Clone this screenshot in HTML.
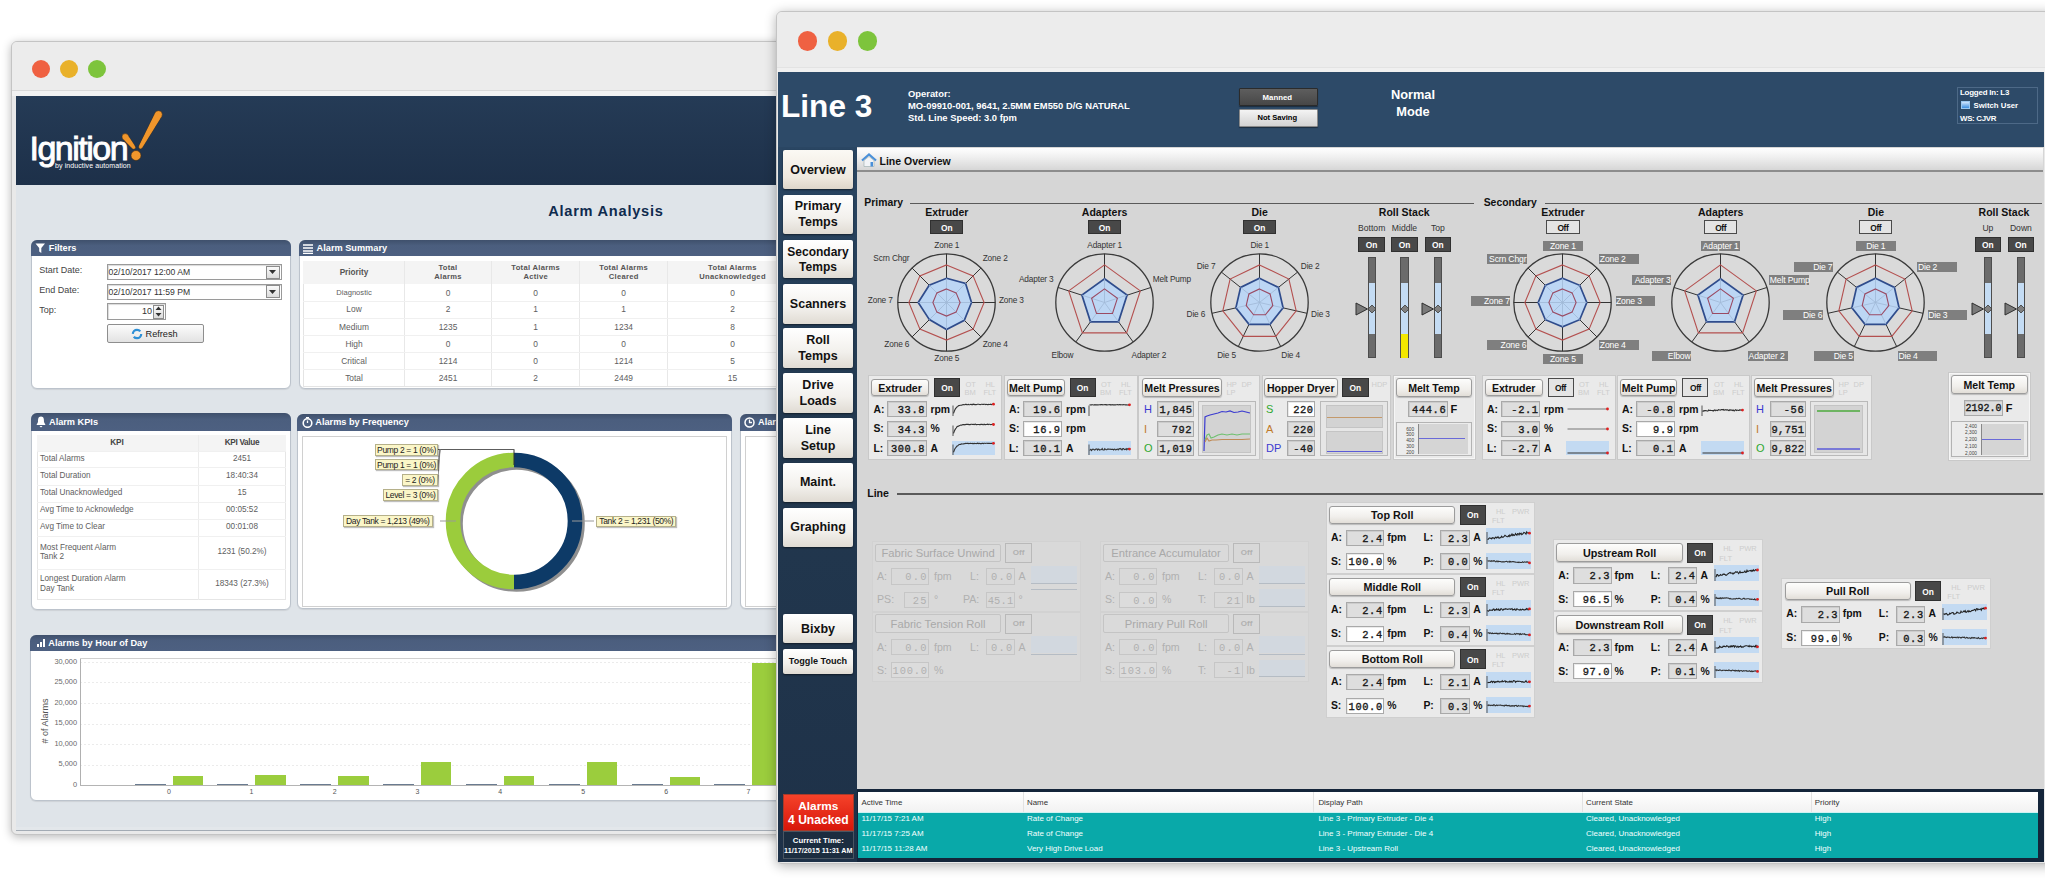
<!DOCTYPE html><html><head><meta charset="utf-8"><style>
html,body{margin:0;padding:0;}
body{width:2045px;height:878px;position:relative;overflow:hidden;background:#fff;font-family:"Liberation Sans",sans-serif;}
div{box-sizing:border-box;}
.mono{font-family:"Liberation Mono",monospace;}
.btn{background:linear-gradient(#fdfdfb,#ece8e2);border:1px solid #a9a9a9;border-radius:3px;box-shadow:0 1px 1px rgba(0,0,0,.25);}
.on{background:#474747;border:1px solid #2e2e2e;color:#fff;font-weight:bold;text-align:center;}
</style></head><body>

<div style="position:absolute;left:11px;top:41px;width:800px;height:794px;background:#e9e9e9;border:1px solid #c4c4c4;border-radius:6px;box-shadow:0 2px 10px rgba(0,0,0,.28);"></div>
<div style="position:absolute;left:12px;top:42px;width:790px;height:48px;background:#ececec;border-radius:5px 5px 0 0;"></div>
<div style="position:absolute;left:12px;top:89.5px;width:790px;height:1px;background:#d9d9d9;"></div>
<div style="position:absolute;left:12px;top:90.5px;width:790px;height:5.5px;background:#f2f2f2;"></div>
<div style="position:absolute;left:32.0px;top:60.0px;width:18.4px;height:18.4px;background:#ef6142;border-radius:50%;"></div>
<div style="position:absolute;left:59.8px;top:60.0px;width:18.4px;height:18.4px;background:#e9b12a;border-radius:50%;"></div>
<div style="position:absolute;left:87.6px;top:60.0px;width:18.4px;height:18.4px;background:#7dc43c;border-radius:50%;"></div>
<div style="position:absolute;left:15.7px;top:96px;width:770px;height:89px;background:linear-gradient(#253b56,#1d3049);"></div>
<div style="position:absolute;left:29.5px;top:127.5px;font-size:34px;color:#fff;letter-spacing:-1.5px;line-height:40px;font-weight:normal;-webkit-text-stroke:0.9px #fff;">Ignition</div>
<div style="position:absolute;left:55px;top:160.8px;font-size:7px;color:#fff;line-height:10px;letter-spacing:0.1px;">by inductive automation</div>
<svg style="position:absolute;left:110px;top:105px" width="60" height="60"><g fill="#f0962c" stroke="#3a2a1a" stroke-width="0.5"><path d="M12.71 33.80 L22.40 43.63 L25.20 41.37 L17.69 29.80Z"/><circle cx="15.2" cy="31.8" r="3.2"/><circle cx="23.8" cy="42.5" r="1.8"/><path d="M12.96 33.60 L22.54 43.51 L25.06 41.49 L17.44 30.00Z" stroke="none"/></g><g fill="#f0962c" stroke="#3a2a1a" stroke-width="0.5"><path d="M45.18 7.66 L28.84 41.08 L32.16 42.92 L51.82 11.34Z"/><circle cx="48.5" cy="9.5" r="3.8"/><circle cx="30.5" cy="42" r="1.9"/><path d="M45.51 7.84 L29.00 41.17 L32.00 42.83 L51.49 11.16Z" stroke="none"/></g><circle cx="26" cy="50.5" r="5" fill="#f0962c" stroke="#3a2a1a" stroke-width="0.6"/></svg>
<div style="position:absolute;left:15.7px;top:185px;width:770px;height:642px;background:#dfe4e9;"></div>
<div style="position:absolute;left:15.7px;top:827px;width:770px;height:3px;background:#e3e7eb;"></div>
<div style="position:absolute;left:15.7px;top:830px;width:770px;height:1.3px;background:#a3abb4;"></div>
<div style="position:absolute;left:548.2px;top:203.0px;width:400px;height:17.52px;line-height:17.52px;font-size:14.6px;color:#0f2b4e;font-weight:bold;text-align:left;white-space:nowrap;letter-spacing:0.75px;">Alarm Analysis</div>
<div style="position:absolute;left:30.8px;top:240px;width:260.4px;height:149px;background:#fff;border:1px solid #bcc3cc;border-radius:6px;box-shadow:0 1px 1px rgba(0,0,0,.08);"></div>
<div style="position:absolute;left:30.8px;top:240px;width:260.4px;height:16.4px;background:linear-gradient(#3f506c,#4b5e7e 35%,#4d6081);border-radius:6px 6px 0 0;"></div>
<svg style="position:absolute;left:35px;top:243px" width="11" height="11"><path d="M0.5 0.5 H10 L6.3 5 V10 L4.2 8.5 V5 Z" fill="#fff"/></svg>
<div style="position:absolute;left:48.8px;top:243.2px;width:400px;height:11.04px;line-height:11.04px;font-size:9.2px;color:#fff;font-weight:bold;text-align:left;white-space:nowrap;">Filters</div>
<div style="position:absolute;left:39.3px;top:265.3px;width:400px;height:10.799999999999999px;line-height:10.799999999999999px;font-size:9px;color:#444;font-weight:normal;text-align:left;white-space:nowrap;">Start Date:</div>
<div style="position:absolute;left:39.3px;top:285.3px;width:400px;height:10.799999999999999px;line-height:10.799999999999999px;font-size:9px;color:#444;font-weight:normal;text-align:left;white-space:nowrap;">End Date:</div>
<div style="position:absolute;left:39.3px;top:305.3px;width:400px;height:10.799999999999999px;line-height:10.799999999999999px;font-size:9px;color:#444;font-weight:normal;text-align:left;white-space:nowrap;">Top:</div>
<div style="position:absolute;left:106.5px;top:264px;width:175px;height:16.3px;background:#fff;border:1px solid #9a9a9a;box-shadow:inset 1px 1px 1px rgba(0,0,0,.15);"></div>
<div style="position:absolute;left:108.5px;top:267.3px;width:400px;height:10.319999999999999px;line-height:10.319999999999999px;font-size:8.6px;color:#333;font-weight:normal;text-align:left;white-space:nowrap;">02/10/2017 12:00 AM</div>
<div style="position:absolute;left:266px;top:265.5px;width:14px;height:13.3px;background:linear-gradient(#fafafa,#dcdcdc);border:1px solid #8c8c8c;"></div>
<svg style="position:absolute;left:269px;top:270px" width="8" height="5"><path d="M0 0 H7 L3.5 4 Z" fill="#333"/></svg>
<div style="position:absolute;left:106.5px;top:283.5px;width:175px;height:16.3px;background:#fff;border:1px solid #9a9a9a;box-shadow:inset 1px 1px 1px rgba(0,0,0,.15);"></div>
<div style="position:absolute;left:108.5px;top:286.8px;width:400px;height:10.319999999999999px;line-height:10.319999999999999px;font-size:8.6px;color:#333;font-weight:normal;text-align:left;white-space:nowrap;">02/10/2017 11:59 PM</div>
<div style="position:absolute;left:266px;top:285.0px;width:14px;height:13.3px;background:linear-gradient(#fafafa,#dcdcdc);border:1px solid #8c8c8c;"></div>
<svg style="position:absolute;left:269px;top:289.5px" width="8" height="5"><path d="M0 0 H7 L3.5 4 Z" fill="#333"/></svg>
<div style="position:absolute;left:106.5px;top:303.3px;width:59px;height:16.3px;background:#fff;border:1px solid #9a9a9a;box-shadow:inset 1px 1px 1px rgba(0,0,0,.15);"></div>
<div style="position:absolute;left:112.0px;top:306.2px;width:40px;height:10.799999999999999px;line-height:10.799999999999999px;font-size:9px;color:#333;font-weight:normal;text-align:right;white-space:nowrap;">10</div>
<div style="position:absolute;left:153px;top:304.5px;width:11px;height:14px;background:linear-gradient(#fafafa,#dcdcdc);border:1px solid #8c8c8c;"></div>
<svg style="position:absolute;left:155px;top:306px" width="8" height="11"><path d="M0.5 4 L3.5 0.5 L6.5 4 Z M0.5 7 L3.5 10.5 L6.5 7 Z" fill="#333"/></svg>
<div style="position:absolute;left:106.5px;top:324px;width:97px;height:19px;background:linear-gradient(#fcfcfc,#e2e2e2);border:1px solid #8e8e8e;border-radius:2px;"></div>
<svg style="position:absolute;left:131px;top:327.5px" width="12" height="12"><circle cx="6" cy="6" r="4.2" fill="none" stroke="#2d8fd6" stroke-width="2.2" stroke-dasharray="10 3"/></svg>
<div style="position:absolute;left:145.5px;top:328.5px;width:400px;height:11.04px;line-height:11.04px;font-size:9.2px;color:#222;font-weight:normal;text-align:left;white-space:nowrap;">Refresh</div>
<div style="position:absolute;left:298.6px;top:240.3px;width:520px;height:149px;background:#fff;border:1px solid #bcc3cc;border-radius:6px;box-shadow:0 1px 1px rgba(0,0,0,.08);"></div>
<div style="position:absolute;left:298.6px;top:240.3px;width:520px;height:16.1px;background:linear-gradient(#3f506c,#4b5e7e 35%,#4d6081);border-radius:6px 6px 0 0;"></div>
<svg style="position:absolute;left:303px;top:243.5px" width="10" height="10"><path d="M0 1h10M0 4h10M0 7h10M0 9.5h10" stroke="#fff" stroke-width="1.5"/></svg>
<div style="position:absolute;left:316.6px;top:243.3px;width:400px;height:11.04px;line-height:11.04px;font-size:9.2px;color:#fff;font-weight:bold;text-align:left;white-space:nowrap;">Alarm Summary</div>
<div style="position:absolute;left:303.4px;top:261.3px;width:486.6px;height:125.5px;background:#fff;border:1px solid #e4e4e4;"></div>
<div style="position:absolute;left:303.4px;top:261.3px;width:486.6px;height:23px;background:#f4f4f4;"></div>
<div style="position:absolute;left:403.7px;top:261.3px;width:1px;height:125.2px;background:#e8e8e8;"></div>
<div style="position:absolute;left:490.5px;top:261.3px;width:1px;height:125.2px;background:#e8e8e8;"></div>
<div style="position:absolute;left:578.5px;top:261.3px;width:1px;height:125.2px;background:#e8e8e8;"></div>
<div style="position:absolute;left:666.5px;top:261.3px;width:1px;height:125.2px;background:#e8e8e8;"></div>
<div style="position:absolute;left:303.4px;top:300.9px;width:486.6px;height:1px;background:#f0f0f0;"></div>
<div style="position:absolute;left:303.4px;top:318px;width:486.6px;height:1px;background:#f0f0f0;"></div>
<div style="position:absolute;left:303.4px;top:335px;width:486.6px;height:1px;background:#f0f0f0;"></div>
<div style="position:absolute;left:303.4px;top:352px;width:486.6px;height:1px;background:#f0f0f0;"></div>
<div style="position:absolute;left:303.4px;top:369.4px;width:486.6px;height:1px;background:#f0f0f0;"></div>
<div style="position:absolute;left:304.0px;top:267.6px;width:100px;height:9.839999999999998px;line-height:9.839999999999998px;font-size:8.2px;color:#555;font-weight:bold;text-align:center;white-space:nowrap;">Priority</div>
<div style="position:absolute;left:398.0px;top:262.9px;width:100px;height:9.12px;line-height:9.12px;font-size:7.6px;color:#555;font-weight:bold;text-align:center;white-space:nowrap;letter-spacing:0.3px;">Total</div>
<div style="position:absolute;left:398.0px;top:272.2px;width:100px;height:9.12px;line-height:9.12px;font-size:7.6px;color:#555;font-weight:bold;text-align:center;white-space:nowrap;letter-spacing:0.3px;">Alarms</div>
<div style="position:absolute;left:485.7px;top:262.9px;width:100px;height:9.12px;line-height:9.12px;font-size:7.6px;color:#555;font-weight:bold;text-align:center;white-space:nowrap;letter-spacing:0.3px;">Total Alarms</div>
<div style="position:absolute;left:485.7px;top:272.2px;width:100px;height:9.12px;line-height:9.12px;font-size:7.6px;color:#555;font-weight:bold;text-align:center;white-space:nowrap;letter-spacing:0.3px;">Active</div>
<div style="position:absolute;left:573.7px;top:262.9px;width:100px;height:9.12px;line-height:9.12px;font-size:7.6px;color:#555;font-weight:bold;text-align:center;white-space:nowrap;letter-spacing:0.3px;">Total Alarms</div>
<div style="position:absolute;left:573.7px;top:272.2px;width:100px;height:9.12px;line-height:9.12px;font-size:7.6px;color:#555;font-weight:bold;text-align:center;white-space:nowrap;letter-spacing:0.3px;">Cleared</div>
<div style="position:absolute;left:682.5px;top:262.9px;width:100px;height:9.12px;line-height:9.12px;font-size:7.6px;color:#555;font-weight:bold;text-align:center;white-space:nowrap;letter-spacing:0.3px;">Total Alarms</div>
<div style="position:absolute;left:682.5px;top:272.2px;width:100px;height:9.12px;line-height:9.12px;font-size:7.6px;color:#555;font-weight:bold;text-align:center;white-space:nowrap;letter-spacing:0.3px;">Unacknowledged</div>
<div style="position:absolute;left:304.0px;top:288.0px;width:100px;height:9.12px;line-height:9.12px;font-size:7.6px;color:#5e5e5e;font-weight:normal;text-align:center;white-space:nowrap;">Diagnostic</div>
<div style="position:absolute;left:398.0px;top:287.6px;width:100px;height:10.08px;line-height:10.08px;font-size:8.4px;color:#5e5e5e;font-weight:normal;text-align:center;white-space:nowrap;">0</div>
<div style="position:absolute;left:485.7px;top:287.6px;width:100px;height:10.08px;line-height:10.08px;font-size:8.4px;color:#5e5e5e;font-weight:normal;text-align:center;white-space:nowrap;">0</div>
<div style="position:absolute;left:573.7px;top:287.6px;width:100px;height:10.08px;line-height:10.08px;font-size:8.4px;color:#5e5e5e;font-weight:normal;text-align:center;white-space:nowrap;">0</div>
<div style="position:absolute;left:682.5px;top:287.6px;width:100px;height:10.08px;line-height:10.08px;font-size:8.4px;color:#5e5e5e;font-weight:normal;text-align:center;white-space:nowrap;">0</div>
<div style="position:absolute;left:304.0px;top:304.4px;width:100px;height:10.08px;line-height:10.08px;font-size:8.4px;color:#5e5e5e;font-weight:normal;text-align:center;white-space:nowrap;">Low</div>
<div style="position:absolute;left:398.0px;top:304.4px;width:100px;height:10.08px;line-height:10.08px;font-size:8.4px;color:#5e5e5e;font-weight:normal;text-align:center;white-space:nowrap;">2</div>
<div style="position:absolute;left:485.7px;top:304.4px;width:100px;height:10.08px;line-height:10.08px;font-size:8.4px;color:#5e5e5e;font-weight:normal;text-align:center;white-space:nowrap;">1</div>
<div style="position:absolute;left:573.7px;top:304.4px;width:100px;height:10.08px;line-height:10.08px;font-size:8.4px;color:#5e5e5e;font-weight:normal;text-align:center;white-space:nowrap;">1</div>
<div style="position:absolute;left:682.5px;top:304.4px;width:100px;height:10.08px;line-height:10.08px;font-size:8.4px;color:#5e5e5e;font-weight:normal;text-align:center;white-space:nowrap;">2</div>
<div style="position:absolute;left:304.0px;top:321.5px;width:100px;height:10.08px;line-height:10.08px;font-size:8.4px;color:#5e5e5e;font-weight:normal;text-align:center;white-space:nowrap;">Medium</div>
<div style="position:absolute;left:398.0px;top:321.5px;width:100px;height:10.08px;line-height:10.08px;font-size:8.4px;color:#5e5e5e;font-weight:normal;text-align:center;white-space:nowrap;">1235</div>
<div style="position:absolute;left:485.7px;top:321.5px;width:100px;height:10.08px;line-height:10.08px;font-size:8.4px;color:#5e5e5e;font-weight:normal;text-align:center;white-space:nowrap;">1</div>
<div style="position:absolute;left:573.7px;top:321.5px;width:100px;height:10.08px;line-height:10.08px;font-size:8.4px;color:#5e5e5e;font-weight:normal;text-align:center;white-space:nowrap;">1234</div>
<div style="position:absolute;left:682.5px;top:321.5px;width:100px;height:10.08px;line-height:10.08px;font-size:8.4px;color:#5e5e5e;font-weight:normal;text-align:center;white-space:nowrap;">8</div>
<div style="position:absolute;left:304.0px;top:338.5px;width:100px;height:10.08px;line-height:10.08px;font-size:8.4px;color:#5e5e5e;font-weight:normal;text-align:center;white-space:nowrap;">High</div>
<div style="position:absolute;left:398.0px;top:338.5px;width:100px;height:10.08px;line-height:10.08px;font-size:8.4px;color:#5e5e5e;font-weight:normal;text-align:center;white-space:nowrap;">0</div>
<div style="position:absolute;left:485.7px;top:338.5px;width:100px;height:10.08px;line-height:10.08px;font-size:8.4px;color:#5e5e5e;font-weight:normal;text-align:center;white-space:nowrap;">0</div>
<div style="position:absolute;left:573.7px;top:338.5px;width:100px;height:10.08px;line-height:10.08px;font-size:8.4px;color:#5e5e5e;font-weight:normal;text-align:center;white-space:nowrap;">0</div>
<div style="position:absolute;left:682.5px;top:338.5px;width:100px;height:10.08px;line-height:10.08px;font-size:8.4px;color:#5e5e5e;font-weight:normal;text-align:center;white-space:nowrap;">0</div>
<div style="position:absolute;left:304.0px;top:355.7px;width:100px;height:10.08px;line-height:10.08px;font-size:8.4px;color:#5e5e5e;font-weight:normal;text-align:center;white-space:nowrap;">Critical</div>
<div style="position:absolute;left:398.0px;top:355.7px;width:100px;height:10.08px;line-height:10.08px;font-size:8.4px;color:#5e5e5e;font-weight:normal;text-align:center;white-space:nowrap;">1214</div>
<div style="position:absolute;left:485.7px;top:355.7px;width:100px;height:10.08px;line-height:10.08px;font-size:8.4px;color:#5e5e5e;font-weight:normal;text-align:center;white-space:nowrap;">0</div>
<div style="position:absolute;left:573.7px;top:355.7px;width:100px;height:10.08px;line-height:10.08px;font-size:8.4px;color:#5e5e5e;font-weight:normal;text-align:center;white-space:nowrap;">1214</div>
<div style="position:absolute;left:682.5px;top:355.7px;width:100px;height:10.08px;line-height:10.08px;font-size:8.4px;color:#5e5e5e;font-weight:normal;text-align:center;white-space:nowrap;">5</div>
<div style="position:absolute;left:304.0px;top:372.9px;width:100px;height:10.08px;line-height:10.08px;font-size:8.4px;color:#5e5e5e;font-weight:normal;text-align:center;white-space:nowrap;">Total</div>
<div style="position:absolute;left:398.0px;top:372.9px;width:100px;height:10.08px;line-height:10.08px;font-size:8.4px;color:#5e5e5e;font-weight:normal;text-align:center;white-space:nowrap;">2451</div>
<div style="position:absolute;left:485.7px;top:372.9px;width:100px;height:10.08px;line-height:10.08px;font-size:8.4px;color:#5e5e5e;font-weight:normal;text-align:center;white-space:nowrap;">2</div>
<div style="position:absolute;left:573.7px;top:372.9px;width:100px;height:10.08px;line-height:10.08px;font-size:8.4px;color:#5e5e5e;font-weight:normal;text-align:center;white-space:nowrap;">2449</div>
<div style="position:absolute;left:682.5px;top:372.9px;width:100px;height:10.08px;line-height:10.08px;font-size:8.4px;color:#5e5e5e;font-weight:normal;text-align:center;white-space:nowrap;">15</div>
<div style="position:absolute;left:31px;top:413.4px;width:260px;height:196.6px;background:#fff;border:1px solid #bcc3cc;border-radius:6px;box-shadow:0 1px 1px rgba(0,0,0,.08);"></div>
<div style="position:absolute;left:31px;top:413.4px;width:260px;height:17.4px;background:linear-gradient(#3f506c,#4b5e7e 35%,#4d6081);border-radius:6px 6px 0 0;"></div>
<svg style="position:absolute;left:36px;top:416px" width="10" height="12"><path d="M5 0.5 C2 0.5 2 3.5 2 6 L0.5 9 H9.5 L8 6 C8 3.5 8 0.5 5 0.5Z M3.5 10 H6.5 L5 11.5Z" fill="#fff"/></svg>
<div style="position:absolute;left:49.0px;top:417.1px;width:400px;height:11.04px;line-height:11.04px;font-size:9.2px;color:#fff;font-weight:bold;text-align:left;white-space:nowrap;">Alarm KPIs</div>
<div style="position:absolute;left:37.4px;top:435px;width:248.6px;height:165px;background:#fff;border:1px solid #e6e6e6;"></div>
<div style="position:absolute;left:37.4px;top:435px;width:248.6px;height:15.5px;background:#f4f4f4;"></div>
<div style="position:absolute;left:197.7px;top:435px;width:1px;height:165px;background:#ececec;"></div>
<div style="position:absolute;left:37.4px;top:450.5px;width:248.6px;height:1px;background:#f0f0f0;"></div>
<div style="position:absolute;left:37.4px;top:467.2px;width:248.6px;height:1px;background:#f0f0f0;"></div>
<div style="position:absolute;left:37.4px;top:484.7px;width:248.6px;height:1px;background:#f0f0f0;"></div>
<div style="position:absolute;left:37.4px;top:501.9px;width:248.6px;height:1px;background:#f0f0f0;"></div>
<div style="position:absolute;left:37.4px;top:518.6px;width:248.6px;height:1px;background:#f0f0f0;"></div>
<div style="position:absolute;left:37.4px;top:536px;width:248.6px;height:1px;background:#f0f0f0;"></div>
<div style="position:absolute;left:37.4px;top:568.9px;width:248.6px;height:1px;background:#f0f0f0;"></div>
<div style="position:absolute;left:67.0px;top:437.9px;width:100px;height:9.839999999999998px;line-height:9.839999999999998px;font-size:8.2px;color:#444;font-weight:bold;text-align:center;white-space:nowrap;">KPI</div>
<div style="position:absolute;left:192.0px;top:437.9px;width:100px;height:9.839999999999998px;line-height:9.839999999999998px;font-size:8.2px;color:#444;font-weight:bold;text-align:center;white-space:nowrap;letter-spacing:-0.3px;">KPI Value</div>
<div style="position:absolute;left:40.0px;top:453.9px;width:400px;height:9.839999999999998px;line-height:9.839999999999998px;font-size:8.2px;color:#5e5e5e;font-weight:normal;text-align:left;white-space:nowrap;">Total Alarms</div>
<div style="position:absolute;left:192.0px;top:453.9px;width:100px;height:9.839999999999998px;line-height:9.839999999999998px;font-size:8.2px;color:#5e5e5e;font-weight:normal;text-align:center;white-space:nowrap;">2451</div>
<div style="position:absolute;left:40.0px;top:471.0px;width:400px;height:9.839999999999998px;line-height:9.839999999999998px;font-size:8.2px;color:#5e5e5e;font-weight:normal;text-align:left;white-space:nowrap;">Total Duration</div>
<div style="position:absolute;left:192.0px;top:471.0px;width:100px;height:9.839999999999998px;line-height:9.839999999999998px;font-size:8.2px;color:#5e5e5e;font-weight:normal;text-align:center;white-space:nowrap;">18:40:34</div>
<div style="position:absolute;left:40.0px;top:488.4px;width:400px;height:9.839999999999998px;line-height:9.839999999999998px;font-size:8.2px;color:#5e5e5e;font-weight:normal;text-align:left;white-space:nowrap;">Total Unacknowledged</div>
<div style="position:absolute;left:192.0px;top:488.4px;width:100px;height:9.839999999999998px;line-height:9.839999999999998px;font-size:8.2px;color:#5e5e5e;font-weight:normal;text-align:center;white-space:nowrap;">15</div>
<div style="position:absolute;left:40.0px;top:505.3px;width:400px;height:9.839999999999998px;line-height:9.839999999999998px;font-size:8.2px;color:#5e5e5e;font-weight:normal;text-align:left;white-space:nowrap;">Avg Time to Acknowledge</div>
<div style="position:absolute;left:192.0px;top:505.3px;width:100px;height:9.839999999999998px;line-height:9.839999999999998px;font-size:8.2px;color:#5e5e5e;font-weight:normal;text-align:center;white-space:nowrap;">00:05:52</div>
<div style="position:absolute;left:40.0px;top:522.4px;width:400px;height:9.839999999999998px;line-height:9.839999999999998px;font-size:8.2px;color:#5e5e5e;font-weight:normal;text-align:left;white-space:nowrap;">Avg Time to Clear</div>
<div style="position:absolute;left:192.0px;top:522.4px;width:100px;height:9.839999999999998px;line-height:9.839999999999998px;font-size:8.2px;color:#5e5e5e;font-weight:normal;text-align:center;white-space:nowrap;">00:01:08</div>
<div style="position:absolute;left:40.0px;top:542.6px;width:400px;height:9.839999999999998px;line-height:9.839999999999998px;font-size:8.2px;color:#5e5e5e;font-weight:normal;text-align:left;white-space:nowrap;">Most Frequent Alarm</div>
<div style="position:absolute;left:40.0px;top:551.9px;width:400px;height:9.839999999999998px;line-height:9.839999999999998px;font-size:8.2px;color:#5e5e5e;font-weight:normal;text-align:left;white-space:nowrap;">Tank 2</div>
<div style="position:absolute;left:192.0px;top:547.1px;width:100px;height:9.839999999999998px;line-height:9.839999999999998px;font-size:8.2px;color:#5e5e5e;font-weight:normal;text-align:center;white-space:nowrap;">1231 (50.2%)</div>
<div style="position:absolute;left:40.0px;top:574.1px;width:400px;height:9.839999999999998px;line-height:9.839999999999998px;font-size:8.2px;color:#5e5e5e;font-weight:normal;text-align:left;white-space:nowrap;">Longest Duration Alarm</div>
<div style="position:absolute;left:40.0px;top:583.6px;width:400px;height:9.839999999999998px;line-height:9.839999999999998px;font-size:8.2px;color:#5e5e5e;font-weight:normal;text-align:left;white-space:nowrap;">Day Tank</div>
<div style="position:absolute;left:192.0px;top:579.1px;width:100px;height:9.839999999999998px;line-height:9.839999999999998px;font-size:8.2px;color:#5e5e5e;font-weight:normal;text-align:center;white-space:nowrap;">18343 (27.3%)</div>
<div style="position:absolute;left:297.3px;top:413.6px;width:435.2px;height:195.4px;background:#fff;border:1px solid #bcc3cc;border-radius:6px;box-shadow:0 1px 1px rgba(0,0,0,.08);"></div>
<div style="position:absolute;left:297.3px;top:413.6px;width:435.2px;height:17.1px;background:linear-gradient(#3f506c,#4b5e7e 35%,#4d6081);border-radius:6px 6px 0 0;"></div>
<svg style="position:absolute;left:301.5px;top:416.5px" width="11" height="11"><circle cx="5.5" cy="6" r="4.3" fill="none" stroke="#fff" stroke-width="1.6"/><path d="M4 0.6h3M5.5 6V3.5" stroke="#fff" stroke-width="1.3"/></svg>
<div style="position:absolute;left:315.3px;top:417.1px;width:400px;height:11.04px;line-height:11.04px;font-size:9.2px;color:#fff;font-weight:bold;text-align:left;white-space:nowrap;">Alarms by Frequency</div>
<div style="position:absolute;left:302.2px;top:436.3px;width:424.8px;height:170.4px;background:#fff;border:1px solid #d0d0d0;"></div>
<svg style="position:absolute;left:434.4px;top:441px" width="160" height="160">
<circle cx="82.5" cy="82.5" r="61" fill="none" stroke="#8f8f8f" stroke-width="14.6"/>
<path d="M80 19 A61 61 0 0 1 80 141" fill="none" stroke="#0d3a67" stroke-width="14.6"/>
<path d="M80 141 A61 61 0 0 1 80 19" fill="none" stroke="#9bcc3c" stroke-width="14.6"/>
<line x1="80" y1="9" x2="80" y2="24" stroke="#333" stroke-width="1"/>
<line x1="22" y1="80" x2="6" y2="80" stroke="#999" stroke-width="1"/>
<line x1="138" y1="80" x2="162" y2="80" stroke="#999" stroke-width="1"/>
</svg>
<svg style="position:absolute;left:438px;top:448px" width="80" height="60"><path d="M0 1.5 L2 1.5 L75 1.5 L76.5 1.5" stroke="#333" stroke-width="0.8" fill="none"/><path d="M2 1.5 L0 16 M2 1.5 L-1 31 M2 1.5 L-1 46" stroke="#777" stroke-width="0.8" fill="none"/></svg>
<div style="position:absolute;left:375px;top:443.6px;width:63px;height:12px;background:#fbf6c8;border:1px solid #b5b08a;box-shadow:1px 1px 1px rgba(0,0,0,.25);"></div>
<div style="position:absolute;left:370.0px;top:444.8px;width:73px;height:10.2px;line-height:10.2px;font-size:8.5px;color:#222;font-weight:normal;text-align:center;white-space:nowrap;letter-spacing:-0.35px;">Pump 2 = 1 (0%)</div>
<div style="position:absolute;left:375px;top:458.8px;width:63px;height:11.7px;background:#fbf6c8;border:1px solid #b5b08a;box-shadow:1px 1px 1px rgba(0,0,0,.25);"></div>
<div style="position:absolute;left:370.0px;top:459.9px;width:73px;height:10.2px;line-height:10.2px;font-size:8.5px;color:#222;font-weight:normal;text-align:center;white-space:nowrap;letter-spacing:-0.35px;">Pump 1 = 1 (0%)</div>
<div style="position:absolute;left:402px;top:474px;width:36px;height:11.7px;background:#fbf6c8;border:1px solid #b5b08a;box-shadow:1px 1px 1px rgba(0,0,0,.25);"></div>
<div style="position:absolute;left:397.0px;top:475.1px;width:46px;height:10.2px;line-height:10.2px;font-size:8.5px;color:#222;font-weight:normal;text-align:center;white-space:nowrap;letter-spacing:-0.35px;">= 2 (0%)</div>
<div style="position:absolute;left:383px;top:488.6px;width:55px;height:12.2px;background:#fbf6c8;border:1px solid #b5b08a;box-shadow:1px 1px 1px rgba(0,0,0,.25);"></div>
<div style="position:absolute;left:378.0px;top:489.9px;width:65px;height:10.2px;line-height:10.2px;font-size:8.5px;color:#222;font-weight:normal;text-align:center;white-space:nowrap;letter-spacing:-0.35px;">Level = 3 (0%)</div>
<div style="position:absolute;left:342.6px;top:515px;width:90.4px;height:12.2px;background:#fbf6c8;border:1px solid #b5b08a;box-shadow:1px 1px 1px rgba(0,0,0,.25);"></div>
<div style="position:absolute;left:337.6px;top:516.3px;width:100.4px;height:10.2px;line-height:10.2px;font-size:8.5px;color:#222;font-weight:normal;text-align:center;white-space:nowrap;letter-spacing:-0.35px;">Day Tank = 1,213 (49%)</div>
<div style="position:absolute;left:596.4px;top:515.5px;width:79.9px;height:11.5px;background:#fbf6c8;border:1px solid #b5b08a;box-shadow:1px 1px 1px rgba(0,0,0,.25);"></div>
<div style="position:absolute;left:591.4px;top:516.4px;width:89.9px;height:10.2px;line-height:10.2px;font-size:8.5px;color:#222;font-weight:normal;text-align:center;white-space:nowrap;letter-spacing:-0.35px;">Tank 2 = 1,231 (50%)</div>
<div style="position:absolute;left:740px;top:413.6px;width:60px;height:195.4px;background:#fff;border:1px solid #bcc3cc;border-radius:6px;box-shadow:0 1px 1px rgba(0,0,0,.08);"></div>
<div style="position:absolute;left:740px;top:413.6px;width:60px;height:17.1px;background:linear-gradient(#3f506c,#4b5e7e 35%,#4d6081);border-radius:6px 6px 0 0;"></div>
<svg style="position:absolute;left:744px;top:416.5px" width="11" height="11"><circle cx="5.5" cy="5.5" r="4.5" fill="none" stroke="#fff" stroke-width="1.5"/><path d="M5.5 2.5V5.5H8" stroke="#fff" stroke-width="1.3" fill="none"/></svg>
<div style="position:absolute;left:758.0px;top:417.1px;width:400px;height:11.04px;line-height:11.04px;font-size:9.2px;color:#fff;font-weight:bold;text-align:left;white-space:nowrap;">Alarms</div>
<div style="position:absolute;left:745px;top:436.3px;width:60px;height:170.4px;background:#fff;border:1px solid #d0d0d0;"></div>
<div style="position:absolute;left:30.3px;top:634.5px;width:780px;height:166.5px;background:#fff;border:1px solid #bcc3cc;border-radius:6px;box-shadow:0 1px 1px rgba(0,0,0,.08);"></div>
<div style="position:absolute;left:30.3px;top:634.5px;width:780px;height:16.8px;background:linear-gradient(#3f506c,#4b5e7e 35%,#4d6081);border-radius:6px 6px 0 0;"></div>
<svg style="position:absolute;left:36px;top:637px" width="11" height="11"><path d="M1 7h2v3H1zM4 5h2v5H4zM7 2h2v8H7z" fill="#fff"/></svg>
<div style="position:absolute;left:48.3px;top:637.9px;width:400px;height:11.04px;line-height:11.04px;font-size:9.2px;color:#fff;font-weight:bold;text-align:left;white-space:nowrap;">Alarms by Hour of Day</div>
<div style="position:absolute;left:17.0px;top:657.5px;width:60px;height:8.88px;line-height:8.88px;font-size:7.4px;color:#6a6a6a;font-weight:normal;text-align:right;white-space:nowrap;">30,000</div>
<div style="position:absolute;left:80.2px;top:661.9px;width:700px;height:1px;background:repeating-linear-gradient(90deg,#ebebeb 0 2px,transparent 2px 4px);"></div>
<div style="position:absolute;left:17.0px;top:677.9px;width:60px;height:8.88px;line-height:8.88px;font-size:7.4px;color:#6a6a6a;font-weight:normal;text-align:right;white-space:nowrap;">25,000</div>
<div style="position:absolute;left:80.2px;top:682.3px;width:700px;height:1px;background:repeating-linear-gradient(90deg,#ebebeb 0 2px,transparent 2px 4px);"></div>
<div style="position:absolute;left:17.0px;top:698.6px;width:60px;height:8.88px;line-height:8.88px;font-size:7.4px;color:#6a6a6a;font-weight:normal;text-align:right;white-space:nowrap;">20,000</div>
<div style="position:absolute;left:80.2px;top:703px;width:700px;height:1px;background:repeating-linear-gradient(90deg,#ebebeb 0 2px,transparent 2px 4px);"></div>
<div style="position:absolute;left:17.0px;top:719.1px;width:60px;height:8.88px;line-height:8.88px;font-size:7.4px;color:#6a6a6a;font-weight:normal;text-align:right;white-space:nowrap;">15,000</div>
<div style="position:absolute;left:80.2px;top:723.5px;width:700px;height:1px;background:repeating-linear-gradient(90deg,#ebebeb 0 2px,transparent 2px 4px);"></div>
<div style="position:absolute;left:17.0px;top:739.6px;width:60px;height:8.88px;line-height:8.88px;font-size:7.4px;color:#6a6a6a;font-weight:normal;text-align:right;white-space:nowrap;">10,000</div>
<div style="position:absolute;left:80.2px;top:744px;width:700px;height:1px;background:repeating-linear-gradient(90deg,#ebebeb 0 2px,transparent 2px 4px);"></div>
<div style="position:absolute;left:17.0px;top:760.1px;width:60px;height:8.88px;line-height:8.88px;font-size:7.4px;color:#6a6a6a;font-weight:normal;text-align:right;white-space:nowrap;">5,000</div>
<div style="position:absolute;left:80.2px;top:764.5px;width:700px;height:1px;background:repeating-linear-gradient(90deg,#ebebeb 0 2px,transparent 2px 4px);"></div>
<div style="position:absolute;left:17.0px;top:780.6px;width:60px;height:8.88px;line-height:8.88px;font-size:7.4px;color:#6a6a6a;font-weight:normal;text-align:right;white-space:nowrap;">0</div>
<div style="position:absolute;left:80.2px;top:657.7px;width:1px;height:128px;background:#b0b0b0;"></div>
<div style="position:absolute;left:80.2px;top:657.7px;width:700px;height:1px;background:#d0d0d0;"></div>
<div style="position:absolute;left:80.2px;top:784.8px;width:700px;height:1px;background:#b4b4b4;"></div>
<div style="position:absolute;left:38px;top:714px;width:14px;height:14px;transform:translate(0,0) rotate(-90deg);transform-origin:center;"><div style="position:absolute;left:-30px;top:0;width:74px;text-align:center;font-size:9px;line-height:14px;color:#555;white-space:nowrap;">#&nbsp;of Alarms</div></div>
<div style="position:absolute;left:172.5px;top:776px;width:30.5px;height:9px;background:#9bcd3d;"></div>
<div style="position:absolute;left:134.5px;top:783.5px;width:31px;height:1.6px;background:#6a7b90;"></div>
<div style="position:absolute;left:159.0px;top:788.3px;width:20px;height:8.4px;line-height:8.4px;font-size:7px;color:#555;font-weight:normal;text-align:center;white-space:nowrap;">0</div>
<div style="position:absolute;left:255px;top:775px;width:30.5px;height:10px;background:#9bcd3d;"></div>
<div style="position:absolute;left:217px;top:783.5px;width:31px;height:1.6px;background:#6a7b90;"></div>
<div style="position:absolute;left:241.5px;top:788.3px;width:20px;height:8.4px;line-height:8.4px;font-size:7px;color:#555;font-weight:normal;text-align:center;white-space:nowrap;">1</div>
<div style="position:absolute;left:338.3px;top:775.6px;width:30.5px;height:9.399999999999977px;background:#9bcd3d;"></div>
<div style="position:absolute;left:300.3px;top:783.5px;width:31px;height:1.6px;background:#6a7b90;"></div>
<div style="position:absolute;left:324.8px;top:788.3px;width:20px;height:8.4px;line-height:8.4px;font-size:7px;color:#555;font-weight:normal;text-align:center;white-space:nowrap;">2</div>
<div style="position:absolute;left:420.9px;top:761.5px;width:30.5px;height:23.5px;background:#9bcd3d;"></div>
<div style="position:absolute;left:382.9px;top:783.5px;width:31px;height:1.6px;background:#6a7b90;"></div>
<div style="position:absolute;left:407.4px;top:788.3px;width:20px;height:8.4px;line-height:8.4px;font-size:7px;color:#555;font-weight:normal;text-align:center;white-space:nowrap;">3</div>
<div style="position:absolute;left:503.8px;top:776.3px;width:30.5px;height:8.700000000000045px;background:#9bcd3d;"></div>
<div style="position:absolute;left:465.8px;top:783.5px;width:31px;height:1.6px;background:#6a7b90;"></div>
<div style="position:absolute;left:490.3px;top:788.3px;width:20px;height:8.4px;line-height:8.4px;font-size:7px;color:#555;font-weight:normal;text-align:center;white-space:nowrap;">4</div>
<div style="position:absolute;left:586.8px;top:762px;width:30.5px;height:23px;background:#9bcd3d;"></div>
<div style="position:absolute;left:548.8px;top:783.5px;width:31px;height:1.6px;background:#6a7b90;"></div>
<div style="position:absolute;left:573.3px;top:788.3px;width:20px;height:8.4px;line-height:8.4px;font-size:7px;color:#555;font-weight:normal;text-align:center;white-space:nowrap;">5</div>
<div style="position:absolute;left:669.7px;top:776.8px;width:30.5px;height:8.200000000000045px;background:#9bcd3d;"></div>
<div style="position:absolute;left:631.7px;top:783.5px;width:31px;height:1.6px;background:#6a7b90;"></div>
<div style="position:absolute;left:656.2px;top:788.3px;width:20px;height:8.4px;line-height:8.4px;font-size:7px;color:#555;font-weight:normal;text-align:center;white-space:nowrap;">6</div>
<div style="position:absolute;left:751.9px;top:663px;width:30.5px;height:122px;background:#9bcd3d;"></div>
<div style="position:absolute;left:713.9px;top:783.5px;width:31px;height:1.6px;background:#6a7b90;"></div>
<div style="position:absolute;left:738.4px;top:788.3px;width:20px;height:8.4px;line-height:8.4px;font-size:7px;color:#555;font-weight:normal;text-align:center;white-space:nowrap;">7</div>
<div style="position:absolute;left:776px;top:11px;width:1280px;height:853px;background:#e9e9e9;border:1px solid #c4c4c4;border-radius:6px;box-shadow:0 2px 12px rgba(0,0,0,.30);"></div>
<div style="position:absolute;left:777px;top:12px;width:1270px;height:55px;background:#ececec;border-radius:5px 5px 0 0;"></div>
<div style="position:absolute;left:777px;top:67px;width:1270px;height:1px;background:#e3e3e3;"></div>
<div style="position:absolute;left:777px;top:68px;width:1270px;height:4px;background:#f0f0f0;"></div>
<div style="position:absolute;left:798.0px;top:31.4px;width:19.2px;height:19.2px;background:#ef6142;border-radius:50%;"></div>
<div style="position:absolute;left:827.8px;top:31.4px;width:19.2px;height:19.2px;background:#e9b12a;border-radius:50%;"></div>
<div style="position:absolute;left:858.0px;top:31.4px;width:19.2px;height:19.2px;background:#7dc43c;border-radius:50%;"></div>
<div style="position:absolute;left:778px;top:72px;width:1265.6px;height:75.4px;background:#2d4a68;"></div>
<div style="position:absolute;left:781.0px;top:88.2px;width:400px;height:37.92px;line-height:37.92px;font-size:31.6px;color:#fff;font-weight:bold;text-align:left;white-space:nowrap;">Line 3</div>
<div style="position:absolute;left:908.0px;top:87.9px;width:400px;height:11.28px;line-height:11.28px;font-size:9.4px;color:#fff;font-weight:bold;text-align:left;white-space:nowrap;">Operator:</div>
<div style="position:absolute;left:908.0px;top:100.0px;width:400px;height:11.28px;line-height:11.28px;font-size:9.4px;color:#fff;font-weight:bold;text-align:left;white-space:nowrap;">MO-09910-001, 9641, 2.5MM EM550 D/G NATURAL</div>
<div style="position:absolute;left:908.0px;top:112.1px;width:400px;height:11.28px;line-height:11.28px;font-size:9.4px;color:#fff;font-weight:bold;text-align:left;white-space:nowrap;">Std. Line Speed: 3.0 fpm</div>
<div style="position:absolute;left:1239.1px;top:88.4px;width:78.6px;height:18px;background:linear-gradient(#5e5e5e,#474747);border:1px solid #2b2b2b;border-radius:1px;box-shadow:0 1px 1px rgba(0,0,0,.4);"></div>
<div style="position:absolute;left:1237.3px;top:92.9px;width:80px;height:9.36px;line-height:9.36px;font-size:7.8px;color:#fff;font-weight:bold;text-align:center;white-space:nowrap;">Manned</div>
<div style="position:absolute;left:1239.1px;top:108.8px;width:78.6px;height:18.5px;background:linear-gradient(#f4f4f4,#d2d2d2);border:1px solid #8a8a8a;border-radius:1px;box-shadow:0 1px 1px rgba(0,0,0,.4);"></div>
<div style="position:absolute;left:1237.3px;top:113.4px;width:80px;height:9.12px;line-height:9.12px;font-size:7.6px;color:#000;font-weight:bold;text-align:center;white-space:nowrap;">Not Saving</div>
<div style="position:absolute;left:1373.0px;top:86.6px;width:80px;height:15.36px;line-height:15.36px;font-size:12.8px;color:#fff;font-weight:bold;text-align:center;white-space:nowrap;">Normal</div>
<div style="position:absolute;left:1373.0px;top:104.1px;width:80px;height:15.36px;line-height:15.36px;font-size:12.8px;color:#fff;font-weight:bold;text-align:center;white-space:nowrap;">Mode</div>
<div style="position:absolute;left:1956.8px;top:86.8px;width:81px;height:37px;border:1px solid #4d6987;"></div>
<div style="position:absolute;left:1960.0px;top:87.7px;width:400px;height:9.48px;line-height:9.48px;font-size:7.9px;color:#fff;font-weight:bold;text-align:left;white-space:nowrap;letter-spacing:-0.2px;">Logged In: L3</div>
<div style="position:absolute;left:1960.5px;top:100.5px;width:9px;height:8px;background:linear-gradient(#cfe6ff,#3d8fe0);border:1px solid #9cc8f0;"></div>
<div style="position:absolute;left:1973.5px;top:101.0px;width:400px;height:9.36px;line-height:9.36px;font-size:7.8px;color:#fff;font-weight:bold;text-align:left;white-space:nowrap;">Switch User</div>
<div style="position:absolute;left:1960.0px;top:114.2px;width:400px;height:9.48px;line-height:9.48px;font-size:7.9px;color:#fff;font-weight:bold;text-align:left;white-space:nowrap;letter-spacing:-0.3px;">WS: CJVR</div>
<div style="position:absolute;left:778px;top:147px;width:78.6px;height:714.6px;background:linear-gradient(#2a4663,#22384f 40%,#1e3148);"></div>
<div style="position:absolute;left:783px;top:149.7px;width:70px;height:39.70000000000002px;background:linear-gradient(#fbf9f4,#efe9df 70%,#ded6ca);border-radius:2px;box-shadow:0 1px 2px rgba(0,0,0,.5);"></div>
<div style="position:absolute;left:778.0px;top:162.6px;width:80px;height:15.0px;line-height:15.0px;font-size:12.5px;color:#111;font-weight:bold;text-align:center;white-space:nowrap;">Overview</div>
<div style="position:absolute;left:783px;top:194.5px;width:70px;height:39.0px;background:linear-gradient(#ffffff,#f2f0ec 60%,#e0dbd3);border-radius:2px;box-shadow:0 1px 2px rgba(0,0,0,.5);"></div>
<div style="position:absolute;left:778.0px;top:199.2px;width:80px;height:15.0px;line-height:15.0px;font-size:12.5px;color:#111;font-weight:bold;text-align:center;white-space:nowrap;">Primary</div>
<div style="position:absolute;left:778.0px;top:214.7px;width:80px;height:15.0px;line-height:15.0px;font-size:12.5px;color:#111;font-weight:bold;text-align:center;white-space:nowrap;">Temps</div>
<div style="position:absolute;left:783px;top:239.6px;width:70px;height:38.900000000000006px;background:linear-gradient(#ffffff,#f2f0ec 60%,#e0dbd3);border-radius:2px;box-shadow:0 1px 2px rgba(0,0,0,.5);"></div>
<div style="position:absolute;left:778.0px;top:244.6px;width:80px;height:14.399999999999999px;line-height:14.399999999999999px;font-size:12.0px;color:#111;font-weight:bold;text-align:center;white-space:nowrap;">Secondary</div>
<div style="position:absolute;left:778.0px;top:260.1px;width:80px;height:14.399999999999999px;line-height:14.399999999999999px;font-size:12.0px;color:#111;font-weight:bold;text-align:center;white-space:nowrap;">Temps</div>
<div style="position:absolute;left:783px;top:284px;width:70px;height:39.5px;background:linear-gradient(#ffffff,#f2f0ec 60%,#e0dbd3);border-radius:2px;box-shadow:0 1px 2px rgba(0,0,0,.5);"></div>
<div style="position:absolute;left:778.0px;top:296.8px;width:80px;height:15.0px;line-height:15.0px;font-size:12.5px;color:#111;font-weight:bold;text-align:center;white-space:nowrap;">Scanners</div>
<div style="position:absolute;left:783px;top:328.2px;width:70px;height:39.60000000000002px;background:linear-gradient(#ffffff,#f2f0ec 60%,#e0dbd3);border-radius:2px;box-shadow:0 1px 2px rgba(0,0,0,.5);"></div>
<div style="position:absolute;left:778.0px;top:333.2px;width:80px;height:15.0px;line-height:15.0px;font-size:12.5px;color:#111;font-weight:bold;text-align:center;white-space:nowrap;">Roll</div>
<div style="position:absolute;left:778.0px;top:348.7px;width:80px;height:15.0px;line-height:15.0px;font-size:12.5px;color:#111;font-weight:bold;text-align:center;white-space:nowrap;">Temps</div>
<div style="position:absolute;left:783px;top:373.3px;width:70px;height:39.599999999999966px;background:linear-gradient(#ffffff,#f2f0ec 60%,#e0dbd3);border-radius:2px;box-shadow:0 1px 2px rgba(0,0,0,.5);"></div>
<div style="position:absolute;left:778.0px;top:378.3px;width:80px;height:15.0px;line-height:15.0px;font-size:12.5px;color:#111;font-weight:bold;text-align:center;white-space:nowrap;">Drive</div>
<div style="position:absolute;left:778.0px;top:393.8px;width:80px;height:15.0px;line-height:15.0px;font-size:12.5px;color:#111;font-weight:bold;text-align:center;white-space:nowrap;">Loads</div>
<div style="position:absolute;left:783px;top:418.4px;width:70px;height:39.60000000000002px;background:linear-gradient(#ffffff,#f2f0ec 60%,#e0dbd3);border-radius:2px;box-shadow:0 1px 2px rgba(0,0,0,.5);"></div>
<div style="position:absolute;left:778.0px;top:423.4px;width:80px;height:15.0px;line-height:15.0px;font-size:12.5px;color:#111;font-weight:bold;text-align:center;white-space:nowrap;">Line</div>
<div style="position:absolute;left:778.0px;top:438.9px;width:80px;height:15.0px;line-height:15.0px;font-size:12.5px;color:#111;font-weight:bold;text-align:center;white-space:nowrap;">Setup</div>
<div style="position:absolute;left:783px;top:462.6px;width:70px;height:39.099999999999966px;background:linear-gradient(#ffffff,#f2f0ec 60%,#e0dbd3);border-radius:2px;box-shadow:0 1px 2px rgba(0,0,0,.5);"></div>
<div style="position:absolute;left:778.0px;top:475.1px;width:80px;height:15.0px;line-height:15.0px;font-size:12.5px;color:#111;font-weight:bold;text-align:center;white-space:nowrap;">Maint.</div>
<div style="position:absolute;left:783px;top:508px;width:70px;height:38.799999999999955px;background:linear-gradient(#ffffff,#f2f0ec 60%,#e0dbd3);border-radius:2px;box-shadow:0 1px 2px rgba(0,0,0,.5);"></div>
<div style="position:absolute;left:778.0px;top:520.4px;width:80px;height:15.0px;line-height:15.0px;font-size:12.5px;color:#111;font-weight:bold;text-align:center;white-space:nowrap;">Graphing</div>
<div style="position:absolute;left:783px;top:614.4px;width:70px;height:28.899999999999977px;background:linear-gradient(#ffffff,#f2f0ec 60%,#e0dbd3);border-radius:2px;box-shadow:0 1px 2px rgba(0,0,0,.5);"></div>
<div style="position:absolute;left:778.0px;top:621.8px;width:80px;height:15.0px;line-height:15.0px;font-size:12.5px;color:#111;font-weight:bold;text-align:center;white-space:nowrap;">Bixby</div>
<div style="position:absolute;left:783px;top:648.6px;width:70px;height:25.600000000000023px;background:linear-gradient(#ffffff,#f2f0ec 60%,#e0dbd3);border-radius:2px;box-shadow:0 1px 2px rgba(0,0,0,.5);"></div>
<div style="position:absolute;left:778.0px;top:656.4px;width:80px;height:10.92px;line-height:10.92px;font-size:9.1px;color:#111;font-weight:bold;text-align:center;white-space:nowrap;">Toggle Touch</div>
<div style="position:absolute;left:856.6px;top:147px;width:1187px;height:642px;background:#d6d6d6;"></div>
<div style="position:absolute;left:857.4px;top:148.4px;width:1186px;height:24px;background:linear-gradient(#ffffff,#f0f0f0 40%,#d6d6d6);border-bottom:2px solid #8d8d8d;"></div>
<svg style="position:absolute;left:861px;top:153px" width="16" height="15"><path d="M1 7.5 L8 1.5 L15 7.5" fill="none" stroke="#4a90d9" stroke-width="2.2"/><path d="M3 7.5 V13.5 H13 V7.5 L8 3.5Z" fill="#f2f4f7" stroke="#9aa" stroke-width="0.6"/><rect x="9.5" y="9" width="2.5" height="4.5" fill="#4a90d9"/></svg>
<div style="position:absolute;left:879.5px;top:155.2px;width:400px;height:12.6px;line-height:12.6px;font-size:10.5px;color:#111;font-weight:bold;text-align:left;white-space:nowrap;">Line Overview</div>
<div style="position:absolute;left:864.3px;top:196.6px;width:400px;height:12.48px;line-height:12.48px;font-size:10.4px;color:#111;font-weight:bold;text-align:left;white-space:nowrap;">Primary</div>
<div style="position:absolute;left:910.3px;top:202.6px;width:564px;height:1.6px;background:#5a5a5a;"></div>
<div style="position:absolute;left:1483.7px;top:196.6px;width:400px;height:12.48px;line-height:12.48px;font-size:10.4px;color:#111;font-weight:bold;text-align:left;white-space:nowrap;">Secondary</div>
<div style="position:absolute;left:1545px;top:202.6px;width:497px;height:1.6px;background:#5a5a5a;"></div>
<div style="position:absolute;left:867.2px;top:486.6px;width:400px;height:12.719999999999999px;line-height:12.719999999999999px;font-size:10.6px;color:#111;font-weight:bold;text-align:left;white-space:nowrap;">Line</div>
<div style="position:absolute;left:896.6px;top:493.4px;width:1146px;height:1.6px;background:#5a5a5a;"></div>
<div style="position:absolute;left:906.8px;top:206.2px;width:80px;height:12.6px;line-height:12.6px;font-size:10.5px;color:#111;font-weight:bold;text-align:center;white-space:nowrap;">Extruder</div>
<div style="position:absolute;left:930.0999999999999px;top:220.3px;width:33.40000000000009px;height:13.899999999999977px;background:#484848;border:1px solid #303030;"></div>
<div style="position:absolute;left:926.8px;top:222.5px;width:40px;height:10.08px;line-height:10.08px;font-size:8.4px;color:#fff;font-weight:bold;text-align:center;white-space:nowrap;">On</div>
<div style="position:absolute;left:1064.6px;top:206.2px;width:80px;height:12.6px;line-height:12.6px;font-size:10.5px;color:#111;font-weight:bold;text-align:center;white-space:nowrap;">Adapters</div>
<div style="position:absolute;left:1087.8999999999999px;top:220.3px;width:33.40000000000009px;height:13.899999999999977px;background:#484848;border:1px solid #303030;"></div>
<div style="position:absolute;left:1084.6px;top:222.5px;width:40px;height:10.08px;line-height:10.08px;font-size:8.4px;color:#fff;font-weight:bold;text-align:center;white-space:nowrap;">On</div>
<div style="position:absolute;left:1219.7px;top:206.2px;width:80px;height:12.6px;line-height:12.6px;font-size:10.5px;color:#111;font-weight:bold;text-align:center;white-space:nowrap;">Die</div>
<div style="position:absolute;left:1243.0px;top:220.3px;width:33.40000000000009px;height:13.899999999999977px;background:#484848;border:1px solid #303030;"></div>
<div style="position:absolute;left:1239.7px;top:222.5px;width:40px;height:10.08px;line-height:10.08px;font-size:8.4px;color:#fff;font-weight:bold;text-align:center;white-space:nowrap;">On</div>
<svg style="position:absolute;left:886.0px;top:242.0px" width="121" height="121"><circle cx="60.5" cy="60.5" r="48.7" fill="#dadada" stroke="#3a3a3a" stroke-width="1.3"/><line x1="60.5" y1="60.5" x2="60.5" y2="11.8" stroke="#333" stroke-width="1"/><line x1="60.5" y1="60.5" x2="94.9" y2="26.1" stroke="#333" stroke-width="1"/><line x1="60.5" y1="60.5" x2="109.2" y2="60.5" stroke="#333" stroke-width="1"/><line x1="60.5" y1="60.5" x2="94.9" y2="94.9" stroke="#333" stroke-width="1"/><line x1="60.5" y1="60.5" x2="60.5" y2="109.2" stroke="#333" stroke-width="1"/><line x1="60.5" y1="60.5" x2="26.1" y2="94.9" stroke="#333" stroke-width="1"/><line x1="60.5" y1="60.5" x2="11.8" y2="60.5" stroke="#333" stroke-width="1"/><line x1="60.5" y1="60.5" x2="26.1" y2="26.1" stroke="#333" stroke-width="1"/><polygon points="60.5,22.9 87.1,33.9 98.1,60.5 87.1,87.1 60.5,98.1 33.9,87.1 22.9,60.5 33.9,33.9" fill="none" stroke="#b4504f" stroke-width="1.1"/><polygon points="60.5,36.3 79.6,41.4 85.5,60.5 78.3,78.3 60.5,87.6 43.4,77.6 32.2,60.5 43.2,43.2" fill="#bcd6f4" stroke="#2f4c8c" stroke-width="1.7"/><line x1="60.5" y1="60.5" x2="60.5" y2="36.3" stroke="#9fb7d6" stroke-width="0.8"/><line x1="60.5" y1="60.5" x2="79.6" y2="41.4" stroke="#9fb7d6" stroke-width="0.8"/><line x1="60.5" y1="60.5" x2="85.5" y2="60.5" stroke="#9fb7d6" stroke-width="0.8"/><line x1="60.5" y1="60.5" x2="78.3" y2="78.3" stroke="#9fb7d6" stroke-width="0.8"/><line x1="60.5" y1="60.5" x2="60.5" y2="87.6" stroke="#9fb7d6" stroke-width="0.8"/><line x1="60.5" y1="60.5" x2="43.4" y2="77.6" stroke="#9fb7d6" stroke-width="0.8"/><line x1="60.5" y1="60.5" x2="32.2" y2="60.5" stroke="#9fb7d6" stroke-width="0.8"/><line x1="60.5" y1="60.5" x2="43.2" y2="43.2" stroke="#9fb7d6" stroke-width="0.8"/><polygon points="60.5,46.9 70.1,50.9 74.1,60.5 70.1,70.1 60.5,74.1 50.9,70.1 46.9,60.5 50.9,50.9" fill="none" stroke="#9a4a63" stroke-width="1.1"/></svg>
<svg style="position:absolute;left:1044.0px;top:242.0px" width="121" height="121"><circle cx="60.5" cy="60.5" r="48.7" fill="#dadada" stroke="#3a3a3a" stroke-width="1.3"/><line x1="60.5" y1="60.5" x2="60.5" y2="11.8" stroke="#333" stroke-width="1"/><line x1="60.5" y1="60.5" x2="106.8" y2="45.5" stroke="#333" stroke-width="1"/><line x1="60.5" y1="60.5" x2="89.1" y2="99.9" stroke="#333" stroke-width="1"/><line x1="60.5" y1="60.5" x2="31.9" y2="99.9" stroke="#333" stroke-width="1"/><line x1="60.5" y1="60.5" x2="14.2" y2="45.5" stroke="#333" stroke-width="1"/><polygon points="60.5,22.9 96.3,48.9 82.6,90.9 38.4,90.9 24.7,48.9" fill="none" stroke="#b4504f" stroke-width="1.1"/><polygon points="60.5,36.7 83.1,53.1 74.5,79.8 46.5,79.8 37.9,53.1" fill="#bcd6f4" stroke="#2f4c8c" stroke-width="1.7"/><line x1="60.5" y1="60.5" x2="60.5" y2="36.7" stroke="#9fb7d6" stroke-width="0.8"/><line x1="60.5" y1="60.5" x2="83.1" y2="53.1" stroke="#9fb7d6" stroke-width="0.8"/><line x1="60.5" y1="60.5" x2="74.5" y2="79.8" stroke="#9fb7d6" stroke-width="0.8"/><line x1="60.5" y1="60.5" x2="46.5" y2="79.8" stroke="#9fb7d6" stroke-width="0.8"/><line x1="60.5" y1="60.5" x2="37.9" y2="53.1" stroke="#9fb7d6" stroke-width="0.8"/><polygon points="60.5,46.9 73.4,56.3 68.5,71.5 52.5,71.5 47.6,56.3" fill="none" stroke="#9a4a63" stroke-width="1.1"/></svg>
<svg style="position:absolute;left:1199.0px;top:242.0px" width="121" height="121"><circle cx="60.5" cy="60.5" r="48.7" fill="#dadada" stroke="#3a3a3a" stroke-width="1.3"/><line x1="60.5" y1="60.5" x2="60.5" y2="11.8" stroke="#333" stroke-width="1"/><line x1="60.5" y1="60.5" x2="98.6" y2="30.1" stroke="#333" stroke-width="1"/><line x1="60.5" y1="60.5" x2="108.0" y2="71.3" stroke="#333" stroke-width="1"/><line x1="60.5" y1="60.5" x2="81.6" y2="104.4" stroke="#333" stroke-width="1"/><line x1="60.5" y1="60.5" x2="39.4" y2="104.4" stroke="#333" stroke-width="1"/><line x1="60.5" y1="60.5" x2="13.0" y2="71.3" stroke="#333" stroke-width="1"/><line x1="60.5" y1="60.5" x2="22.4" y2="30.1" stroke="#333" stroke-width="1"/><polygon points="60.5,22.9 89.9,37.1 97.2,68.9 76.8,94.4 44.2,94.4 23.8,68.9 31.1,37.1" fill="none" stroke="#b4504f" stroke-width="1.1"/><polygon points="60.5,36.3 79.4,45.4 84.1,65.9 71.0,82.3 50.0,82.3 36.9,65.9 41.6,45.4" fill="#bcd6f4" stroke="#2f4c8c" stroke-width="1.7"/><line x1="60.5" y1="60.5" x2="60.5" y2="36.3" stroke="#9fb7d6" stroke-width="0.8"/><line x1="60.5" y1="60.5" x2="79.4" y2="45.4" stroke="#9fb7d6" stroke-width="0.8"/><line x1="60.5" y1="60.5" x2="84.1" y2="65.9" stroke="#9fb7d6" stroke-width="0.8"/><line x1="60.5" y1="60.5" x2="71.0" y2="82.3" stroke="#9fb7d6" stroke-width="0.8"/><line x1="60.5" y1="60.5" x2="50.0" y2="82.3" stroke="#9fb7d6" stroke-width="0.8"/><line x1="60.5" y1="60.5" x2="36.9" y2="65.9" stroke="#9fb7d6" stroke-width="0.8"/><line x1="60.5" y1="60.5" x2="41.6" y2="45.4" stroke="#9fb7d6" stroke-width="0.8"/><polygon points="60.5,46.9 71.1,52.0 73.8,63.5 66.4,72.8 54.6,72.8 47.2,63.5 49.9,52.0" fill="none" stroke="#9a4a63" stroke-width="1.1"/></svg>
<div style="position:absolute;left:916.8px;top:240.7px;width:60px;height:9.96px;line-height:9.96px;font-size:8.3px;color:#333;font-weight:normal;text-align:center;white-space:nowrap;letter-spacing:-0.15px;">Zone 1</div>
<div style="position:absolute;left:982.7px;top:254.2px;width:60px;height:9.96px;line-height:9.96px;font-size:8.3px;color:#333;font-weight:normal;text-align:left;white-space:nowrap;letter-spacing:-0.15px;">Zone 2</div>
<div style="position:absolute;left:998.9px;top:296.4px;width:60px;height:9.96px;line-height:9.96px;font-size:8.3px;color:#333;font-weight:normal;text-align:left;white-space:nowrap;letter-spacing:-0.15px;">Zone 3</div>
<div style="position:absolute;left:982.7px;top:340.1px;width:60px;height:9.96px;line-height:9.96px;font-size:8.3px;color:#333;font-weight:normal;text-align:left;white-space:nowrap;letter-spacing:-0.15px;">Zone 4</div>
<div style="position:absolute;left:916.8px;top:354.3px;width:60px;height:9.96px;line-height:9.96px;font-size:8.3px;color:#333;font-weight:normal;text-align:center;white-space:nowrap;letter-spacing:-0.15px;">Zone 5</div>
<div style="position:absolute;left:849.3px;top:340.1px;width:60px;height:9.96px;line-height:9.96px;font-size:8.3px;color:#333;font-weight:normal;text-align:right;white-space:nowrap;letter-spacing:-0.15px;">Zone 6</div>
<div style="position:absolute;left:832.7px;top:296.4px;width:60px;height:9.96px;line-height:9.96px;font-size:8.3px;color:#333;font-weight:normal;text-align:right;white-space:nowrap;letter-spacing:-0.15px;">Zone 7</div>
<div style="position:absolute;left:849.3px;top:254.2px;width:60px;height:9.96px;line-height:9.96px;font-size:8.3px;color:#333;font-weight:normal;text-align:right;white-space:nowrap;letter-spacing:-0.15px;">Scrn Chgr</div>
<div style="position:absolute;left:1074.6px;top:240.7px;width:60px;height:9.96px;line-height:9.96px;font-size:8.3px;color:#333;font-weight:normal;text-align:center;white-space:nowrap;letter-spacing:-0.15px;">Adapter 1</div>
<div style="position:absolute;left:1152.7px;top:275.4px;width:60px;height:9.96px;line-height:9.96px;font-size:8.3px;color:#333;font-weight:normal;text-align:left;white-space:nowrap;letter-spacing:-0.15px;">Melt Pump</div>
<div style="position:absolute;left:1131.5px;top:350.8px;width:60px;height:9.96px;line-height:9.96px;font-size:8.3px;color:#333;font-weight:normal;text-align:left;white-space:nowrap;letter-spacing:-0.15px;">Adapter 2</div>
<div style="position:absolute;left:1013.4px;top:350.8px;width:60px;height:9.96px;line-height:9.96px;font-size:8.3px;color:#333;font-weight:normal;text-align:right;white-space:nowrap;letter-spacing:-0.15px;">Elbow</div>
<div style="position:absolute;left:993.6px;top:275.4px;width:60px;height:9.96px;line-height:9.96px;font-size:8.3px;color:#333;font-weight:normal;text-align:right;white-space:nowrap;letter-spacing:-0.15px;">Adapter 3</div>
<div style="position:absolute;left:1229.7px;top:241.0px;width:60px;height:9.96px;line-height:9.96px;font-size:8.3px;color:#333;font-weight:normal;text-align:center;white-space:nowrap;letter-spacing:-0.15px;">Die 1</div>
<div style="position:absolute;left:1300.8px;top:261.7px;width:60px;height:9.96px;line-height:9.96px;font-size:8.3px;color:#333;font-weight:normal;text-align:left;white-space:nowrap;letter-spacing:-0.15px;">Die 2</div>
<div style="position:absolute;left:1311.1px;top:310.1px;width:60px;height:9.96px;line-height:9.96px;font-size:8.3px;color:#333;font-weight:normal;text-align:left;white-space:nowrap;letter-spacing:-0.15px;">Die 3</div>
<div style="position:absolute;left:1281.3px;top:351.1px;width:60px;height:9.96px;line-height:9.96px;font-size:8.3px;color:#333;font-weight:normal;text-align:left;white-space:nowrap;letter-spacing:-0.15px;">Die 4</div>
<div style="position:absolute;left:1175.9px;top:351.1px;width:60px;height:9.96px;line-height:9.96px;font-size:8.3px;color:#333;font-weight:normal;text-align:right;white-space:nowrap;letter-spacing:-0.15px;">Die 5</div>
<div style="position:absolute;left:1145.2px;top:310.1px;width:60px;height:9.96px;line-height:9.96px;font-size:8.3px;color:#333;font-weight:normal;text-align:right;white-space:nowrap;letter-spacing:-0.15px;">Die 6</div>
<div style="position:absolute;left:1155.4px;top:261.7px;width:60px;height:9.96px;line-height:9.96px;font-size:8.3px;color:#333;font-weight:normal;text-align:right;white-space:nowrap;letter-spacing:-0.15px;">Die 7</div>
<div style="position:absolute;left:1522.9px;top:206.2px;width:80px;height:12.6px;line-height:12.6px;font-size:10.5px;color:#111;font-weight:bold;text-align:center;white-space:nowrap;">Extruder</div>
<div style="position:absolute;left:1546.2px;top:220.3px;width:33.40000000000009px;height:13.899999999999977px;background:#e4e4e4;border:1.5px solid #4a4a4a;"></div>
<div style="position:absolute;left:1542.9px;top:222.5px;width:40px;height:10.08px;line-height:10.08px;font-size:8.4px;color:#111;font-weight:bold;text-align:center;white-space:nowrap;letter-spacing:-0.4px;">Off</div>
<div style="position:absolute;left:1680.7px;top:206.2px;width:80px;height:12.6px;line-height:12.6px;font-size:10.5px;color:#111;font-weight:bold;text-align:center;white-space:nowrap;">Adapters</div>
<div style="position:absolute;left:1703.9999999999998px;top:220.3px;width:33.40000000000009px;height:13.899999999999977px;background:#e4e4e4;border:1.5px solid #4a4a4a;"></div>
<div style="position:absolute;left:1700.7px;top:222.5px;width:40px;height:10.08px;line-height:10.08px;font-size:8.4px;color:#111;font-weight:bold;text-align:center;white-space:nowrap;letter-spacing:-0.4px;">Off</div>
<div style="position:absolute;left:1835.8px;top:206.2px;width:80px;height:12.6px;line-height:12.6px;font-size:10.5px;color:#111;font-weight:bold;text-align:center;white-space:nowrap;">Die</div>
<div style="position:absolute;left:1859.1000000000001px;top:220.3px;width:33.40000000000009px;height:13.899999999999977px;background:#e4e4e4;border:1.5px solid #4a4a4a;"></div>
<div style="position:absolute;left:1855.8px;top:222.5px;width:40px;height:10.08px;line-height:10.08px;font-size:8.4px;color:#111;font-weight:bold;text-align:center;white-space:nowrap;letter-spacing:-0.4px;">Off</div>
<svg style="position:absolute;left:1502.0px;top:242.0px" width="121" height="121"><circle cx="60.5" cy="60.5" r="48.7" fill="#dadada" stroke="#3a3a3a" stroke-width="1.3"/><line x1="60.5" y1="60.5" x2="60.5" y2="11.8" stroke="#333" stroke-width="1"/><line x1="60.5" y1="60.5" x2="94.9" y2="26.1" stroke="#333" stroke-width="1"/><line x1="60.5" y1="60.5" x2="109.2" y2="60.5" stroke="#333" stroke-width="1"/><line x1="60.5" y1="60.5" x2="94.9" y2="94.9" stroke="#333" stroke-width="1"/><line x1="60.5" y1="60.5" x2="60.5" y2="109.2" stroke="#333" stroke-width="1"/><line x1="60.5" y1="60.5" x2="26.1" y2="94.9" stroke="#333" stroke-width="1"/><line x1="60.5" y1="60.5" x2="11.8" y2="60.5" stroke="#333" stroke-width="1"/><line x1="60.5" y1="60.5" x2="26.1" y2="26.1" stroke="#333" stroke-width="1"/><polygon points="60.5,22.9 87.1,33.9 98.1,60.5 87.1,87.1 60.5,98.1 33.9,87.1 22.9,60.5 33.9,33.9" fill="none" stroke="#b4504f" stroke-width="1.1"/><polygon points="60.5,36.2 77.7,43.3 84.8,60.5 77.7,77.7 60.5,84.8 43.3,77.7 36.2,60.5 43.3,43.3" fill="#bcd6f4" stroke="#2f4c8c" stroke-width="1.7"/><line x1="60.5" y1="60.5" x2="60.5" y2="36.2" stroke="#9fb7d6" stroke-width="0.8"/><line x1="60.5" y1="60.5" x2="77.7" y2="43.3" stroke="#9fb7d6" stroke-width="0.8"/><line x1="60.5" y1="60.5" x2="84.8" y2="60.5" stroke="#9fb7d6" stroke-width="0.8"/><line x1="60.5" y1="60.5" x2="77.7" y2="77.7" stroke="#9fb7d6" stroke-width="0.8"/><line x1="60.5" y1="60.5" x2="60.5" y2="84.8" stroke="#9fb7d6" stroke-width="0.8"/><line x1="60.5" y1="60.5" x2="43.3" y2="77.7" stroke="#9fb7d6" stroke-width="0.8"/><line x1="60.5" y1="60.5" x2="36.2" y2="60.5" stroke="#9fb7d6" stroke-width="0.8"/><line x1="60.5" y1="60.5" x2="43.3" y2="43.3" stroke="#9fb7d6" stroke-width="0.8"/><polygon points="60.5,46.9 70.1,50.9 74.1,60.5 70.1,70.1 60.5,74.1 50.9,70.1 46.9,60.5 50.9,50.9" fill="none" stroke="#9a4a63" stroke-width="1.1"/></svg>
<svg style="position:absolute;left:1660.0px;top:242.0px" width="121" height="121"><circle cx="60.5" cy="60.5" r="48.7" fill="#dadada" stroke="#3a3a3a" stroke-width="1.3"/><line x1="60.5" y1="60.5" x2="60.5" y2="11.8" stroke="#333" stroke-width="1"/><line x1="60.5" y1="60.5" x2="106.8" y2="45.5" stroke="#333" stroke-width="1"/><line x1="60.5" y1="60.5" x2="89.1" y2="99.9" stroke="#333" stroke-width="1"/><line x1="60.5" y1="60.5" x2="31.9" y2="99.9" stroke="#333" stroke-width="1"/><line x1="60.5" y1="60.5" x2="14.2" y2="45.5" stroke="#333" stroke-width="1"/><polygon points="60.5,22.9 96.3,48.9 82.6,90.9 38.4,90.9 24.7,48.9" fill="none" stroke="#b4504f" stroke-width="1.1"/><polygon points="60.5,36.7 83.1,53.1 74.5,79.8 46.5,79.8 37.9,53.1" fill="#bcd6f4" stroke="#2f4c8c" stroke-width="1.7"/><line x1="60.5" y1="60.5" x2="60.5" y2="36.7" stroke="#9fb7d6" stroke-width="0.8"/><line x1="60.5" y1="60.5" x2="83.1" y2="53.1" stroke="#9fb7d6" stroke-width="0.8"/><line x1="60.5" y1="60.5" x2="74.5" y2="79.8" stroke="#9fb7d6" stroke-width="0.8"/><line x1="60.5" y1="60.5" x2="46.5" y2="79.8" stroke="#9fb7d6" stroke-width="0.8"/><line x1="60.5" y1="60.5" x2="37.9" y2="53.1" stroke="#9fb7d6" stroke-width="0.8"/><polygon points="60.5,46.9 73.4,56.3 68.5,71.5 52.5,71.5 47.6,56.3" fill="none" stroke="#9a4a63" stroke-width="1.1"/></svg>
<svg style="position:absolute;left:1815.0px;top:242.0px" width="121" height="121"><circle cx="60.5" cy="60.5" r="48.7" fill="#dadada" stroke="#3a3a3a" stroke-width="1.3"/><line x1="60.5" y1="60.5" x2="60.5" y2="11.8" stroke="#333" stroke-width="1"/><line x1="60.5" y1="60.5" x2="98.6" y2="30.1" stroke="#333" stroke-width="1"/><line x1="60.5" y1="60.5" x2="108.0" y2="71.3" stroke="#333" stroke-width="1"/><line x1="60.5" y1="60.5" x2="81.6" y2="104.4" stroke="#333" stroke-width="1"/><line x1="60.5" y1="60.5" x2="39.4" y2="104.4" stroke="#333" stroke-width="1"/><line x1="60.5" y1="60.5" x2="13.0" y2="71.3" stroke="#333" stroke-width="1"/><line x1="60.5" y1="60.5" x2="22.4" y2="30.1" stroke="#333" stroke-width="1"/><polygon points="60.5,22.9 89.9,37.1 97.2,68.9 76.8,94.4 44.2,94.4 23.8,68.9 31.1,37.1" fill="none" stroke="#b4504f" stroke-width="1.1"/><polygon points="60.5,36.3 79.4,45.4 84.1,65.9 71.0,82.3 50.0,82.3 36.9,65.9 41.6,45.4" fill="#bcd6f4" stroke="#2f4c8c" stroke-width="1.7"/><line x1="60.5" y1="60.5" x2="60.5" y2="36.3" stroke="#9fb7d6" stroke-width="0.8"/><line x1="60.5" y1="60.5" x2="79.4" y2="45.4" stroke="#9fb7d6" stroke-width="0.8"/><line x1="60.5" y1="60.5" x2="84.1" y2="65.9" stroke="#9fb7d6" stroke-width="0.8"/><line x1="60.5" y1="60.5" x2="71.0" y2="82.3" stroke="#9fb7d6" stroke-width="0.8"/><line x1="60.5" y1="60.5" x2="50.0" y2="82.3" stroke="#9fb7d6" stroke-width="0.8"/><line x1="60.5" y1="60.5" x2="36.9" y2="65.9" stroke="#9fb7d6" stroke-width="0.8"/><line x1="60.5" y1="60.5" x2="41.6" y2="45.4" stroke="#9fb7d6" stroke-width="0.8"/><polygon points="60.5,46.9 71.1,52.0 73.8,63.5 66.4,72.8 54.6,72.8 47.2,63.5 49.9,52.0" fill="none" stroke="#9a4a63" stroke-width="1.1"/></svg>
<div style="position:absolute;left:1543.15px;top:240.65px;width:39.5px;height:10px;background:#7f7f7f;"></div>
<div style="position:absolute;left:1532.9px;top:240.5px;width:60px;height:10.319999999999999px;line-height:10.319999999999999px;font-size:8.6px;color:#fff;font-weight:normal;text-align:center;white-space:nowrap;letter-spacing:-0.15px;">Zone 1</div>
<div style="position:absolute;left:1599.3000000000002px;top:254.2px;width:39.5px;height:10px;background:#7f7f7f;"></div>
<div style="position:absolute;left:1599.8px;top:254.0px;width:60px;height:10.319999999999999px;line-height:10.319999999999999px;font-size:8.6px;color:#fff;font-weight:normal;text-align:left;white-space:nowrap;letter-spacing:-0.15px;">Zone 2</div>
<div style="position:absolute;left:1615.5px;top:296.35px;width:39.5px;height:10px;background:#7f7f7f;"></div>
<div style="position:absolute;left:1616.0px;top:296.2px;width:60px;height:10.319999999999999px;line-height:10.319999999999999px;font-size:8.6px;color:#fff;font-weight:normal;text-align:left;white-space:nowrap;letter-spacing:-0.15px;">Zone 3</div>
<div style="position:absolute;left:1599.3000000000002px;top:340.1px;width:39.5px;height:10px;background:#7f7f7f;"></div>
<div style="position:absolute;left:1599.8px;top:339.9px;width:60px;height:10.319999999999999px;line-height:10.319999999999999px;font-size:8.6px;color:#fff;font-weight:normal;text-align:left;white-space:nowrap;letter-spacing:-0.15px;">Zone 4</div>
<div style="position:absolute;left:1543.15px;top:354.25px;width:39.5px;height:10px;background:#7f7f7f;"></div>
<div style="position:absolute;left:1532.9px;top:354.1px;width:60px;height:10.319999999999999px;line-height:10.319999999999999px;font-size:8.6px;color:#fff;font-weight:normal;text-align:center;white-space:nowrap;letter-spacing:-0.15px;">Zone 5</div>
<div style="position:absolute;left:1487.4px;top:340.1px;width:39.5px;height:10px;background:#7f7f7f;"></div>
<div style="position:absolute;left:1466.4px;top:339.9px;width:60px;height:10.319999999999999px;line-height:10.319999999999999px;font-size:8.6px;color:#fff;font-weight:normal;text-align:right;white-space:nowrap;letter-spacing:-0.15px;">Zone 6</div>
<div style="position:absolute;left:1470.8000000000002px;top:296.35px;width:39.5px;height:10px;background:#7f7f7f;"></div>
<div style="position:absolute;left:1449.8px;top:296.2px;width:60px;height:10.319999999999999px;line-height:10.319999999999999px;font-size:8.6px;color:#fff;font-weight:normal;text-align:right;white-space:nowrap;letter-spacing:-0.15px;">Zone 7</div>
<div style="position:absolute;left:1487.4px;top:254.2px;width:39.5px;height:10px;background:#7f7f7f;"></div>
<div style="position:absolute;left:1466.4px;top:254.0px;width:60px;height:10.319999999999999px;line-height:10.319999999999999px;font-size:8.6px;color:#fff;font-weight:normal;text-align:right;white-space:nowrap;letter-spacing:-0.15px;">Scrn Chgr</div>
<div style="position:absolute;left:1700.9499999999998px;top:240.65px;width:39.5px;height:10px;background:#7f7f7f;"></div>
<div style="position:absolute;left:1690.7px;top:240.5px;width:60px;height:10.319999999999999px;line-height:10.319999999999999px;font-size:8.6px;color:#fff;font-weight:normal;text-align:center;white-space:nowrap;letter-spacing:-0.15px;">Adapter 1</div>
<div style="position:absolute;left:1769.2999999999997px;top:275.35px;width:39.5px;height:10px;background:#7f7f7f;"></div>
<div style="position:absolute;left:1769.8px;top:275.2px;width:60px;height:10.319999999999999px;line-height:10.319999999999999px;font-size:8.6px;color:#fff;font-weight:normal;text-align:left;white-space:nowrap;letter-spacing:-0.15px;">Melt Pump</div>
<div style="position:absolute;left:1748.1px;top:350.8px;width:39.5px;height:10px;background:#7f7f7f;"></div>
<div style="position:absolute;left:1748.6px;top:350.6px;width:60px;height:10.319999999999999px;line-height:10.319999999999999px;font-size:8.6px;color:#fff;font-weight:normal;text-align:left;white-space:nowrap;letter-spacing:-0.15px;">Adapter 2</div>
<div style="position:absolute;left:1651.4999999999998px;top:350.8px;width:39.5px;height:10px;background:#7f7f7f;"></div>
<div style="position:absolute;left:1630.5px;top:350.6px;width:60px;height:10.319999999999999px;line-height:10.319999999999999px;font-size:8.6px;color:#fff;font-weight:normal;text-align:right;white-space:nowrap;letter-spacing:-0.15px;">Elbow</div>
<div style="position:absolute;left:1631.6999999999998px;top:275.35px;width:39.5px;height:10px;background:#7f7f7f;"></div>
<div style="position:absolute;left:1610.7px;top:275.2px;width:60px;height:10.319999999999999px;line-height:10.319999999999999px;font-size:8.6px;color:#fff;font-weight:normal;text-align:right;white-space:nowrap;letter-spacing:-0.15px;">Adapter 3</div>
<div style="position:absolute;left:1856.0500000000002px;top:240.95px;width:39.5px;height:10px;background:#7f7f7f;"></div>
<div style="position:absolute;left:1845.8px;top:240.8px;width:60px;height:10.319999999999999px;line-height:10.319999999999999px;font-size:8.6px;color:#fff;font-weight:normal;text-align:center;white-space:nowrap;letter-spacing:-0.15px;">Die 1</div>
<div style="position:absolute;left:1917.4px;top:261.65px;width:39.5px;height:10px;background:#7f7f7f;"></div>
<div style="position:absolute;left:1917.9px;top:261.5px;width:60px;height:10.319999999999999px;line-height:10.319999999999999px;font-size:8.6px;color:#fff;font-weight:normal;text-align:left;white-space:nowrap;letter-spacing:-0.15px;">Die 2</div>
<div style="position:absolute;left:1927.7000000000003px;top:310.1px;width:39.5px;height:10px;background:#7f7f7f;"></div>
<div style="position:absolute;left:1928.2px;top:309.9px;width:60px;height:10.319999999999999px;line-height:10.319999999999999px;font-size:8.6px;color:#fff;font-weight:normal;text-align:left;white-space:nowrap;letter-spacing:-0.15px;">Die 3</div>
<div style="position:absolute;left:1897.9px;top:351.1px;width:39.5px;height:10px;background:#7f7f7f;"></div>
<div style="position:absolute;left:1898.4px;top:350.9px;width:60px;height:10.319999999999999px;line-height:10.319999999999999px;font-size:8.6px;color:#fff;font-weight:normal;text-align:left;white-space:nowrap;letter-spacing:-0.15px;">Die 4</div>
<div style="position:absolute;left:1814.0000000000002px;top:351.1px;width:39.5px;height:10px;background:#7f7f7f;"></div>
<div style="position:absolute;left:1793.0px;top:350.9px;width:60px;height:10.319999999999999px;line-height:10.319999999999999px;font-size:8.6px;color:#fff;font-weight:normal;text-align:right;white-space:nowrap;letter-spacing:-0.15px;">Die 5</div>
<div style="position:absolute;left:1783.3000000000002px;top:310.1px;width:39.5px;height:10px;background:#7f7f7f;"></div>
<div style="position:absolute;left:1762.3px;top:309.9px;width:60px;height:10.319999999999999px;line-height:10.319999999999999px;font-size:8.6px;color:#fff;font-weight:normal;text-align:right;white-space:nowrap;letter-spacing:-0.15px;">Die 6</div>
<div style="position:absolute;left:1793.5000000000002px;top:261.65px;width:39.5px;height:10px;background:#7f7f7f;"></div>
<div style="position:absolute;left:1772.5px;top:261.5px;width:60px;height:10.319999999999999px;line-height:10.319999999999999px;font-size:8.6px;color:#fff;font-weight:normal;text-align:right;white-space:nowrap;letter-spacing:-0.15px;">Die 7</div>
<div style="position:absolute;left:1364.2px;top:206.1px;width:80px;height:12.6px;line-height:12.6px;font-size:10.5px;color:#111;font-weight:bold;text-align:center;white-space:nowrap;">Roll Stack</div>
<div style="position:absolute;left:1346.7px;top:222.6px;width:50px;height:10.319999999999999px;line-height:10.319999999999999px;font-size:8.6px;color:#333;font-weight:normal;text-align:center;white-space:nowrap;">Bottom</div>
<div style="position:absolute;left:1358.4px;top:237.4px;width:26.59999999999991px;height:14.299999999999983px;background:#484848;border:1px solid #303030;"></div>
<div style="position:absolute;left:1351.7px;top:239.8px;width:40px;height:10.08px;line-height:10.08px;font-size:8.4px;color:#fff;font-weight:bold;text-align:center;white-space:nowrap;">On</div>
<div style="position:absolute;left:1367.6000000000001px;top:256.8px;width:8.2px;height:101.5px;background:#6b6b6b;border:1px solid #4d4d4d;"></div>
<div style="position:absolute;left:1368.6000000000001px;top:282.5px;width:6.2px;height:51.2px;background:#c4dcf4;"></div>
<svg style="position:absolute;left:1366.7px;top:304px" width="10" height="10"><path d="M5 1 L9 5 L5 9 L1 5Z" fill="#808080" stroke="#3a3a3a" stroke-width="0.8"/></svg>
<svg style="position:absolute;left:1355.2px;top:302px" width="14" height="14"><path d="M1 1 L12.5 7 L1 13Z" fill="#7a7a7a" stroke="#2e2e2e" stroke-width="1"/></svg>
<div style="position:absolute;left:1379.5px;top:222.6px;width:50px;height:10.319999999999999px;line-height:10.319999999999999px;font-size:8.6px;color:#333;font-weight:normal;text-align:center;white-space:nowrap;">Middle</div>
<div style="position:absolute;left:1391.2px;top:237.4px;width:26.59999999999991px;height:14.299999999999983px;background:#484848;border:1px solid #303030;"></div>
<div style="position:absolute;left:1384.5px;top:239.8px;width:40px;height:10.08px;line-height:10.08px;font-size:8.4px;color:#fff;font-weight:bold;text-align:center;white-space:nowrap;">On</div>
<div style="position:absolute;left:1400.4px;top:256.8px;width:8.2px;height:101.5px;background:#6b6b6b;border:1px solid #4d4d4d;"></div>
<div style="position:absolute;left:1401.4px;top:282.5px;width:6.2px;height:51.2px;background:#c4dcf4;"></div>
<div style="position:absolute;left:1401.4px;top:333.7px;width:6.2px;height:24px;background:#f4e800;"></div>
<svg style="position:absolute;left:1399.5px;top:304px" width="10" height="10"><path d="M5 1 L9 5 L5 9 L1 5Z" fill="#808080" stroke="#3a3a3a" stroke-width="0.8"/></svg>
<div style="position:absolute;left:1412.9px;top:222.6px;width:50px;height:10.319999999999999px;line-height:10.319999999999999px;font-size:8.6px;color:#333;font-weight:normal;text-align:center;white-space:nowrap;">Top</div>
<div style="position:absolute;left:1424.6000000000001px;top:237.4px;width:26.59999999999991px;height:14.299999999999983px;background:#484848;border:1px solid #303030;"></div>
<div style="position:absolute;left:1417.9px;top:239.8px;width:40px;height:10.08px;line-height:10.08px;font-size:8.4px;color:#fff;font-weight:bold;text-align:center;white-space:nowrap;">On</div>
<div style="position:absolute;left:1433.8000000000002px;top:256.8px;width:8.2px;height:101.5px;background:#6b6b6b;border:1px solid #4d4d4d;"></div>
<div style="position:absolute;left:1434.8000000000002px;top:282.5px;width:6.2px;height:51.2px;background:#c4dcf4;"></div>
<svg style="position:absolute;left:1432.9px;top:304px" width="10" height="10"><path d="M5 1 L9 5 L5 9 L1 5Z" fill="#808080" stroke="#3a3a3a" stroke-width="0.8"/></svg>
<svg style="position:absolute;left:1421.4px;top:302px" width="14" height="14"><path d="M1 1 L12.5 7 L1 13Z" fill="#7a7a7a" stroke="#2e2e2e" stroke-width="1"/></svg>
<div style="position:absolute;left:1964.0px;top:206.1px;width:80px;height:12.6px;line-height:12.6px;font-size:10.5px;color:#111;font-weight:bold;text-align:center;white-space:nowrap;">Roll Stack</div>
<div style="position:absolute;left:1962.9px;top:222.6px;width:50px;height:10.319999999999999px;line-height:10.319999999999999px;font-size:8.6px;color:#333;font-weight:normal;text-align:center;white-space:nowrap;">Up</div>
<div style="position:absolute;left:1974.6000000000001px;top:237.4px;width:26.59999999999991px;height:14.299999999999983px;background:#484848;border:1px solid #303030;"></div>
<div style="position:absolute;left:1967.9px;top:239.8px;width:40px;height:10.08px;line-height:10.08px;font-size:8.4px;color:#fff;font-weight:bold;text-align:center;white-space:nowrap;">On</div>
<div style="position:absolute;left:1983.8000000000002px;top:256.8px;width:8.2px;height:101.5px;background:#6b6b6b;border:1px solid #4d4d4d;"></div>
<div style="position:absolute;left:1984.8000000000002px;top:282.5px;width:6.2px;height:51.2px;background:#c4dcf4;"></div>
<svg style="position:absolute;left:1982.9px;top:304px" width="10" height="10"><path d="M5 1 L9 5 L5 9 L1 5Z" fill="#808080" stroke="#3a3a3a" stroke-width="0.8"/></svg>
<svg style="position:absolute;left:1971.4px;top:302px" width="14" height="14"><path d="M1 1 L12.5 7 L1 13Z" fill="#7a7a7a" stroke="#2e2e2e" stroke-width="1"/></svg>
<div style="position:absolute;left:1995.9px;top:222.6px;width:50px;height:10.319999999999999px;line-height:10.319999999999999px;font-size:8.6px;color:#333;font-weight:normal;text-align:center;white-space:nowrap;">Down</div>
<div style="position:absolute;left:2007.6000000000001px;top:237.4px;width:26.59999999999991px;height:14.299999999999983px;background:#484848;border:1px solid #303030;"></div>
<div style="position:absolute;left:2000.9px;top:239.8px;width:40px;height:10.08px;line-height:10.08px;font-size:8.4px;color:#fff;font-weight:bold;text-align:center;white-space:nowrap;">On</div>
<div style="position:absolute;left:2016.8000000000002px;top:256.8px;width:8.2px;height:101.5px;background:#6b6b6b;border:1px solid #4d4d4d;"></div>
<div style="position:absolute;left:2017.8000000000002px;top:282.5px;width:6.2px;height:51.2px;background:#c4dcf4;"></div>
<svg style="position:absolute;left:2015.9px;top:304px" width="10" height="10"><path d="M5 1 L9 5 L5 9 L1 5Z" fill="#808080" stroke="#3a3a3a" stroke-width="0.8"/></svg>
<svg style="position:absolute;left:2004.4px;top:302px" width="14" height="14"><path d="M1 1 L12.5 7 L1 13Z" fill="#7a7a7a" stroke="#2e2e2e" stroke-width="1"/></svg>
<div style="position:absolute;left:868.4px;top:374.8px;width:133.6px;height:85px;background:#eaeaea;border:1px solid #c9c9c9;"></div>
<div style="position:absolute;left:871.1999999999999px;top:378.5px;width:57.80000000000007px;height:17.80000000000001px;background:linear-gradient(#fdfdfc,#f1efec 60%,#e2ded8);border:1px solid #9c9c9c;border-radius:3px;box-shadow:0 1px 1px rgba(0,0,0,.2);"></div>
<div style="position:absolute;left:861.2px;top:381.5px;width:77.80000000000007px;height:12.719999999999999px;line-height:12.719999999999999px;font-size:10.6px;color:#111;font-weight:bold;text-align:center;white-space:nowrap;">Extruder</div>
<div style="position:absolute;left:933.9px;top:378px;width:26.100000000000023px;height:19.100000000000023px;background:#484848;border:1px solid #303030;"></div>
<div style="position:absolute;left:927.0px;top:382.8px;width:40px;height:10.08px;line-height:10.08px;font-size:8.4px;color:#fff;font-weight:bold;text-align:center;white-space:nowrap;">On</div>
<div style="position:absolute;left:965.4px;top:379.5px;width:400px;height:9.0px;line-height:9.0px;font-size:7.5px;color:#cdcdcd;font-weight:normal;text-align:left;white-space:nowrap;">OT</div>
<div style="position:absolute;left:964.4px;top:387.5px;width:400px;height:9.0px;line-height:9.0px;font-size:7.5px;color:#cdcdcd;font-weight:normal;text-align:left;white-space:nowrap;">BM</div>
<div style="position:absolute;left:985.4px;top:379.5px;width:400px;height:9.0px;line-height:9.0px;font-size:7.5px;color:#cdcdcd;font-weight:normal;text-align:left;white-space:nowrap;">HL</div>
<div style="position:absolute;left:983.4px;top:387.5px;width:400px;height:9.0px;line-height:9.0px;font-size:7.5px;color:#cdcdcd;font-weight:normal;text-align:left;white-space:nowrap;">FLT</div>
<div style="position:absolute;left:873.4px;top:403.6px;width:400px;height:12.48px;line-height:12.48px;font-size:10.4px;color:#111;font-weight:bold;text-align:left;white-space:nowrap;">A:</div>
<div style="position:absolute;left:887.4px;top:401.2px;width:39.200000000000045px;height:16.100000000000023px;background:#dedede;border:1px solid #a9a9a9;box-shadow:inset 1px 1px 0 rgba(0,0,0,.08);"></div>
<div style="position:absolute;left:845.1px;top:404.0px;width:80px;height:12.48px;line-height:12.48px;font-size:10.4px;color:#1a1a1a;font-weight:normal;text-align:right;white-space:nowrap;font-family:'Liberation Mono',monospace;letter-spacing:0.60px;-webkit-text-stroke:0.35px #1a1a1a;">33.8</div>
<div style="position:absolute;left:930.4px;top:403.6px;width:400px;height:12.48px;line-height:12.48px;font-size:10.4px;color:#111;font-weight:bold;text-align:left;white-space:nowrap;">rpm</div>
<svg style="position:absolute;left:952.4px;top:401.8px" width="43" height="14"><line x1="1" y1="3.5" x2="1" y2="14" stroke="#555" stroke-width="1"/><polyline points="1.5,11.4 2.2,9.5 2.8,8.1 3.5,6.7 4.2,6.0 4.8,5.0 5.5,4.8 6.2,4.0 6.8,3.6 7.5,3.5 8.2,3.3 8.8,3.3 9.5,3.2 10.2,2.9 10.8,2.8 11.5,2.5 12.2,2.7 12.8,2.6 13.5,2.4 14.2,2.4 14.8,2.6 15.5,2.7 16.2,2.3 16.8,2.6 17.5,2.7 18.2,2.5 18.8,2.3 19.5,2.6 20.2,2.4 20.8,2.6 21.5,2.2 22.2,2.4 22.8,2.6 23.5,2.5 24.2,2.6 24.8,2.5 25.5,2.2 26.2,2.3 26.8,2.3 27.5,2.5 28.2,2.6 28.8,2.5 29.5,2.3 30.2,2.2 30.8,2.5 31.5,2.4 32.2,2.3 32.8,2.3 33.5,2.6 34.2,2.3 34.8,2.5 35.5,2.6 36.2,2.6 36.8,2.3 37.5,2.5 38.2,2.5 38.8,2.2 39.5,2.7 40.2,2.3 40.8,2.2 41.5,2.2" fill="none" stroke="#333" stroke-width="1.1"/><circle cx="41.5" cy="2.2" r="1.4" fill="#e02020"/></svg>
<div style="position:absolute;left:873.4px;top:423.4px;width:400px;height:12.48px;line-height:12.48px;font-size:10.4px;color:#111;font-weight:bold;text-align:left;white-space:nowrap;">S:</div>
<div style="position:absolute;left:887.4px;top:421.0px;width:39.200000000000045px;height:16.100000000000023px;background:#dedede;border:1px solid #a9a9a9;box-shadow:inset 1px 1px 0 rgba(0,0,0,.08);"></div>
<div style="position:absolute;left:845.1px;top:423.8px;width:80px;height:12.48px;line-height:12.48px;font-size:10.4px;color:#1a1a1a;font-weight:normal;text-align:right;white-space:nowrap;font-family:'Liberation Mono',monospace;letter-spacing:0.60px;-webkit-text-stroke:0.35px #1a1a1a;">34.3</div>
<div style="position:absolute;left:930.4px;top:423.4px;width:400px;height:12.48px;line-height:12.48px;font-size:10.4px;color:#111;font-weight:bold;text-align:left;white-space:nowrap;">%</div>
<svg style="position:absolute;left:952.4px;top:421.6px" width="43" height="14"><line x1="1" y1="3.5" x2="1" y2="14" stroke="#555" stroke-width="1"/><polyline points="1.5,11.4 2.2,9.5 2.8,8.1 3.5,6.9 4.2,6.0 4.8,5.0 5.5,4.5 6.2,4.0 6.8,4.1 7.5,3.4 8.2,3.3 8.8,3.1 9.5,3.1 10.2,3.0 10.8,2.6 11.5,2.6 12.2,2.8 12.8,2.5 13.5,2.6 14.2,2.3 14.8,2.4 15.5,2.4 16.2,2.3 16.8,2.6 17.5,2.5 18.2,2.6 18.8,2.2 19.5,2.3 20.2,2.4 20.8,2.5 21.5,2.4 22.2,2.6 22.8,2.3 23.5,2.2 24.2,2.7 24.8,2.6 25.5,2.5 26.2,2.5 26.8,2.5 27.5,2.6 28.2,2.6 28.8,2.4 29.5,2.4 30.2,2.3 30.8,2.7 31.5,2.6 32.2,2.2 32.8,2.7 33.5,2.6 34.2,2.5 34.8,2.4 35.5,2.2 36.2,2.6 36.8,2.2 37.5,2.3 38.2,2.5 38.8,2.6 39.5,2.5 40.2,2.4 40.8,2.2 41.5,2.5" fill="none" stroke="#333" stroke-width="1.1"/><circle cx="41.5" cy="2.5" r="1.4" fill="#e02020"/></svg>
<div style="position:absolute;left:873.4px;top:442.7px;width:400px;height:12.48px;line-height:12.48px;font-size:10.4px;color:#111;font-weight:bold;text-align:left;white-space:nowrap;">L:</div>
<div style="position:absolute;left:887.4px;top:440.29999999999995px;width:39.200000000000045px;height:16.100000000000023px;background:#dedede;border:1px solid #a9a9a9;box-shadow:inset 1px 1px 0 rgba(0,0,0,.08);"></div>
<div style="position:absolute;left:845.1px;top:443.1px;width:80px;height:12.48px;line-height:12.48px;font-size:10.4px;color:#1a1a1a;font-weight:normal;text-align:right;white-space:nowrap;font-family:'Liberation Mono',monospace;letter-spacing:0.60px;-webkit-text-stroke:0.35px #1a1a1a;">300.8</div>
<div style="position:absolute;left:930.4px;top:442.7px;width:400px;height:12.48px;line-height:12.48px;font-size:10.4px;color:#111;font-weight:bold;text-align:left;white-space:nowrap;">A</div>
<svg style="position:absolute;left:952.4px;top:440.9px" width="43" height="14"><rect x="0" y="0" width="43" height="14" fill="#c3daf2"/><line x1="1" y1="3.5" x2="1" y2="14" stroke="#555" stroke-width="1"/><polyline points="1.5,11.3 2.2,9.5 2.8,8.0 3.5,7.0 4.2,6.2 4.8,5.1 5.5,4.9 6.2,4.4 6.8,3.7 7.5,3.5 8.2,3.4 8.8,3.4 9.5,2.8 10.2,3.0 10.8,3.0 11.5,2.9 12.2,2.8 12.8,2.6 13.5,2.4 14.2,2.5 14.8,2.4 15.5,2.4 16.2,2.4 16.8,2.7 17.5,2.5 18.2,2.3 18.8,2.4 19.5,2.5 20.2,2.4 20.8,2.6 21.5,2.6 22.2,2.3 22.8,2.6 23.5,2.5 24.2,2.5 24.8,2.6 25.5,2.2 26.2,2.4 26.8,2.6 27.5,2.3 28.2,2.6 28.8,2.5 29.5,2.6 30.2,2.3 30.8,2.4 31.5,2.6 32.2,2.2 32.8,2.2 33.5,2.5 34.2,2.3 34.8,2.3 35.5,2.4 36.2,2.3 36.8,2.4 37.5,2.4 38.2,2.5 38.8,2.4 39.5,2.3 40.2,2.7 40.8,2.4 41.5,2.3" fill="none" stroke="#333" stroke-width="1.1"/><circle cx="41.5" cy="2.3" r="1.4" fill="#e02020"/></svg>
<div style="position:absolute;left:1004px;top:374.8px;width:133.6px;height:85px;background:#eaeaea;border:1px solid #c9c9c9;"></div>
<div style="position:absolute;left:1006.8px;top:378.5px;width:57.799999999999955px;height:17.80000000000001px;background:linear-gradient(#fdfdfc,#f1efec 60%,#e2ded8);border:1px solid #9c9c9c;border-radius:3px;box-shadow:0 1px 1px rgba(0,0,0,.2);"></div>
<div style="position:absolute;left:996.8px;top:381.5px;width:77.79999999999995px;height:12.719999999999999px;line-height:12.719999999999999px;font-size:10.6px;color:#111;font-weight:bold;text-align:center;white-space:nowrap;">Melt Pump</div>
<div style="position:absolute;left:1069.5px;top:378px;width:26.09999999999991px;height:19.100000000000023px;background:#484848;border:1px solid #303030;"></div>
<div style="position:absolute;left:1062.5px;top:382.8px;width:40px;height:10.08px;line-height:10.08px;font-size:8.4px;color:#fff;font-weight:bold;text-align:center;white-space:nowrap;">On</div>
<div style="position:absolute;left:1101.0px;top:379.5px;width:400px;height:9.0px;line-height:9.0px;font-size:7.5px;color:#cdcdcd;font-weight:normal;text-align:left;white-space:nowrap;">OT</div>
<div style="position:absolute;left:1100.0px;top:387.5px;width:400px;height:9.0px;line-height:9.0px;font-size:7.5px;color:#cdcdcd;font-weight:normal;text-align:left;white-space:nowrap;">BM</div>
<div style="position:absolute;left:1121.0px;top:379.5px;width:400px;height:9.0px;line-height:9.0px;font-size:7.5px;color:#cdcdcd;font-weight:normal;text-align:left;white-space:nowrap;">HL</div>
<div style="position:absolute;left:1119.0px;top:387.5px;width:400px;height:9.0px;line-height:9.0px;font-size:7.5px;color:#cdcdcd;font-weight:normal;text-align:left;white-space:nowrap;">FLT</div>
<div style="position:absolute;left:1009.0px;top:403.6px;width:400px;height:12.48px;line-height:12.48px;font-size:10.4px;color:#111;font-weight:bold;text-align:left;white-space:nowrap;">A:</div>
<div style="position:absolute;left:1023px;top:401.2px;width:39.200000000000045px;height:16.100000000000023px;background:#dedede;border:1px solid #a9a9a9;box-shadow:inset 1px 1px 0 rgba(0,0,0,.08);"></div>
<div style="position:absolute;left:980.7px;top:404.0px;width:80px;height:12.48px;line-height:12.48px;font-size:10.4px;color:#1a1a1a;font-weight:normal;text-align:right;white-space:nowrap;font-family:'Liberation Mono',monospace;letter-spacing:0.60px;-webkit-text-stroke:0.35px #1a1a1a;">19.6</div>
<div style="position:absolute;left:1066.0px;top:403.6px;width:400px;height:12.48px;line-height:12.48px;font-size:10.4px;color:#111;font-weight:bold;text-align:left;white-space:nowrap;">rpm</div>
<svg style="position:absolute;left:1088px;top:401.8px" width="43" height="14"><line x1="1" y1="3.5" x2="1" y2="14" stroke="#555" stroke-width="1"/><polyline points="1.5,2.8 2.2,3.0 2.8,2.9 3.5,2.9 4.2,2.8 4.8,2.7 5.5,3.0 6.2,3.0 6.8,2.7 7.5,2.9 8.2,2.9 8.8,2.9 9.5,2.9 10.2,3.0 10.8,2.7 11.5,2.8 12.2,2.9 12.8,2.6 13.5,2.6 14.2,2.6 14.8,3.0 15.5,2.7 16.2,2.7 16.8,2.6 17.5,2.6 18.2,3.0 18.8,2.6 19.5,3.0 20.2,2.8 20.8,2.7 21.5,2.6 22.2,3.0 22.8,2.7 23.5,3.0 24.2,2.6 24.8,2.9 25.5,2.9 26.2,2.9 26.8,2.8 27.5,2.9 28.2,2.8 28.8,2.7 29.5,2.6 30.2,2.8 30.8,2.9 31.5,2.6 32.2,2.6 32.8,3.0 33.5,2.8 34.2,2.8 34.8,2.9 35.5,2.6 36.2,2.8 36.8,2.7 37.5,2.9 38.2,2.8 38.8,2.9 39.5,3.0 40.2,2.8 40.8,2.9 41.5,2.8" fill="none" stroke="#333" stroke-width="1.1"/><circle cx="41.5" cy="2.8" r="1.4" fill="#e02020"/></svg>
<div style="position:absolute;left:1009.0px;top:423.4px;width:400px;height:12.48px;line-height:12.48px;font-size:10.4px;color:#111;font-weight:bold;text-align:left;white-space:nowrap;">S:</div>
<div style="position:absolute;left:1023px;top:421.0px;width:39.200000000000045px;height:16.100000000000023px;background:#fff;border:1px solid #a9a9a9;box-shadow:inset 1px 1px 0 rgba(0,0,0,.08);"></div>
<div style="position:absolute;left:980.7px;top:423.8px;width:80px;height:12.48px;line-height:12.48px;font-size:10.4px;color:#1a1a1a;font-weight:normal;text-align:right;white-space:nowrap;font-family:'Liberation Mono',monospace;letter-spacing:0.60px;-webkit-text-stroke:0.35px #1a1a1a;">16.9</div>
<div style="position:absolute;left:1066.0px;top:423.4px;width:400px;height:12.48px;line-height:12.48px;font-size:10.4px;color:#111;font-weight:bold;text-align:left;white-space:nowrap;">rpm</div>
<div style="position:absolute;left:1009.0px;top:442.7px;width:400px;height:12.48px;line-height:12.48px;font-size:10.4px;color:#111;font-weight:bold;text-align:left;white-space:nowrap;">L:</div>
<div style="position:absolute;left:1023px;top:440.29999999999995px;width:39.200000000000045px;height:16.100000000000023px;background:#dedede;border:1px solid #a9a9a9;box-shadow:inset 1px 1px 0 rgba(0,0,0,.08);"></div>
<div style="position:absolute;left:980.7px;top:443.1px;width:80px;height:12.48px;line-height:12.48px;font-size:10.4px;color:#1a1a1a;font-weight:normal;text-align:right;white-space:nowrap;font-family:'Liberation Mono',monospace;letter-spacing:0.60px;-webkit-text-stroke:0.35px #1a1a1a;">10.1</div>
<div style="position:absolute;left:1066.0px;top:442.7px;width:400px;height:12.48px;line-height:12.48px;font-size:10.4px;color:#111;font-weight:bold;text-align:left;white-space:nowrap;">A</div>
<svg style="position:absolute;left:1088px;top:440.9px" width="43" height="14"><rect x="0" y="0" width="43" height="14" fill="#c3daf2"/><line x1="1" y1="3.5" x2="1" y2="14" stroke="#555" stroke-width="1"/><polyline points="1.5,9.2 2.2,8.9 2.8,8.4 3.5,9.6 4.2,8.6 4.8,8.1 5.5,8.3 6.2,8.7 6.8,9.0 7.5,8.3 8.2,8.0 8.8,7.9 9.5,9.0 10.2,8.1 10.8,8.1 11.5,9.1 12.2,8.7 12.8,8.7 13.5,8.6 14.2,7.6 14.8,8.7 15.5,9.0 16.2,9.0 16.8,7.7 17.5,8.4 18.2,8.8 18.8,8.7 19.5,8.1 20.2,8.0 20.8,8.1 21.5,8.3 22.2,8.1 22.8,8.4 23.5,8.4 24.2,8.5 24.8,8.2 25.5,8.9 26.2,8.3 26.8,8.2 27.5,8.9 28.2,8.7 28.8,8.3 29.5,8.2 30.2,8.9 30.8,8.0 31.5,7.7 32.2,8.0 32.8,7.6 33.5,8.7 34.2,8.9 34.8,7.6 35.5,7.6 36.2,8.2 36.8,8.6 37.5,8.3 38.2,7.7 38.8,8.8 39.5,8.0 40.2,7.5 40.8,8.1 41.5,8.1" fill="none" stroke="#333" stroke-width="1.1"/><circle cx="41.5" cy="8.1" r="1.4" fill="#e02020"/></svg>
<div style="position:absolute;left:1482px;top:374.8px;width:133.6px;height:85px;background:#eaeaea;border:1px solid #c9c9c9;"></div>
<div style="position:absolute;left:1484.8px;top:378.5px;width:57.799999999999955px;height:17.80000000000001px;background:linear-gradient(#fdfdfc,#f1efec 60%,#e2ded8);border:1px solid #9c9c9c;border-radius:3px;box-shadow:0 1px 1px rgba(0,0,0,.2);"></div>
<div style="position:absolute;left:1474.8px;top:381.5px;width:77.79999999999995px;height:12.719999999999999px;line-height:12.719999999999999px;font-size:10.6px;color:#111;font-weight:bold;text-align:center;white-space:nowrap;">Extruder</div>
<div style="position:absolute;left:1547.5px;top:378px;width:26.09999999999991px;height:19.100000000000023px;background:#e4e4e4;border:1.5px solid #4a4a4a;"></div>
<div style="position:absolute;left:1540.5px;top:382.8px;width:40px;height:10.08px;line-height:10.08px;font-size:8.4px;color:#111;font-weight:bold;text-align:center;white-space:nowrap;letter-spacing:-0.4px;">Off</div>
<div style="position:absolute;left:1579.0px;top:379.5px;width:400px;height:9.0px;line-height:9.0px;font-size:7.5px;color:#cdcdcd;font-weight:normal;text-align:left;white-space:nowrap;">OT</div>
<div style="position:absolute;left:1578.0px;top:387.5px;width:400px;height:9.0px;line-height:9.0px;font-size:7.5px;color:#cdcdcd;font-weight:normal;text-align:left;white-space:nowrap;">BM</div>
<div style="position:absolute;left:1599.0px;top:379.5px;width:400px;height:9.0px;line-height:9.0px;font-size:7.5px;color:#cdcdcd;font-weight:normal;text-align:left;white-space:nowrap;">HL</div>
<div style="position:absolute;left:1597.0px;top:387.5px;width:400px;height:9.0px;line-height:9.0px;font-size:7.5px;color:#cdcdcd;font-weight:normal;text-align:left;white-space:nowrap;">FLT</div>
<div style="position:absolute;left:1487.0px;top:403.6px;width:400px;height:12.48px;line-height:12.48px;font-size:10.4px;color:#111;font-weight:bold;text-align:left;white-space:nowrap;">A:</div>
<div style="position:absolute;left:1501px;top:401.2px;width:39.200000000000045px;height:16.100000000000023px;background:#dedede;border:1px solid #a9a9a9;box-shadow:inset 1px 1px 0 rgba(0,0,0,.08);"></div>
<div style="position:absolute;left:1458.7px;top:404.0px;width:80px;height:12.48px;line-height:12.48px;font-size:10.4px;color:#1a1a1a;font-weight:normal;text-align:right;white-space:nowrap;font-family:'Liberation Mono',monospace;letter-spacing:0.60px;-webkit-text-stroke:0.35px #1a1a1a;">-2.1</div>
<div style="position:absolute;left:1544.0px;top:403.6px;width:400px;height:12.48px;line-height:12.48px;font-size:10.4px;color:#111;font-weight:bold;text-align:left;white-space:nowrap;">rpm</div>
<svg style="position:absolute;left:1566px;top:401.8px" width="43" height="14"><polyline points="1.5,7.0 2.2,7.0 2.8,7.0 3.5,7.0 4.2,7.0 4.8,7.0 5.5,7.0 6.2,7.0 6.8,7.0 7.5,7.0 8.2,7.0 8.8,7.0 9.5,7.0 10.2,7.0 10.8,7.0 11.5,7.0 12.2,7.0 12.8,7.0 13.5,7.0 14.2,7.0 14.8,7.0 15.5,7.0 16.2,7.0 16.8,7.0 17.5,7.0 18.2,7.0 18.8,7.0 19.5,7.0 20.2,7.0 20.8,7.0 21.5,7.0 22.2,7.0 22.8,7.0 23.5,7.0 24.2,7.0 24.8,7.0 25.5,7.0 26.2,7.0 26.8,7.0 27.5,7.0 28.2,7.0 28.8,7.0 29.5,7.0 30.2,7.0 30.8,7.0 31.5,7.0 32.2,7.0 32.8,7.0 33.5,7.0 34.2,7.0 34.8,7.0 35.5,7.0 36.2,7.0 36.8,7.0 37.5,7.0 38.2,7.0 38.8,7.0 39.5,7.0 40.2,7.0 40.8,7.0 41.5,7.0" fill="none" stroke="#777" stroke-width="1.1"/><circle cx="41.5" cy="7.0" r="1.4" fill="#e02020"/></svg>
<div style="position:absolute;left:1487.0px;top:423.4px;width:400px;height:12.48px;line-height:12.48px;font-size:10.4px;color:#111;font-weight:bold;text-align:left;white-space:nowrap;">S:</div>
<div style="position:absolute;left:1501px;top:421.0px;width:39.200000000000045px;height:16.100000000000023px;background:#dedede;border:1px solid #a9a9a9;box-shadow:inset 1px 1px 0 rgba(0,0,0,.08);"></div>
<div style="position:absolute;left:1458.7px;top:423.8px;width:80px;height:12.48px;line-height:12.48px;font-size:10.4px;color:#1a1a1a;font-weight:normal;text-align:right;white-space:nowrap;font-family:'Liberation Mono',monospace;letter-spacing:0.60px;-webkit-text-stroke:0.35px #1a1a1a;">3.0</div>
<div style="position:absolute;left:1544.0px;top:423.4px;width:400px;height:12.48px;line-height:12.48px;font-size:10.4px;color:#111;font-weight:bold;text-align:left;white-space:nowrap;">%</div>
<svg style="position:absolute;left:1566px;top:421.6px" width="43" height="14"><polyline points="1.5,7.0 2.2,7.0 2.8,7.0 3.5,7.0 4.2,7.0 4.8,7.0 5.5,7.0 6.2,7.0 6.8,7.0 7.5,7.0 8.2,7.0 8.8,7.0 9.5,7.0 10.2,7.0 10.8,7.0 11.5,7.0 12.2,7.0 12.8,7.0 13.5,7.0 14.2,7.0 14.8,7.0 15.5,7.0 16.2,7.0 16.8,7.0 17.5,7.0 18.2,7.0 18.8,7.0 19.5,7.0 20.2,7.0 20.8,7.0 21.5,7.0 22.2,7.0 22.8,7.0 23.5,7.0 24.2,7.0 24.8,7.0 25.5,7.0 26.2,7.0 26.8,7.0 27.5,7.0 28.2,7.0 28.8,7.0 29.5,7.0 30.2,7.0 30.8,7.0 31.5,7.0 32.2,7.0 32.8,7.0 33.5,7.0 34.2,7.0 34.8,7.0 35.5,7.0 36.2,7.0 36.8,7.0 37.5,7.0 38.2,7.0 38.8,7.0 39.5,7.0 40.2,7.0 40.8,7.0 41.5,7.0" fill="none" stroke="#777" stroke-width="1.1"/><circle cx="41.5" cy="7.0" r="1.4" fill="#e02020"/></svg>
<div style="position:absolute;left:1487.0px;top:442.7px;width:400px;height:12.48px;line-height:12.48px;font-size:10.4px;color:#111;font-weight:bold;text-align:left;white-space:nowrap;">L:</div>
<div style="position:absolute;left:1501px;top:440.29999999999995px;width:39.200000000000045px;height:16.100000000000023px;background:#dedede;border:1px solid #a9a9a9;box-shadow:inset 1px 1px 0 rgba(0,0,0,.08);"></div>
<div style="position:absolute;left:1458.7px;top:443.1px;width:80px;height:12.48px;line-height:12.48px;font-size:10.4px;color:#1a1a1a;font-weight:normal;text-align:right;white-space:nowrap;font-family:'Liberation Mono',monospace;letter-spacing:0.60px;-webkit-text-stroke:0.35px #1a1a1a;">-2.7</div>
<div style="position:absolute;left:1544.0px;top:442.7px;width:400px;height:12.48px;line-height:12.48px;font-size:10.4px;color:#111;font-weight:bold;text-align:left;white-space:nowrap;">A</div>
<svg style="position:absolute;left:1566px;top:440.9px" width="43" height="14"><rect x="0" y="0" width="43" height="14" fill="#c3daf2"/><polyline points="1.5,12.0 2.2,12.0 2.8,12.0 3.5,12.0 4.2,12.0 4.8,12.0 5.5,12.0 6.2,12.0 6.8,12.0 7.5,12.0 8.2,12.0 8.8,12.0 9.5,12.0 10.2,12.0 10.8,12.0 11.5,12.0 12.2,12.0 12.8,12.0 13.5,12.0 14.2,12.0 14.8,12.0 15.5,12.0 16.2,12.0 16.8,12.0 17.5,12.0 18.2,12.0 18.8,12.0 19.5,12.0 20.2,12.0 20.8,12.0 21.5,12.0 22.2,12.0 22.8,12.0 23.5,12.0 24.2,12.0 24.8,12.0 25.5,12.0 26.2,12.0 26.8,12.0 27.5,12.0 28.2,12.0 28.8,12.0 29.5,12.0 30.2,12.0 30.8,12.0 31.5,12.0 32.2,12.0 32.8,12.0 33.5,12.0 34.2,12.0 34.8,12.0 35.5,12.0 36.2,12.0 36.8,12.0 37.5,12.0 38.2,12.0 38.8,12.0 39.5,12.0 40.2,12.0 40.8,12.0 41.5,12.0" fill="none" stroke="#333" stroke-width="1.1"/><circle cx="41.5" cy="12.0" r="1.4" fill="#e02020"/></svg>
<div style="position:absolute;left:1616.9px;top:374.8px;width:133.6px;height:85px;background:#eaeaea;border:1px solid #c9c9c9;"></div>
<div style="position:absolute;left:1619.7px;top:378.5px;width:57.799999999999955px;height:17.80000000000001px;background:linear-gradient(#fdfdfc,#f1efec 60%,#e2ded8);border:1px solid #9c9c9c;border-radius:3px;box-shadow:0 1px 1px rgba(0,0,0,.2);"></div>
<div style="position:absolute;left:1609.7px;top:381.5px;width:77.79999999999995px;height:12.719999999999999px;line-height:12.719999999999999px;font-size:10.6px;color:#111;font-weight:bold;text-align:center;white-space:nowrap;">Melt Pump</div>
<div style="position:absolute;left:1682.4px;top:378px;width:26.09999999999991px;height:19.100000000000023px;background:#e4e4e4;border:1.5px solid #4a4a4a;"></div>
<div style="position:absolute;left:1675.5px;top:382.8px;width:40px;height:10.08px;line-height:10.08px;font-size:8.4px;color:#111;font-weight:bold;text-align:center;white-space:nowrap;letter-spacing:-0.4px;">Off</div>
<div style="position:absolute;left:1713.9px;top:379.5px;width:400px;height:9.0px;line-height:9.0px;font-size:7.5px;color:#cdcdcd;font-weight:normal;text-align:left;white-space:nowrap;">OT</div>
<div style="position:absolute;left:1712.9px;top:387.5px;width:400px;height:9.0px;line-height:9.0px;font-size:7.5px;color:#cdcdcd;font-weight:normal;text-align:left;white-space:nowrap;">BM</div>
<div style="position:absolute;left:1733.9px;top:379.5px;width:400px;height:9.0px;line-height:9.0px;font-size:7.5px;color:#cdcdcd;font-weight:normal;text-align:left;white-space:nowrap;">HL</div>
<div style="position:absolute;left:1731.9px;top:387.5px;width:400px;height:9.0px;line-height:9.0px;font-size:7.5px;color:#cdcdcd;font-weight:normal;text-align:left;white-space:nowrap;">FLT</div>
<div style="position:absolute;left:1621.9px;top:403.6px;width:400px;height:12.48px;line-height:12.48px;font-size:10.4px;color:#111;font-weight:bold;text-align:left;white-space:nowrap;">A:</div>
<div style="position:absolute;left:1635.9px;top:401.2px;width:39.200000000000045px;height:16.100000000000023px;background:#dedede;border:1px solid #a9a9a9;box-shadow:inset 1px 1px 0 rgba(0,0,0,.08);"></div>
<div style="position:absolute;left:1593.6px;top:404.0px;width:80px;height:12.48px;line-height:12.48px;font-size:10.4px;color:#1a1a1a;font-weight:normal;text-align:right;white-space:nowrap;font-family:'Liberation Mono',monospace;letter-spacing:0.60px;-webkit-text-stroke:0.35px #1a1a1a;">-0.8</div>
<div style="position:absolute;left:1678.9px;top:403.6px;width:400px;height:12.48px;line-height:12.48px;font-size:10.4px;color:#111;font-weight:bold;text-align:left;white-space:nowrap;">rpm</div>
<svg style="position:absolute;left:1700.9px;top:401.8px" width="43" height="14"><line x1="1" y1="3.5" x2="1" y2="14" stroke="#555" stroke-width="1"/><polyline points="1.5,9.5 2.2,8.7 2.8,9.2 3.5,8.5 4.2,8.6 4.8,8.6 5.5,8.7 6.2,9.0 6.8,9.2 7.5,8.1 8.2,8.5 8.8,8.3 9.5,8.4 10.2,8.5 10.8,8.5 11.5,8.6 12.2,9.0 12.8,8.5 13.5,7.9 14.2,8.6 14.8,8.0 15.5,8.2 16.2,8.6 16.8,8.3 17.5,7.7 18.2,7.9 18.8,8.0 19.5,8.1 20.2,7.6 20.8,7.6 21.5,7.6 22.2,8.0 22.8,7.5 23.5,8.2 24.2,8.0 24.8,7.6 25.5,8.1 26.2,7.7 26.8,8.1 27.5,8.6 28.2,7.9 28.8,8.5 29.5,7.8 30.2,8.1 30.8,8.0 31.5,8.5 32.2,8.0 32.8,8.7 33.5,8.9 34.2,7.9 34.8,7.7 35.5,8.5 36.2,8.2 36.8,8.0 37.5,8.5 38.2,8.5 38.8,7.7 39.5,8.0 40.2,8.3 40.8,8.1 41.5,8.1" fill="none" stroke="#333" stroke-width="1.1"/><circle cx="41.5" cy="8.1" r="1.4" fill="#e02020"/></svg>
<div style="position:absolute;left:1621.9px;top:423.4px;width:400px;height:12.48px;line-height:12.48px;font-size:10.4px;color:#111;font-weight:bold;text-align:left;white-space:nowrap;">S:</div>
<div style="position:absolute;left:1635.9px;top:421.0px;width:39.200000000000045px;height:16.100000000000023px;background:#fff;border:1px solid #a9a9a9;box-shadow:inset 1px 1px 0 rgba(0,0,0,.08);"></div>
<div style="position:absolute;left:1593.6px;top:423.8px;width:80px;height:12.48px;line-height:12.48px;font-size:10.4px;color:#1a1a1a;font-weight:normal;text-align:right;white-space:nowrap;font-family:'Liberation Mono',monospace;letter-spacing:0.60px;-webkit-text-stroke:0.35px #1a1a1a;">9.9</div>
<div style="position:absolute;left:1678.9px;top:423.4px;width:400px;height:12.48px;line-height:12.48px;font-size:10.4px;color:#111;font-weight:bold;text-align:left;white-space:nowrap;">rpm</div>
<div style="position:absolute;left:1621.9px;top:442.7px;width:400px;height:12.48px;line-height:12.48px;font-size:10.4px;color:#111;font-weight:bold;text-align:left;white-space:nowrap;">L:</div>
<div style="position:absolute;left:1635.9px;top:440.29999999999995px;width:39.200000000000045px;height:16.100000000000023px;background:#dedede;border:1px solid #a9a9a9;box-shadow:inset 1px 1px 0 rgba(0,0,0,.08);"></div>
<div style="position:absolute;left:1593.6px;top:443.1px;width:80px;height:12.48px;line-height:12.48px;font-size:10.4px;color:#1a1a1a;font-weight:normal;text-align:right;white-space:nowrap;font-family:'Liberation Mono',monospace;letter-spacing:0.60px;-webkit-text-stroke:0.35px #1a1a1a;">0.1</div>
<div style="position:absolute;left:1678.9px;top:442.7px;width:400px;height:12.48px;line-height:12.48px;font-size:10.4px;color:#111;font-weight:bold;text-align:left;white-space:nowrap;">A</div>
<svg style="position:absolute;left:1700.9px;top:440.9px" width="43" height="14"><rect x="0" y="0" width="43" height="14" fill="#c3daf2"/><polyline points="1.5,12.0 2.2,12.0 2.8,12.0 3.5,12.0 4.2,12.0 4.8,12.0 5.5,12.0 6.2,12.0 6.8,12.0 7.5,12.0 8.2,12.0 8.8,12.0 9.5,12.0 10.2,12.0 10.8,12.0 11.5,12.0 12.2,12.0 12.8,12.0 13.5,12.0 14.2,12.0 14.8,12.0 15.5,12.0 16.2,12.0 16.8,12.0 17.5,12.0 18.2,12.0 18.8,12.0 19.5,12.0 20.2,12.0 20.8,12.0 21.5,12.0 22.2,12.0 22.8,12.0 23.5,12.0 24.2,12.0 24.8,12.0 25.5,12.0 26.2,12.0 26.8,12.0 27.5,12.0 28.2,12.0 28.8,12.0 29.5,12.0 30.2,12.0 30.8,12.0 31.5,12.0 32.2,12.0 32.8,12.0 33.5,12.0 34.2,12.0 34.8,12.0 35.5,12.0 36.2,12.0 36.8,12.0 37.5,12.0 38.2,12.0 38.8,12.0 39.5,12.0 40.2,12.0 40.8,12.0 41.5,12.0" fill="none" stroke="#333" stroke-width="1.1"/><circle cx="41.5" cy="12.0" r="1.4" fill="#e02020"/></svg>
<div style="position:absolute;left:1138.4px;top:374.8px;width:121.4px;height:85px;background:#eaeaea;border:1px solid #c9c9c9;"></div>
<div style="position:absolute;left:1141.7px;top:378.4px;width:80.70000000000005px;height:18.30000000000001px;background:linear-gradient(#fdfdfc,#f1efec 60%,#e2ded8);border:1px solid #9c9c9c;border-radius:3px;box-shadow:0 1px 1px rgba(0,0,0,.2);"></div>
<div style="position:absolute;left:1131.7px;top:381.7px;width:100.70000000000005px;height:12.719999999999999px;line-height:12.719999999999999px;font-size:10.6px;color:#111;font-weight:bold;text-align:center;white-space:nowrap;">Melt Pressures</div>
<div style="position:absolute;left:1226.4px;top:379.5px;width:400px;height:9.0px;line-height:9.0px;font-size:7.5px;color:#cdcdcd;font-weight:normal;text-align:left;white-space:nowrap;">HP</div>
<div style="position:absolute;left:1241.4px;top:379.5px;width:400px;height:9.0px;line-height:9.0px;font-size:7.5px;color:#cdcdcd;font-weight:normal;text-align:left;white-space:nowrap;">DP</div>
<div style="position:absolute;left:1226.4px;top:387.5px;width:400px;height:9.0px;line-height:9.0px;font-size:7.5px;color:#cdcdcd;font-weight:normal;text-align:left;white-space:nowrap;">LP</div>
<div style="position:absolute;left:1143.9px;top:402.9px;width:400px;height:13.2px;line-height:13.2px;font-size:11px;color:#3b3bd0;font-weight:normal;text-align:left;white-space:nowrap;">H</div>
<div style="position:absolute;left:1157.4px;top:400.9px;width:36.299999999999955px;height:16.100000000000023px;background:#dedede;border:1px solid #a9a9a9;box-shadow:inset 1px 1px 0 rgba(0,0,0,.08);"></div>
<div style="position:absolute;left:1112.2px;top:403.7px;width:80px;height:12.48px;line-height:12.48px;font-size:10.4px;color:#1a1a1a;font-weight:normal;text-align:right;white-space:nowrap;font-family:'Liberation Mono',monospace;letter-spacing:0.32px;-webkit-text-stroke:0.35px #1a1a1a;">1,845</div>
<div style="position:absolute;left:1143.9px;top:422.7px;width:400px;height:13.2px;line-height:13.2px;font-size:11px;color:#c07a2a;font-weight:normal;text-align:left;white-space:nowrap;">I</div>
<div style="position:absolute;left:1157.4px;top:420.7px;width:36.299999999999955px;height:16.100000000000023px;background:#dedede;border:1px solid #a9a9a9;box-shadow:inset 1px 1px 0 rgba(0,0,0,.08);"></div>
<div style="position:absolute;left:1112.2px;top:423.5px;width:80px;height:12.48px;line-height:12.48px;font-size:10.4px;color:#1a1a1a;font-weight:normal;text-align:right;white-space:nowrap;font-family:'Liberation Mono',monospace;letter-spacing:0.60px;-webkit-text-stroke:0.35px #1a1a1a;">792</div>
<div style="position:absolute;left:1143.9px;top:442.3px;width:400px;height:13.2px;line-height:13.2px;font-size:11px;color:#2fa82f;font-weight:normal;text-align:left;white-space:nowrap;">O</div>
<div style="position:absolute;left:1157.4px;top:440.29999999999995px;width:36.299999999999955px;height:16.100000000000023px;background:#dedede;border:1px solid #a9a9a9;box-shadow:inset 1px 1px 0 rgba(0,0,0,.08);"></div>
<div style="position:absolute;left:1112.2px;top:443.1px;width:80px;height:12.48px;line-height:12.48px;font-size:10.4px;color:#1a1a1a;font-weight:normal;text-align:right;white-space:nowrap;font-family:'Liberation Mono',monospace;letter-spacing:0.32px;-webkit-text-stroke:0.35px #1a1a1a;">1,019</div>
<div style="position:absolute;left:1197.8000000000002px;top:401.2px;width:57.8px;height:54.8px;background:#e6e6e6;border:1px solid #b9b9b9;"></div>
<div style="position:absolute;left:1202.0px;top:404.6px;width:49px;height:48.9px;background:#d3d3d3;border:1px solid #c4c4c4;"></div>
<div style="position:absolute;left:1750.5px;top:374.8px;width:121.4px;height:85px;background:#eaeaea;border:1px solid #c9c9c9;"></div>
<div style="position:absolute;left:1753.8px;top:378.4px;width:80.70000000000005px;height:18.30000000000001px;background:linear-gradient(#fdfdfc,#f1efec 60%,#e2ded8);border:1px solid #9c9c9c;border-radius:3px;box-shadow:0 1px 1px rgba(0,0,0,.2);"></div>
<div style="position:absolute;left:1743.8px;top:381.7px;width:100.70000000000005px;height:12.719999999999999px;line-height:12.719999999999999px;font-size:10.6px;color:#111;font-weight:bold;text-align:center;white-space:nowrap;">Melt Pressures</div>
<div style="position:absolute;left:1838.5px;top:379.5px;width:400px;height:9.0px;line-height:9.0px;font-size:7.5px;color:#cdcdcd;font-weight:normal;text-align:left;white-space:nowrap;">HP</div>
<div style="position:absolute;left:1853.5px;top:379.5px;width:400px;height:9.0px;line-height:9.0px;font-size:7.5px;color:#cdcdcd;font-weight:normal;text-align:left;white-space:nowrap;">DP</div>
<div style="position:absolute;left:1838.5px;top:387.5px;width:400px;height:9.0px;line-height:9.0px;font-size:7.5px;color:#cdcdcd;font-weight:normal;text-align:left;white-space:nowrap;">LP</div>
<div style="position:absolute;left:1756.0px;top:402.9px;width:400px;height:13.2px;line-height:13.2px;font-size:11px;color:#3b3bd0;font-weight:normal;text-align:left;white-space:nowrap;">H</div>
<div style="position:absolute;left:1769.5px;top:400.9px;width:36.299999999999955px;height:16.100000000000023px;background:#dedede;border:1px solid #a9a9a9;box-shadow:inset 1px 1px 0 rgba(0,0,0,.08);"></div>
<div style="position:absolute;left:1724.3px;top:403.7px;width:80px;height:12.48px;line-height:12.48px;font-size:10.4px;color:#1a1a1a;font-weight:normal;text-align:right;white-space:nowrap;font-family:'Liberation Mono',monospace;letter-spacing:0.60px;-webkit-text-stroke:0.35px #1a1a1a;">-56</div>
<div style="position:absolute;left:1756.0px;top:422.7px;width:400px;height:13.2px;line-height:13.2px;font-size:11px;color:#c07a2a;font-weight:normal;text-align:left;white-space:nowrap;">I</div>
<div style="position:absolute;left:1769.5px;top:420.7px;width:36.299999999999955px;height:16.100000000000023px;background:#dedede;border:1px solid #a9a9a9;box-shadow:inset 1px 1px 0 rgba(0,0,0,.08);"></div>
<div style="position:absolute;left:1724.3px;top:423.5px;width:80px;height:12.48px;line-height:12.48px;font-size:10.4px;color:#1a1a1a;font-weight:normal;text-align:right;white-space:nowrap;font-family:'Liberation Mono',monospace;letter-spacing:0.32px;-webkit-text-stroke:0.35px #1a1a1a;">9,751</div>
<div style="position:absolute;left:1756.0px;top:442.3px;width:400px;height:13.2px;line-height:13.2px;font-size:11px;color:#2fa82f;font-weight:normal;text-align:left;white-space:nowrap;">O</div>
<div style="position:absolute;left:1769.5px;top:440.29999999999995px;width:36.299999999999955px;height:16.100000000000023px;background:#dedede;border:1px solid #a9a9a9;box-shadow:inset 1px 1px 0 rgba(0,0,0,.08);"></div>
<div style="position:absolute;left:1724.3px;top:443.1px;width:80px;height:12.48px;line-height:12.48px;font-size:10.4px;color:#1a1a1a;font-weight:normal;text-align:right;white-space:nowrap;font-family:'Liberation Mono',monospace;letter-spacing:0.32px;-webkit-text-stroke:0.35px #1a1a1a;">9,822</div>
<div style="position:absolute;left:1809.9px;top:401.2px;width:57.8px;height:54.8px;background:#e6e6e6;border:1px solid #b9b9b9;"></div>
<div style="position:absolute;left:1814.1px;top:404.6px;width:49px;height:48.9px;background:#d3d3d3;border:1px solid #c4c4c4;"></div>
<svg style="position:absolute;left:1201.9px;top:404.6px" width="50" height="50"><polyline points="2,46 3,12 5,11 8,10 12,9 16,8 20,6.5 24,7 28,6 32,7.5 36,7 40,6 44,7 48,8" fill="none" stroke="#3b3bd0" stroke-width="1.2"/><polyline points="3,35 5,30 7,29 9,33 12,32 16,30 20,29 25,30 30,29 35,30 40,29 48,29" fill="none" stroke="#6fc06f" stroke-width="1.1"/><polyline points="3,37 5,33 7,36 10,35 14,35 20,34.5 30,34.5 40,34.5 48,34" fill="none" stroke="#c08a55" stroke-width="1.1"/></svg>
<svg style="position:absolute;left:1813.9px;top:404.6px" width="50" height="50"><line x1="3" y1="6" x2="46" y2="6" stroke="#4caa3c" stroke-width="1.4"/><line x1="3" y1="44" x2="46" y2="44" stroke="#5b5bd8" stroke-width="1.4"/></svg>
<div style="position:absolute;left:1261.5px;top:374.8px;width:129.9px;height:85px;background:#eaeaea;border:1px solid #c9c9c9;"></div>
<div style="position:absolute;left:1263.5px;top:378px;width:74.5px;height:19px;background:linear-gradient(#fdfdfc,#f1efec 60%,#e2ded8);border:1px solid #9c9c9c;border-radius:3px;box-shadow:0 1px 1px rgba(0,0,0,.2);"></div>
<div style="position:absolute;left:1253.5px;top:381.6px;width:94.5px;height:12.719999999999999px;line-height:12.719999999999999px;font-size:10.6px;color:#111;font-weight:bold;text-align:center;white-space:nowrap;">Hopper Dryer</div>
<div style="position:absolute;left:1342.2px;top:378px;width:26.399999999999864px;height:19px;background:#484848;border:1px solid #303030;"></div>
<div style="position:absolute;left:1335.4px;top:382.8px;width:40px;height:10.08px;line-height:10.08px;font-size:8.4px;color:#fff;font-weight:bold;text-align:center;white-space:nowrap;">On</div>
<div style="position:absolute;left:1371.5px;top:379.5px;width:400px;height:9.0px;line-height:9.0px;font-size:7.5px;color:#cdcdcd;font-weight:normal;text-align:left;white-space:nowrap;">HDP</div>
<div style="position:absolute;left:1266.0px;top:402.9px;width:400px;height:13.2px;line-height:13.2px;font-size:11px;color:#2fa82f;font-weight:normal;text-align:left;white-space:nowrap;">S</div>
<div style="position:absolute;left:1286.5px;top:400.9px;width:28.700000000000045px;height:16.100000000000023px;background:#fff;border:1px solid #a9a9a9;box-shadow:inset 1px 1px 0 rgba(0,0,0,.08);"></div>
<div style="position:absolute;left:1233.7px;top:403.7px;width:80px;height:12.48px;line-height:12.48px;font-size:10.4px;color:#1a1a1a;font-weight:normal;text-align:right;white-space:nowrap;font-family:'Liberation Mono',monospace;letter-spacing:0.60px;-webkit-text-stroke:0.35px #1a1a1a;">220</div>
<div style="position:absolute;left:1266.0px;top:422.7px;width:400px;height:13.2px;line-height:13.2px;font-size:11px;color:#c07a2a;font-weight:normal;text-align:left;white-space:nowrap;">A</div>
<div style="position:absolute;left:1286.5px;top:420.7px;width:28.700000000000045px;height:16.100000000000023px;background:#dedede;border:1px solid #a9a9a9;box-shadow:inset 1px 1px 0 rgba(0,0,0,.08);"></div>
<div style="position:absolute;left:1233.7px;top:423.5px;width:80px;height:12.48px;line-height:12.48px;font-size:10.4px;color:#1a1a1a;font-weight:normal;text-align:right;white-space:nowrap;font-family:'Liberation Mono',monospace;letter-spacing:0.60px;-webkit-text-stroke:0.35px #1a1a1a;">220</div>
<div style="position:absolute;left:1266.0px;top:442.3px;width:400px;height:13.2px;line-height:13.2px;font-size:11px;color:#3b3bd0;font-weight:normal;text-align:left;white-space:nowrap;">DP</div>
<div style="position:absolute;left:1286.5px;top:440.29999999999995px;width:28.700000000000045px;height:16.100000000000023px;background:#dedede;border:1px solid #a9a9a9;box-shadow:inset 1px 1px 0 rgba(0,0,0,.08);"></div>
<div style="position:absolute;left:1233.7px;top:443.1px;width:80px;height:12.48px;line-height:12.48px;font-size:10.4px;color:#1a1a1a;font-weight:normal;text-align:right;white-space:nowrap;font-family:'Liberation Mono',monospace;letter-spacing:0.60px;-webkit-text-stroke:0.35px #1a1a1a;">-40</div>
<div style="position:absolute;left:1320.2px;top:401.2px;width:67.5px;height:54.8px;background:#e6e6e6;border:1px solid #b9b9b9;"></div>
<div style="position:absolute;left:1325.5px;top:404.6px;width:57px;height:23.6px;background:#d3d3d3;border:1px solid #c4c4c4;"></div>
<div style="position:absolute;left:1325.5px;top:431px;width:57px;height:22.5px;background:#d3d3d3;border:1px solid #c4c4c4;"></div>
<div style="position:absolute;left:1326.5px;top:416.5px;width:55px;height:1.4px;background:#c49a6c;"></div>
<div style="position:absolute;left:1326.5px;top:450.5px;width:55px;height:1.4px;background:#5b5bd8;"></div>
<div style="position:absolute;left:1393px;top:374.8px;width:82.8px;height:85px;background:#eaeaea;border:1px solid #c9c9c9;box-shadow:inset 0 0 0 1px #f6f6f6;"></div>
<div style="position:absolute;left:1395.5px;top:378.1px;width:76.90000000000009px;height:18.69999999999999px;background:linear-gradient(#fdfdfc,#f1efec 60%,#e2ded8);border:1px solid #9c9c9c;border-radius:3px;box-shadow:0 1px 1px rgba(0,0,0,.2);"></div>
<div style="position:absolute;left:1385.5px;top:381.6px;width:96.90000000000009px;height:12.719999999999999px;line-height:12.719999999999999px;font-size:10.6px;color:#111;font-weight:bold;text-align:center;white-space:nowrap;">Melt Temp</div>
<div style="position:absolute;left:1408.3px;top:401.2px;width:39.5px;height:16.0px;background:#dedede;border:1px solid #a9a9a9;box-shadow:inset 1px 1px 0 rgba(0,0,0,.08);"></div>
<div style="position:absolute;left:1366.3px;top:404.0px;width:80px;height:12.48px;line-height:12.48px;font-size:10.4px;color:#1a1a1a;font-weight:normal;text-align:right;white-space:nowrap;font-family:'Liberation Mono',monospace;letter-spacing:0.60px;-webkit-text-stroke:0.35px #1a1a1a;">444.6</div>
<div style="position:absolute;left:1450.5px;top:403.4px;width:400px;height:13.2px;line-height:13.2px;font-size:11px;color:#111;font-weight:bold;text-align:left;white-space:nowrap;">F</div>
<div style="position:absolute;left:1395.6px;top:421.5px;width:76.8px;height:34.89999999999998px;background:#ececec;border:1px solid #b3b3b3;"></div>
<div style="position:absolute;left:1418.4px;top:423.6px;width:49.799999999999955px;height:30.399999999999977px;background:#d5d5d5;"></div>
<div style="position:absolute;left:1417.9px;top:423.6px;width:1px;height:30.399999999999977px;background:#888;"></div>
<div style="position:absolute;left:1384.2px;top:426.5px;width:30px;height:5.76px;line-height:5.76px;font-size:4.8px;color:#444;font-weight:normal;text-align:right;white-space:nowrap;">600</div>
<div style="position:absolute;left:1384.2px;top:432.4px;width:30px;height:5.76px;line-height:5.76px;font-size:4.8px;color:#444;font-weight:normal;text-align:right;white-space:nowrap;">500</div>
<div style="position:absolute;left:1384.2px;top:438.3px;width:30px;height:5.76px;line-height:5.76px;font-size:4.8px;color:#444;font-weight:normal;text-align:right;white-space:nowrap;">400</div>
<div style="position:absolute;left:1384.2px;top:444.2px;width:30px;height:5.76px;line-height:5.76px;font-size:4.8px;color:#444;font-weight:normal;text-align:right;white-space:nowrap;">300</div>
<div style="position:absolute;left:1384.2px;top:450.1px;width:30px;height:5.76px;line-height:5.76px;font-size:4.8px;color:#444;font-weight:normal;text-align:right;white-space:nowrap;">200</div>
<div style="position:absolute;left:1419.4px;top:438.2px;width:45.799999999999955px;height:1.3px;background:#6a6ad8;"></div>
<div style="position:absolute;left:1948.3px;top:372px;width:82.8px;height:88.8px;background:#eaeaea;border:1px solid #c9c9c9;box-shadow:inset 0 0 0 1px #f6f6f6;"></div>
<div style="position:absolute;left:1950.8px;top:375.3px;width:76.90000000000009px;height:18.69999999999999px;background:linear-gradient(#fdfdfc,#f1efec 60%,#e2ded8);border:1px solid #9c9c9c;border-radius:3px;box-shadow:0 1px 1px rgba(0,0,0,.2);"></div>
<div style="position:absolute;left:1940.8px;top:378.8px;width:96.90000000000009px;height:12.719999999999999px;line-height:12.719999999999999px;font-size:10.6px;color:#111;font-weight:bold;text-align:center;white-space:nowrap;">Melt Temp</div>
<div style="position:absolute;left:1963.6px;top:399.7px;width:39.5px;height:16.600000000000023px;background:#dedede;border:1px solid #a9a9a9;box-shadow:inset 1px 1px 0 rgba(0,0,0,.08);"></div>
<div style="position:absolute;left:1921.6px;top:403.0px;width:80px;height:12.0px;line-height:12.0px;font-size:10.0px;color:#1a1a1a;font-weight:normal;text-align:right;white-space:nowrap;font-family:'Liberation Mono',monospace;letter-spacing:0.00px;-webkit-text-stroke:0.35px #1a1a1a;">2192.0</div>
<div style="position:absolute;left:2005.8px;top:402.2px;width:400px;height:13.2px;line-height:13.2px;font-size:11px;color:#111;font-weight:bold;text-align:left;white-space:nowrap;">F</div>
<div style="position:absolute;left:1950.8999999999999px;top:420.8px;width:76.8px;height:36.5px;background:#ececec;border:1px solid #b3b3b3;"></div>
<div style="position:absolute;left:1981px;top:423.7px;width:43.299999999999955px;height:31.30000000000001px;background:#d5d5d5;"></div>
<div style="position:absolute;left:1980.5px;top:423.7px;width:1px;height:31.30000000000001px;background:#888;"></div>
<div style="position:absolute;left:1947.0px;top:423.7px;width:30px;height:5.76px;line-height:5.76px;font-size:4.8px;color:#444;font-weight:normal;text-align:right;white-space:nowrap;">2,400</div>
<div style="position:absolute;left:1947.0px;top:430.4px;width:30px;height:5.76px;line-height:5.76px;font-size:4.8px;color:#444;font-weight:normal;text-align:right;white-space:nowrap;">2,300</div>
<div style="position:absolute;left:1947.0px;top:437.1px;width:30px;height:5.76px;line-height:5.76px;font-size:4.8px;color:#444;font-weight:normal;text-align:right;white-space:nowrap;">2,200</div>
<div style="position:absolute;left:1947.0px;top:443.8px;width:30px;height:5.76px;line-height:5.76px;font-size:4.8px;color:#444;font-weight:normal;text-align:right;white-space:nowrap;">2,100</div>
<div style="position:absolute;left:1947.0px;top:450.5px;width:30px;height:5.76px;line-height:5.76px;font-size:4.8px;color:#444;font-weight:normal;text-align:right;white-space:nowrap;">2,000</div>
<div style="position:absolute;left:1982px;top:438.7px;width:39.299999999999955px;height:1.3px;background:#6a6ad8;"></div>
<div style="position:absolute;left:872px;top:541.2px;width:208.7px;height:70.6px;background:#d9d9d9;border:1px solid #d2d2d2;"></div>
<div style="position:absolute;left:875.2px;top:543.8000000000001px;width:125.79999999999995px;height:18.600000000000023px;background:#dadada;border:1px solid #c4c4c4;border-radius:2px;"></div>
<div style="position:absolute;left:865.2px;top:546.9px;width:145.79999999999995px;height:13.44px;line-height:13.44px;font-size:11.2px;color:#a9a9a9;font-weight:normal;text-align:center;white-space:nowrap;">Fabric Surface Unwind</div>
<div style="position:absolute;left:1005.4px;top:543.0px;width:26.4px;height:20.2px;background:#d8d8d8;border:1.2px solid #b9b9b9;"></div>
<div style="position:absolute;left:1003.6px;top:548.4px;width:30px;height:9.6px;line-height:9.6px;font-size:8px;color:#b0b0b0;font-weight:bold;text-align:center;white-space:nowrap;">Off</div>
<div style="position:absolute;left:877.0px;top:570.1px;width:400px;height:12.719999999999999px;line-height:12.719999999999999px;font-size:10.6px;color:#b0b0b0;font-weight:normal;text-align:left;white-space:nowrap;">A:</div>
<div style="position:absolute;left:890.6px;top:568.3px;width:38.799999999999955px;height:16.40000000000009px;background:#d9d9d9;border:1px solid #c6c6c6;"></div>
<div style="position:absolute;left:847.9px;top:571.3px;width:80px;height:12.48px;line-height:12.48px;font-size:10.4px;color:#b0b0b0;font-weight:normal;text-align:right;white-space:nowrap;font-family:'Liberation Mono',monospace;letter-spacing:1.30px;">0.0</div>
<div style="position:absolute;left:934.0px;top:570.1px;width:400px;height:12.719999999999999px;line-height:12.719999999999999px;font-size:10.6px;color:#b0b0b0;font-weight:normal;text-align:left;white-space:nowrap;">fpm</div>
<div style="position:absolute;left:970.0px;top:570.1px;width:400px;height:12.719999999999999px;line-height:12.719999999999999px;font-size:10.6px;color:#b0b0b0;font-weight:normal;text-align:left;white-space:nowrap;">L:</div>
<div style="position:absolute;left:985.6px;top:568.3px;width:29.399999999999977px;height:16.40000000000009px;background:#d9d9d9;border:1px solid #c6c6c6;"></div>
<div style="position:absolute;left:933.5px;top:571.3px;width:80px;height:12.48px;line-height:12.48px;font-size:10.4px;color:#b0b0b0;font-weight:normal;text-align:right;white-space:nowrap;font-family:'Liberation Mono',monospace;letter-spacing:1.30px;">0.0</div>
<div style="position:absolute;left:1018.6px;top:570.1px;width:400px;height:12.719999999999999px;line-height:12.719999999999999px;font-size:10.6px;color:#b0b0b0;font-weight:normal;text-align:left;white-space:nowrap;">A</div>
<div style="position:absolute;left:1031px;top:565.5px;width:46px;height:17px;background:#d2d8df;"></div>
<div style="position:absolute;left:1031px;top:582.9px;width:46px;height:1px;background:#b5bcc4;"></div>
<div style="position:absolute;left:877.0px;top:593.3px;width:400px;height:12.719999999999999px;line-height:12.719999999999999px;font-size:10.6px;color:#b0b0b0;font-weight:normal;text-align:left;white-space:nowrap;">PS:</div>
<div style="position:absolute;left:903.8px;top:591.7px;width:25.600000000000023px;height:16.0px;background:#d9d9d9;border:1px solid #c6c6c6;"></div>
<div style="position:absolute;left:847.9px;top:594.5px;width:80px;height:12.48px;line-height:12.48px;font-size:10.4px;color:#b0b0b0;font-weight:normal;text-align:right;white-space:nowrap;font-family:'Liberation Mono',monospace;letter-spacing:1.30px;">25</div>
<div style="position:absolute;left:934.0px;top:593.3px;width:400px;height:12.719999999999999px;line-height:12.719999999999999px;font-size:10.6px;color:#b0b0b0;font-weight:normal;text-align:left;white-space:nowrap;">°</div>
<div style="position:absolute;left:963.0px;top:593.3px;width:400px;height:12.719999999999999px;line-height:12.719999999999999px;font-size:10.6px;color:#b0b0b0;font-weight:normal;text-align:left;white-space:nowrap;">PA:</div>
<div style="position:absolute;left:985.6px;top:591.7px;width:29.399999999999977px;height:16.0px;background:#d9d9d9;border:1px solid #c6c6c6;"></div>
<div style="position:absolute;left:933.5px;top:594.5px;width:80px;height:12.48px;line-height:12.48px;font-size:10.4px;color:#b0b0b0;font-weight:normal;text-align:right;white-space:nowrap;font-family:'Liberation Mono',monospace;letter-spacing:0.23px;">45.1</div>
<div style="position:absolute;left:1018.6px;top:593.3px;width:400px;height:12.719999999999999px;line-height:12.719999999999999px;font-size:10.6px;color:#b0b0b0;font-weight:normal;text-align:left;white-space:nowrap;">°</div>
<div style="position:absolute;left:1031px;top:589.2px;width:46px;height:1px;background:#b5bcc4;"></div>
<div style="position:absolute;left:872px;top:611.8000000000001px;width:208.7px;height:70.6px;background:#d9d9d9;border:1px solid #d2d2d2;"></div>
<div style="position:absolute;left:875.2px;top:614.4000000000001px;width:125.79999999999995px;height:18.600000000000023px;background:#dadada;border:1px solid #c4c4c4;border-radius:2px;"></div>
<div style="position:absolute;left:865.2px;top:617.5px;width:145.79999999999995px;height:13.44px;line-height:13.44px;font-size:11.2px;color:#a9a9a9;font-weight:normal;text-align:center;white-space:nowrap;">Fabric Tension Roll</div>
<div style="position:absolute;left:1005.4px;top:613.6px;width:26.4px;height:20.2px;background:#d8d8d8;border:1.2px solid #b9b9b9;"></div>
<div style="position:absolute;left:1003.6px;top:619.0px;width:30px;height:9.6px;line-height:9.6px;font-size:8px;color:#b0b0b0;font-weight:bold;text-align:center;white-space:nowrap;">Off</div>
<div style="position:absolute;left:877.0px;top:640.7px;width:400px;height:12.719999999999999px;line-height:12.719999999999999px;font-size:10.6px;color:#b0b0b0;font-weight:normal;text-align:left;white-space:nowrap;">A:</div>
<div style="position:absolute;left:890.6px;top:638.9px;width:38.799999999999955px;height:16.40000000000009px;background:#d9d9d9;border:1px solid #c6c6c6;"></div>
<div style="position:absolute;left:847.9px;top:641.9px;width:80px;height:12.48px;line-height:12.48px;font-size:10.4px;color:#b0b0b0;font-weight:normal;text-align:right;white-space:nowrap;font-family:'Liberation Mono',monospace;letter-spacing:1.30px;">0.0</div>
<div style="position:absolute;left:934.0px;top:640.7px;width:400px;height:12.719999999999999px;line-height:12.719999999999999px;font-size:10.6px;color:#b0b0b0;font-weight:normal;text-align:left;white-space:nowrap;">fpm</div>
<div style="position:absolute;left:970.0px;top:640.7px;width:400px;height:12.719999999999999px;line-height:12.719999999999999px;font-size:10.6px;color:#b0b0b0;font-weight:normal;text-align:left;white-space:nowrap;">L:</div>
<div style="position:absolute;left:985.6px;top:638.9px;width:29.399999999999977px;height:16.40000000000009px;background:#d9d9d9;border:1px solid #c6c6c6;"></div>
<div style="position:absolute;left:933.5px;top:641.9px;width:80px;height:12.48px;line-height:12.48px;font-size:10.4px;color:#b0b0b0;font-weight:normal;text-align:right;white-space:nowrap;font-family:'Liberation Mono',monospace;letter-spacing:1.30px;">0.0</div>
<div style="position:absolute;left:1018.6px;top:640.7px;width:400px;height:12.719999999999999px;line-height:12.719999999999999px;font-size:10.6px;color:#b0b0b0;font-weight:normal;text-align:left;white-space:nowrap;">A</div>
<div style="position:absolute;left:1031px;top:636.1px;width:46px;height:17px;background:#d2d8df;"></div>
<div style="position:absolute;left:1031px;top:653.5px;width:46px;height:1px;background:#b5bcc4;"></div>
<div style="position:absolute;left:877.0px;top:663.9px;width:400px;height:12.719999999999999px;line-height:12.719999999999999px;font-size:10.6px;color:#b0b0b0;font-weight:normal;text-align:left;white-space:nowrap;">S:</div>
<div style="position:absolute;left:890.6px;top:662.3000000000001px;width:38.799999999999955px;height:16.0px;background:#dcdcdc;border:1px solid #c6c6c6;"></div>
<div style="position:absolute;left:847.9px;top:665.1px;width:80px;height:12.48px;line-height:12.48px;font-size:10.4px;color:#b0b0b0;font-weight:normal;text-align:right;white-space:nowrap;font-family:'Liberation Mono',monospace;letter-spacing:0.82px;">100.0</div>
<div style="position:absolute;left:934.0px;top:663.9px;width:400px;height:12.719999999999999px;line-height:12.719999999999999px;font-size:10.6px;color:#b0b0b0;font-weight:normal;text-align:left;white-space:nowrap;">%</div>
<div style="position:absolute;left:1100px;top:541.2px;width:208.7px;height:70.6px;background:#d9d9d9;border:1px solid #d2d2d2;"></div>
<div style="position:absolute;left:1103.2px;top:543.8000000000001px;width:125.79999999999995px;height:18.600000000000023px;background:#dadada;border:1px solid #c4c4c4;border-radius:2px;"></div>
<div style="position:absolute;left:1093.2px;top:546.9px;width:145.79999999999995px;height:13.44px;line-height:13.44px;font-size:11.2px;color:#a9a9a9;font-weight:normal;text-align:center;white-space:nowrap;">Entrance Accumulator</div>
<div style="position:absolute;left:1233.4px;top:543.0px;width:26.4px;height:20.2px;background:#d8d8d8;border:1.2px solid #b9b9b9;"></div>
<div style="position:absolute;left:1231.6px;top:548.4px;width:30px;height:9.6px;line-height:9.6px;font-size:8px;color:#b0b0b0;font-weight:bold;text-align:center;white-space:nowrap;">Off</div>
<div style="position:absolute;left:1105.0px;top:570.1px;width:400px;height:12.719999999999999px;line-height:12.719999999999999px;font-size:10.6px;color:#b0b0b0;font-weight:normal;text-align:left;white-space:nowrap;">A:</div>
<div style="position:absolute;left:1118.6px;top:568.3px;width:38.80000000000018px;height:16.40000000000009px;background:#d9d9d9;border:1px solid #c6c6c6;"></div>
<div style="position:absolute;left:1075.9px;top:571.3px;width:80px;height:12.48px;line-height:12.48px;font-size:10.4px;color:#b0b0b0;font-weight:normal;text-align:right;white-space:nowrap;font-family:'Liberation Mono',monospace;letter-spacing:1.30px;">0.0</div>
<div style="position:absolute;left:1162.0px;top:570.1px;width:400px;height:12.719999999999999px;line-height:12.719999999999999px;font-size:10.6px;color:#b0b0b0;font-weight:normal;text-align:left;white-space:nowrap;">fpm</div>
<div style="position:absolute;left:1198.0px;top:570.1px;width:400px;height:12.719999999999999px;line-height:12.719999999999999px;font-size:10.6px;color:#b0b0b0;font-weight:normal;text-align:left;white-space:nowrap;">L:</div>
<div style="position:absolute;left:1213.6px;top:568.3px;width:29.40000000000009px;height:16.40000000000009px;background:#d9d9d9;border:1px solid #c6c6c6;"></div>
<div style="position:absolute;left:1161.5px;top:571.3px;width:80px;height:12.48px;line-height:12.48px;font-size:10.4px;color:#b0b0b0;font-weight:normal;text-align:right;white-space:nowrap;font-family:'Liberation Mono',monospace;letter-spacing:1.30px;">0.0</div>
<div style="position:absolute;left:1246.6px;top:570.1px;width:400px;height:12.719999999999999px;line-height:12.719999999999999px;font-size:10.6px;color:#b0b0b0;font-weight:normal;text-align:left;white-space:nowrap;">A</div>
<div style="position:absolute;left:1259px;top:565.5px;width:46px;height:17px;background:#d2d8df;"></div>
<div style="position:absolute;left:1259px;top:582.9px;width:46px;height:1px;background:#b5bcc4;"></div>
<div style="position:absolute;left:1105.0px;top:593.3px;width:400px;height:12.719999999999999px;line-height:12.719999999999999px;font-size:10.6px;color:#b0b0b0;font-weight:normal;text-align:left;white-space:nowrap;">S:</div>
<div style="position:absolute;left:1118.6px;top:591.7px;width:38.80000000000018px;height:16.0px;background:#dcdcdc;border:1px solid #c6c6c6;"></div>
<div style="position:absolute;left:1075.9px;top:594.5px;width:80px;height:12.48px;line-height:12.48px;font-size:10.4px;color:#b0b0b0;font-weight:normal;text-align:right;white-space:nowrap;font-family:'Liberation Mono',monospace;letter-spacing:1.30px;">0.0</div>
<div style="position:absolute;left:1162.0px;top:593.3px;width:400px;height:12.719999999999999px;line-height:12.719999999999999px;font-size:10.6px;color:#b0b0b0;font-weight:normal;text-align:left;white-space:nowrap;">%</div>
<div style="position:absolute;left:1198.0px;top:593.3px;width:400px;height:12.719999999999999px;line-height:12.719999999999999px;font-size:10.6px;color:#b0b0b0;font-weight:normal;text-align:left;white-space:nowrap;">T:</div>
<div style="position:absolute;left:1213.6px;top:591.7px;width:29.40000000000009px;height:16.0px;background:#d9d9d9;border:1px solid #c6c6c6;"></div>
<div style="position:absolute;left:1161.5px;top:594.5px;width:80px;height:12.48px;line-height:12.48px;font-size:10.4px;color:#b0b0b0;font-weight:normal;text-align:right;white-space:nowrap;font-family:'Liberation Mono',monospace;letter-spacing:1.30px;">21</div>
<div style="position:absolute;left:1246.6px;top:593.3px;width:400px;height:12.719999999999999px;line-height:12.719999999999999px;font-size:10.6px;color:#b0b0b0;font-weight:normal;text-align:left;white-space:nowrap;">lb</div>
<div style="position:absolute;left:1259px;top:589.2px;width:46px;height:17px;background:#d2d8df;"></div>
<div style="position:absolute;left:1259px;top:605.7px;width:46px;height:1px;background:#b5bcc4;"></div>
<div style="position:absolute;left:1100px;top:611.8000000000001px;width:208.7px;height:70.6px;background:#d9d9d9;border:1px solid #d2d2d2;"></div>
<div style="position:absolute;left:1103.2px;top:614.4000000000001px;width:125.79999999999995px;height:18.600000000000023px;background:#dadada;border:1px solid #c4c4c4;border-radius:2px;"></div>
<div style="position:absolute;left:1093.2px;top:617.5px;width:145.79999999999995px;height:13.44px;line-height:13.44px;font-size:11.2px;color:#a9a9a9;font-weight:normal;text-align:center;white-space:nowrap;">Primary Pull Roll</div>
<div style="position:absolute;left:1233.4px;top:613.6px;width:26.4px;height:20.2px;background:#d8d8d8;border:1.2px solid #b9b9b9;"></div>
<div style="position:absolute;left:1231.6px;top:619.0px;width:30px;height:9.6px;line-height:9.6px;font-size:8px;color:#b0b0b0;font-weight:bold;text-align:center;white-space:nowrap;">Off</div>
<div style="position:absolute;left:1105.0px;top:640.7px;width:400px;height:12.719999999999999px;line-height:12.719999999999999px;font-size:10.6px;color:#b0b0b0;font-weight:normal;text-align:left;white-space:nowrap;">A:</div>
<div style="position:absolute;left:1118.6px;top:638.9px;width:38.80000000000018px;height:16.40000000000009px;background:#d9d9d9;border:1px solid #c6c6c6;"></div>
<div style="position:absolute;left:1075.9px;top:641.9px;width:80px;height:12.48px;line-height:12.48px;font-size:10.4px;color:#b0b0b0;font-weight:normal;text-align:right;white-space:nowrap;font-family:'Liberation Mono',monospace;letter-spacing:1.30px;">0.0</div>
<div style="position:absolute;left:1162.0px;top:640.7px;width:400px;height:12.719999999999999px;line-height:12.719999999999999px;font-size:10.6px;color:#b0b0b0;font-weight:normal;text-align:left;white-space:nowrap;">fpm</div>
<div style="position:absolute;left:1198.0px;top:640.7px;width:400px;height:12.719999999999999px;line-height:12.719999999999999px;font-size:10.6px;color:#b0b0b0;font-weight:normal;text-align:left;white-space:nowrap;">L:</div>
<div style="position:absolute;left:1213.6px;top:638.9px;width:29.40000000000009px;height:16.40000000000009px;background:#d9d9d9;border:1px solid #c6c6c6;"></div>
<div style="position:absolute;left:1161.5px;top:641.9px;width:80px;height:12.48px;line-height:12.48px;font-size:10.4px;color:#b0b0b0;font-weight:normal;text-align:right;white-space:nowrap;font-family:'Liberation Mono',monospace;letter-spacing:1.30px;">0.0</div>
<div style="position:absolute;left:1246.6px;top:640.7px;width:400px;height:12.719999999999999px;line-height:12.719999999999999px;font-size:10.6px;color:#b0b0b0;font-weight:normal;text-align:left;white-space:nowrap;">A</div>
<div style="position:absolute;left:1259px;top:636.1px;width:46px;height:17px;background:#d2d8df;"></div>
<div style="position:absolute;left:1259px;top:653.5px;width:46px;height:1px;background:#b5bcc4;"></div>
<div style="position:absolute;left:1105.0px;top:663.9px;width:400px;height:12.719999999999999px;line-height:12.719999999999999px;font-size:10.6px;color:#b0b0b0;font-weight:normal;text-align:left;white-space:nowrap;">S:</div>
<div style="position:absolute;left:1118.6px;top:662.3000000000001px;width:38.80000000000018px;height:16.0px;background:#dcdcdc;border:1px solid #c6c6c6;"></div>
<div style="position:absolute;left:1075.9px;top:665.1px;width:80px;height:12.48px;line-height:12.48px;font-size:10.4px;color:#b0b0b0;font-weight:normal;text-align:right;white-space:nowrap;font-family:'Liberation Mono',monospace;letter-spacing:0.82px;">103.0</div>
<div style="position:absolute;left:1162.0px;top:663.9px;width:400px;height:12.719999999999999px;line-height:12.719999999999999px;font-size:10.6px;color:#b0b0b0;font-weight:normal;text-align:left;white-space:nowrap;">%</div>
<div style="position:absolute;left:1198.0px;top:663.9px;width:400px;height:12.719999999999999px;line-height:12.719999999999999px;font-size:10.6px;color:#b0b0b0;font-weight:normal;text-align:left;white-space:nowrap;">T:</div>
<div style="position:absolute;left:1213.6px;top:662.3000000000001px;width:29.40000000000009px;height:16.0px;background:#d9d9d9;border:1px solid #c6c6c6;"></div>
<div style="position:absolute;left:1161.5px;top:665.1px;width:80px;height:12.48px;line-height:12.48px;font-size:10.4px;color:#b0b0b0;font-weight:normal;text-align:right;white-space:nowrap;font-family:'Liberation Mono',monospace;letter-spacing:1.30px;">-1</div>
<div style="position:absolute;left:1246.6px;top:663.9px;width:400px;height:12.719999999999999px;line-height:12.719999999999999px;font-size:10.6px;color:#b0b0b0;font-weight:normal;text-align:left;white-space:nowrap;">lb</div>
<div style="position:absolute;left:1259px;top:659.8000000000001px;width:46px;height:17px;background:#d2d8df;"></div>
<div style="position:absolute;left:1259px;top:676.3000000000001px;width:46px;height:1px;background:#b5bcc4;"></div>
<div style="position:absolute;left:1325.9px;top:501.5px;width:209.6px;height:72.1px;background:#eaeaea;border:1px solid #cfcfcf;"></div>
<div style="position:absolute;left:1329.1000000000001px;top:505.6px;width:126.29999999999995px;height:18.600000000000023px;background:linear-gradient(#fdfdfc,#f1efec 60%,#e2ded8);border:1px solid #9c9c9c;border-radius:3px;box-shadow:0 1px 1px rgba(0,0,0,.2);"></div>
<div style="position:absolute;left:1319.1px;top:508.9px;width:146.29999999999995px;height:12.96px;line-height:12.96px;font-size:10.8px;color:#111;font-weight:bold;text-align:center;white-space:nowrap;">Top Roll</div>
<div style="position:absolute;left:1459.8000000000002px;top:505.0px;width:25.899999999999864px;height:20.0px;background:#484848;border:1px solid #303030;"></div>
<div style="position:absolute;left:1452.8px;top:510.3px;width:40px;height:10.08px;line-height:10.08px;font-size:8.4px;color:#fff;font-weight:bold;text-align:center;white-space:nowrap;">On</div>
<div style="position:absolute;left:1495.9px;top:506.5px;width:400px;height:9.0px;line-height:9.0px;font-size:7.5px;color:#cdcdcd;font-weight:normal;text-align:left;white-space:nowrap;">HL</div>
<div style="position:absolute;left:1511.9px;top:506.5px;width:400px;height:9.0px;line-height:9.0px;font-size:7.5px;color:#cdcdcd;font-weight:normal;text-align:left;white-space:nowrap;">PWR</div>
<div style="position:absolute;left:1491.9px;top:516.0px;width:400px;height:9.0px;line-height:9.0px;font-size:7.5px;color:#cdcdcd;font-weight:normal;text-align:left;white-space:nowrap;">FLT</div>
<div style="position:absolute;left:1330.9px;top:532.1px;width:400px;height:12.48px;line-height:12.48px;font-size:10.4px;color:#111;font-weight:bold;text-align:left;white-space:nowrap;">A:</div>
<div style="position:absolute;left:1345.5px;top:529.5px;width:38.80000000000018px;height:16.799999999999955px;background:#dedede;border:1px solid #a9a9a9;box-shadow:inset 1px 1px 0 rgba(0,0,0,.08);"></div>
<div style="position:absolute;left:1302.8px;top:532.7px;width:80px;height:12.48px;line-height:12.48px;font-size:10.4px;color:#1a1a1a;font-weight:normal;text-align:right;white-space:nowrap;font-family:'Liberation Mono',monospace;letter-spacing:0.60px;-webkit-text-stroke:0.35px #1a1a1a;">2.4</div>
<div style="position:absolute;left:1387.3px;top:532.1px;width:400px;height:12.48px;line-height:12.48px;font-size:10.4px;color:#111;font-weight:bold;text-align:left;white-space:nowrap;">fpm</div>
<div style="position:absolute;left:1423.4px;top:532.1px;width:400px;height:12.48px;line-height:12.48px;font-size:10.4px;color:#111;font-weight:bold;text-align:left;white-space:nowrap;">L:</div>
<div style="position:absolute;left:1440.4px;top:529.5px;width:29.5px;height:16.799999999999955px;background:#dedede;border:1px solid #a9a9a9;box-shadow:inset 1px 1px 0 rgba(0,0,0,.08);"></div>
<div style="position:absolute;left:1388.4px;top:532.7px;width:80px;height:12.48px;line-height:12.48px;font-size:10.4px;color:#1a1a1a;font-weight:normal;text-align:right;white-space:nowrap;font-family:'Liberation Mono',monospace;letter-spacing:0.60px;-webkit-text-stroke:0.35px #1a1a1a;">2.3</div>
<div style="position:absolute;left:1473.2px;top:532.1px;width:400px;height:12.48px;line-height:12.48px;font-size:10.4px;color:#111;font-weight:bold;text-align:left;white-space:nowrap;">A</div>
<svg style="position:absolute;left:1486.3000000000002px;top:527.6999999999999px" width="45" height="16"><rect x="0" y="0" width="45" height="16" fill="#c3daf2"/><line x1="1" y1="4.0" x2="1" y2="16" stroke="#555" stroke-width="1"/><polyline points="1.5,11.6 2.2,11.3 2.9,10.4 3.6,9.9 4.3,10.4 5.0,10.1 5.7,10.8 6.4,9.6 7.1,9.9 7.8,10.0 8.5,10.7 9.2,9.7 9.9,9.1 10.6,10.0 11.3,9.6 12.0,8.7 12.7,10.0 13.4,10.1 14.1,9.6 14.8,9.7 15.5,8.3 16.2,9.1 16.9,9.4 17.6,8.8 18.3,8.2 19.0,7.3 19.7,7.9 20.4,8.2 21.1,8.8 21.8,8.8 22.5,7.6 23.2,8.4 23.9,6.9 24.6,8.0 25.3,7.3 26.0,6.0 26.7,7.5 27.4,6.7 28.1,7.5 28.8,7.1 29.5,5.5 30.2,6.5 30.9,7.2 31.6,5.7 32.3,5.8 33.0,6.9 33.7,5.3 34.4,6.0 35.1,5.2 35.8,6.7 36.5,6.2 37.2,5.3 37.9,4.4 38.6,4.8 39.3,5.1 40.0,6.0 40.7,4.0 41.4,4.9 42.1,5.2 42.8,4.7 43.5,5.2" fill="none" stroke="#222" stroke-width="1.1"/><circle cx="43.5" cy="5.2" r="1.4" fill="#e02020"/></svg>
<div style="position:absolute;left:1330.9px;top:555.9px;width:400px;height:12.48px;line-height:12.48px;font-size:10.4px;color:#111;font-weight:bold;text-align:left;white-space:nowrap;">S:</div>
<div style="position:absolute;left:1345.5px;top:553.4px;width:38.80000000000018px;height:16.40000000000009px;background:#fff;border:1px solid #a9a9a9;box-shadow:inset 1px 1px 0 rgba(0,0,0,.08);"></div>
<div style="position:absolute;left:1302.8px;top:556.4px;width:80px;height:12.48px;line-height:12.48px;font-size:10.4px;color:#1a1a1a;font-weight:normal;text-align:right;white-space:nowrap;font-family:'Liberation Mono',monospace;letter-spacing:0.60px;-webkit-text-stroke:0.35px #1a1a1a;">100.0</div>
<div style="position:absolute;left:1387.3px;top:555.9px;width:400px;height:12.48px;line-height:12.48px;font-size:10.4px;color:#111;font-weight:bold;text-align:left;white-space:nowrap;">%</div>
<div style="position:absolute;left:1423.4px;top:555.9px;width:400px;height:12.48px;line-height:12.48px;font-size:10.4px;color:#111;font-weight:bold;text-align:left;white-space:nowrap;">P:</div>
<div style="position:absolute;left:1440.4px;top:553.4px;width:29.5px;height:16.40000000000009px;background:#dedede;border:1px solid #a9a9a9;box-shadow:inset 1px 1px 0 rgba(0,0,0,.08);"></div>
<div style="position:absolute;left:1388.4px;top:556.4px;width:80px;height:12.48px;line-height:12.48px;font-size:10.4px;color:#1a1a1a;font-weight:normal;text-align:right;white-space:nowrap;font-family:'Liberation Mono',monospace;letter-spacing:0.60px;-webkit-text-stroke:0.35px #1a1a1a;">0.0</div>
<div style="position:absolute;left:1473.2px;top:555.9px;width:400px;height:12.48px;line-height:12.48px;font-size:10.4px;color:#111;font-weight:bold;text-align:left;white-space:nowrap;">%</div>
<svg style="position:absolute;left:1486.3000000000002px;top:552.6px" width="45" height="16"><rect x="0" y="0" width="45" height="16" fill="#c3daf2"/><line x1="1" y1="4.0" x2="1" y2="16" stroke="#555" stroke-width="1"/><polyline points="1.5,8.0 2.2,7.8 2.9,8.2 3.6,7.8 4.3,8.1 5.0,8.6 5.7,7.7 6.4,8.0 7.1,8.4 7.8,7.7 8.5,7.8 9.2,8.6 9.9,8.8 10.6,8.1 11.3,8.0 12.0,8.9 12.7,8.2 13.4,8.5 14.1,8.5 14.8,8.6 15.5,8.9 16.2,9.0 16.9,8.7 17.6,8.9 18.3,8.9 19.0,8.7 19.7,8.5 20.4,8.3 21.1,8.4 21.8,9.2 22.5,8.9 23.2,8.3 23.9,9.2 24.6,8.5 25.3,9.0 26.0,8.8 26.7,8.6 27.4,8.5 28.1,9.0 28.8,8.8 29.5,9.1 30.2,9.2 30.9,9.3 31.6,9.4 32.3,9.2 33.0,9.6 33.7,9.1 34.4,9.5 35.1,9.5 35.8,9.5 36.5,8.7 37.2,9.3 37.9,9.2 38.6,8.8 39.3,9.1 40.0,9.3 40.7,8.8 41.4,8.8 42.1,9.5 42.8,9.3 43.5,9.9" fill="none" stroke="#333" stroke-width="1.1"/><circle cx="43.5" cy="9.9" r="1.4" fill="#e02020"/></svg>
<div style="position:absolute;left:1325.9px;top:573.6px;width:209.6px;height:72.1px;background:#eaeaea;border:1px solid #cfcfcf;"></div>
<div style="position:absolute;left:1329.1000000000001px;top:577.7px;width:126.29999999999995px;height:18.600000000000023px;background:linear-gradient(#fdfdfc,#f1efec 60%,#e2ded8);border:1px solid #9c9c9c;border-radius:3px;box-shadow:0 1px 1px rgba(0,0,0,.2);"></div>
<div style="position:absolute;left:1319.1px;top:581.0px;width:146.29999999999995px;height:12.96px;line-height:12.96px;font-size:10.8px;color:#111;font-weight:bold;text-align:center;white-space:nowrap;">Middle Roll</div>
<div style="position:absolute;left:1459.8000000000002px;top:577.1px;width:25.899999999999864px;height:20.0px;background:#484848;border:1px solid #303030;"></div>
<div style="position:absolute;left:1452.8px;top:582.4px;width:40px;height:10.08px;line-height:10.08px;font-size:8.4px;color:#fff;font-weight:bold;text-align:center;white-space:nowrap;">On</div>
<div style="position:absolute;left:1495.9px;top:578.6px;width:400px;height:9.0px;line-height:9.0px;font-size:7.5px;color:#cdcdcd;font-weight:normal;text-align:left;white-space:nowrap;">HL</div>
<div style="position:absolute;left:1511.9px;top:578.6px;width:400px;height:9.0px;line-height:9.0px;font-size:7.5px;color:#cdcdcd;font-weight:normal;text-align:left;white-space:nowrap;">PWR</div>
<div style="position:absolute;left:1491.9px;top:588.1px;width:400px;height:9.0px;line-height:9.0px;font-size:7.5px;color:#cdcdcd;font-weight:normal;text-align:left;white-space:nowrap;">FLT</div>
<div style="position:absolute;left:1330.9px;top:604.2px;width:400px;height:12.48px;line-height:12.48px;font-size:10.4px;color:#111;font-weight:bold;text-align:left;white-space:nowrap;">A:</div>
<div style="position:absolute;left:1345.5px;top:601.6px;width:38.80000000000018px;height:16.799999999999955px;background:#dedede;border:1px solid #a9a9a9;box-shadow:inset 1px 1px 0 rgba(0,0,0,.08);"></div>
<div style="position:absolute;left:1302.8px;top:604.8px;width:80px;height:12.48px;line-height:12.48px;font-size:10.4px;color:#1a1a1a;font-weight:normal;text-align:right;white-space:nowrap;font-family:'Liberation Mono',monospace;letter-spacing:0.60px;-webkit-text-stroke:0.35px #1a1a1a;">2.4</div>
<div style="position:absolute;left:1387.3px;top:604.2px;width:400px;height:12.48px;line-height:12.48px;font-size:10.4px;color:#111;font-weight:bold;text-align:left;white-space:nowrap;">fpm</div>
<div style="position:absolute;left:1423.4px;top:604.2px;width:400px;height:12.48px;line-height:12.48px;font-size:10.4px;color:#111;font-weight:bold;text-align:left;white-space:nowrap;">L:</div>
<div style="position:absolute;left:1440.4px;top:601.6px;width:29.5px;height:16.799999999999955px;background:#dedede;border:1px solid #a9a9a9;box-shadow:inset 1px 1px 0 rgba(0,0,0,.08);"></div>
<div style="position:absolute;left:1388.4px;top:604.8px;width:80px;height:12.48px;line-height:12.48px;font-size:10.4px;color:#1a1a1a;font-weight:normal;text-align:right;white-space:nowrap;font-family:'Liberation Mono',monospace;letter-spacing:0.60px;-webkit-text-stroke:0.35px #1a1a1a;">2.3</div>
<div style="position:absolute;left:1473.2px;top:604.2px;width:400px;height:12.48px;line-height:12.48px;font-size:10.4px;color:#111;font-weight:bold;text-align:left;white-space:nowrap;">A</div>
<svg style="position:absolute;left:1486.3000000000002px;top:599.8px" width="45" height="16"><rect x="0" y="0" width="45" height="16" fill="#c3daf2"/><line x1="1" y1="4.0" x2="1" y2="16" stroke="#555" stroke-width="1"/><polyline points="1.5,10.2 2.2,11.2 2.9,10.9 3.6,9.9 4.3,10.2 5.0,10.0 5.7,10.3 6.4,10.4 7.1,9.2 7.8,9.0 8.5,10.3 9.2,9.6 9.9,10.1 10.6,8.8 11.3,9.5 12.0,10.0 12.7,9.1 13.4,10.3 14.1,10.2 14.8,8.7 15.5,8.7 16.2,9.6 16.9,10.2 17.6,9.3 18.3,9.0 19.0,9.3 19.7,8.7 20.4,9.0 21.1,9.3 21.8,9.4 22.5,9.0 23.2,9.0 23.9,8.9 24.6,9.3 25.3,9.1 26.0,8.6 26.7,10.0 27.4,9.5 28.1,9.6 28.8,8.9 29.5,10.2 30.2,10.0 30.9,8.8 31.6,9.1 32.3,9.8 33.0,9.8 33.7,10.1 34.4,9.3 35.1,10.0 35.8,9.7 36.5,9.1 37.2,9.5 37.9,10.0 38.6,10.0 39.3,9.4 40.0,9.6 40.7,8.6 41.4,9.0 42.1,9.9 42.8,9.3 43.5,8.9" fill="none" stroke="#222" stroke-width="1.1"/><circle cx="43.5" cy="8.9" r="1.4" fill="#e02020"/></svg>
<div style="position:absolute;left:1330.9px;top:628.0px;width:400px;height:12.48px;line-height:12.48px;font-size:10.4px;color:#111;font-weight:bold;text-align:left;white-space:nowrap;">S:</div>
<div style="position:absolute;left:1345.5px;top:625.5px;width:38.80000000000018px;height:16.40000000000009px;background:#fff;border:1px solid #a9a9a9;box-shadow:inset 1px 1px 0 rgba(0,0,0,.08);"></div>
<div style="position:absolute;left:1302.8px;top:628.5px;width:80px;height:12.48px;line-height:12.48px;font-size:10.4px;color:#1a1a1a;font-weight:normal;text-align:right;white-space:nowrap;font-family:'Liberation Mono',monospace;letter-spacing:0.60px;-webkit-text-stroke:0.35px #1a1a1a;">2.4</div>
<div style="position:absolute;left:1387.3px;top:628.0px;width:400px;height:12.48px;line-height:12.48px;font-size:10.4px;color:#111;font-weight:bold;text-align:left;white-space:nowrap;">fpm</div>
<div style="position:absolute;left:1423.4px;top:628.0px;width:400px;height:12.48px;line-height:12.48px;font-size:10.4px;color:#111;font-weight:bold;text-align:left;white-space:nowrap;">P:</div>
<div style="position:absolute;left:1440.4px;top:625.5px;width:29.5px;height:16.40000000000009px;background:#dedede;border:1px solid #a9a9a9;box-shadow:inset 1px 1px 0 rgba(0,0,0,.08);"></div>
<div style="position:absolute;left:1388.4px;top:628.5px;width:80px;height:12.48px;line-height:12.48px;font-size:10.4px;color:#1a1a1a;font-weight:normal;text-align:right;white-space:nowrap;font-family:'Liberation Mono',monospace;letter-spacing:0.60px;-webkit-text-stroke:0.35px #1a1a1a;">0.4</div>
<div style="position:absolute;left:1473.2px;top:628.0px;width:400px;height:12.48px;line-height:12.48px;font-size:10.4px;color:#111;font-weight:bold;text-align:left;white-space:nowrap;">%</div>
<svg style="position:absolute;left:1486.3000000000002px;top:624.7px" width="45" height="16"><rect x="0" y="0" width="45" height="16" fill="#c3daf2"/><line x1="1" y1="4.0" x2="1" y2="16" stroke="#555" stroke-width="1"/><polyline points="1.5,7.7 2.2,8.0 2.9,7.7 3.6,8.4 4.3,7.8 5.0,8.2 5.7,8.6 6.4,8.0 7.1,8.7 7.8,8.5 8.5,8.3 9.2,8.4 9.9,8.4 10.6,8.1 11.3,8.9 12.0,8.2 12.7,8.9 13.4,8.8 14.1,7.9 14.8,8.2 15.5,8.4 16.2,8.8 16.9,8.2 17.6,8.7 18.3,8.4 19.0,8.9 19.7,9.1 20.4,8.9 21.1,8.3 21.8,9.0 22.5,8.6 23.2,9.1 23.9,8.7 24.6,9.2 25.3,9.3 26.0,9.2 26.7,9.2 27.4,9.2 28.1,9.0 28.8,8.5 29.5,9.5 30.2,8.9 30.9,8.4 31.6,8.9 32.3,8.9 33.0,8.7 33.7,9.6 34.4,8.7 35.1,9.6 35.8,9.2 36.5,8.8 37.2,9.0 37.9,9.2 38.6,8.8 39.3,9.6 40.0,9.5 40.7,9.8 41.4,9.7 42.1,9.7 42.8,9.9 43.5,9.9" fill="none" stroke="#333" stroke-width="1.1"/><circle cx="43.5" cy="9.9" r="1.4" fill="#e02020"/></svg>
<div style="position:absolute;left:1325.9px;top:645.7px;width:209.6px;height:72.1px;background:#eaeaea;border:1px solid #cfcfcf;"></div>
<div style="position:absolute;left:1329.1000000000001px;top:649.8000000000001px;width:126.29999999999995px;height:18.600000000000023px;background:linear-gradient(#fdfdfc,#f1efec 60%,#e2ded8);border:1px solid #9c9c9c;border-radius:3px;box-shadow:0 1px 1px rgba(0,0,0,.2);"></div>
<div style="position:absolute;left:1319.1px;top:653.1px;width:146.29999999999995px;height:12.96px;line-height:12.96px;font-size:10.8px;color:#111;font-weight:bold;text-align:center;white-space:nowrap;">Bottom Roll</div>
<div style="position:absolute;left:1459.8000000000002px;top:649.2px;width:25.899999999999864px;height:20.0px;background:#484848;border:1px solid #303030;"></div>
<div style="position:absolute;left:1452.8px;top:654.5px;width:40px;height:10.08px;line-height:10.08px;font-size:8.4px;color:#fff;font-weight:bold;text-align:center;white-space:nowrap;">On</div>
<div style="position:absolute;left:1495.9px;top:650.7px;width:400px;height:9.0px;line-height:9.0px;font-size:7.5px;color:#cdcdcd;font-weight:normal;text-align:left;white-space:nowrap;">HL</div>
<div style="position:absolute;left:1511.9px;top:650.7px;width:400px;height:9.0px;line-height:9.0px;font-size:7.5px;color:#cdcdcd;font-weight:normal;text-align:left;white-space:nowrap;">PWR</div>
<div style="position:absolute;left:1491.9px;top:660.2px;width:400px;height:9.0px;line-height:9.0px;font-size:7.5px;color:#cdcdcd;font-weight:normal;text-align:left;white-space:nowrap;">FLT</div>
<div style="position:absolute;left:1330.9px;top:676.3px;width:400px;height:12.48px;line-height:12.48px;font-size:10.4px;color:#111;font-weight:bold;text-align:left;white-space:nowrap;">A:</div>
<div style="position:absolute;left:1345.5px;top:673.7px;width:38.80000000000018px;height:16.799999999999955px;background:#dedede;border:1px solid #a9a9a9;box-shadow:inset 1px 1px 0 rgba(0,0,0,.08);"></div>
<div style="position:absolute;left:1302.8px;top:676.9px;width:80px;height:12.48px;line-height:12.48px;font-size:10.4px;color:#1a1a1a;font-weight:normal;text-align:right;white-space:nowrap;font-family:'Liberation Mono',monospace;letter-spacing:0.60px;-webkit-text-stroke:0.35px #1a1a1a;">2.4</div>
<div style="position:absolute;left:1387.3px;top:676.3px;width:400px;height:12.48px;line-height:12.48px;font-size:10.4px;color:#111;font-weight:bold;text-align:left;white-space:nowrap;">fpm</div>
<div style="position:absolute;left:1423.4px;top:676.3px;width:400px;height:12.48px;line-height:12.48px;font-size:10.4px;color:#111;font-weight:bold;text-align:left;white-space:nowrap;">L:</div>
<div style="position:absolute;left:1440.4px;top:673.7px;width:29.5px;height:16.799999999999955px;background:#dedede;border:1px solid #a9a9a9;box-shadow:inset 1px 1px 0 rgba(0,0,0,.08);"></div>
<div style="position:absolute;left:1388.4px;top:676.9px;width:80px;height:12.48px;line-height:12.48px;font-size:10.4px;color:#1a1a1a;font-weight:normal;text-align:right;white-space:nowrap;font-family:'Liberation Mono',monospace;letter-spacing:0.60px;-webkit-text-stroke:0.35px #1a1a1a;">2.1</div>
<div style="position:absolute;left:1473.2px;top:676.3px;width:400px;height:12.48px;line-height:12.48px;font-size:10.4px;color:#111;font-weight:bold;text-align:left;white-space:nowrap;">A</div>
<svg style="position:absolute;left:1486.3000000000002px;top:671.9px" width="45" height="16"><rect x="0" y="0" width="45" height="16" fill="#c3daf2"/><line x1="1" y1="4.0" x2="1" y2="16" stroke="#555" stroke-width="1"/><polyline points="1.5,10.4 2.2,10.7 2.9,10.3 3.6,10.5 4.3,10.4 5.0,9.4 5.7,9.2 6.4,10.5 7.1,9.5 7.8,9.4 8.5,10.6 9.2,9.7 9.9,10.2 10.6,9.6 11.3,9.9 12.0,9.0 12.7,9.8 13.4,10.2 14.1,9.6 14.8,9.9 15.5,9.8 16.2,8.8 16.9,9.9 17.6,9.6 18.3,9.1 19.0,8.7 19.7,10.1 20.4,9.4 21.1,9.8 21.8,10.1 22.5,9.8 23.2,10.1 23.9,9.2 24.6,9.9 25.3,9.3 26.0,10.1 26.7,10.0 27.4,8.7 28.1,8.8 28.8,8.9 29.5,10.2 30.2,9.3 30.9,9.6 31.6,9.1 32.3,9.4 33.0,9.2 33.7,9.2 34.4,9.5 35.1,9.5 35.8,10.1 36.5,9.7 37.2,10.1 37.9,10.0 38.6,10.2 39.3,9.7 40.0,8.8 40.7,10.0 41.4,10.2 42.1,10.1 42.8,9.5 43.5,9.8" fill="none" stroke="#222" stroke-width="1.1"/><circle cx="43.5" cy="9.8" r="1.4" fill="#e02020"/></svg>
<div style="position:absolute;left:1330.9px;top:700.1px;width:400px;height:12.48px;line-height:12.48px;font-size:10.4px;color:#111;font-weight:bold;text-align:left;white-space:nowrap;">S:</div>
<div style="position:absolute;left:1345.5px;top:697.6px;width:38.80000000000018px;height:16.40000000000009px;background:#fff;border:1px solid #a9a9a9;box-shadow:inset 1px 1px 0 rgba(0,0,0,.08);"></div>
<div style="position:absolute;left:1302.8px;top:700.6px;width:80px;height:12.48px;line-height:12.48px;font-size:10.4px;color:#1a1a1a;font-weight:normal;text-align:right;white-space:nowrap;font-family:'Liberation Mono',monospace;letter-spacing:0.60px;-webkit-text-stroke:0.35px #1a1a1a;">100.0</div>
<div style="position:absolute;left:1387.3px;top:700.1px;width:400px;height:12.48px;line-height:12.48px;font-size:10.4px;color:#111;font-weight:bold;text-align:left;white-space:nowrap;">%</div>
<div style="position:absolute;left:1423.4px;top:700.1px;width:400px;height:12.48px;line-height:12.48px;font-size:10.4px;color:#111;font-weight:bold;text-align:left;white-space:nowrap;">P:</div>
<div style="position:absolute;left:1440.4px;top:697.6px;width:29.5px;height:16.40000000000009px;background:#dedede;border:1px solid #a9a9a9;box-shadow:inset 1px 1px 0 rgba(0,0,0,.08);"></div>
<div style="position:absolute;left:1388.4px;top:700.6px;width:80px;height:12.48px;line-height:12.48px;font-size:10.4px;color:#1a1a1a;font-weight:normal;text-align:right;white-space:nowrap;font-family:'Liberation Mono',monospace;letter-spacing:0.60px;-webkit-text-stroke:0.35px #1a1a1a;">0.3</div>
<div style="position:absolute;left:1473.2px;top:700.1px;width:400px;height:12.48px;line-height:12.48px;font-size:10.4px;color:#111;font-weight:bold;text-align:left;white-space:nowrap;">%</div>
<svg style="position:absolute;left:1486.3000000000002px;top:696.8000000000001px" width="45" height="16"><rect x="0" y="0" width="45" height="16" fill="#c3daf2"/><line x1="1" y1="4.0" x2="1" y2="16" stroke="#555" stroke-width="1"/><polyline points="1.5,8.1 2.2,8.5 2.9,8.0 3.6,8.3 4.3,8.6 5.0,8.1 5.7,8.4 6.4,8.4 7.1,8.6 7.8,7.7 8.5,7.9 9.2,8.8 9.9,8.6 10.6,8.0 11.3,8.6 12.0,8.0 12.7,8.2 13.4,8.3 14.1,8.1 14.8,8.0 15.5,8.5 16.2,8.7 16.9,8.3 17.6,8.7 18.3,9.1 19.0,8.1 19.7,8.4 20.4,8.2 21.1,8.9 21.8,8.6 22.5,8.6 23.2,8.4 23.9,9.1 24.6,9.1 25.3,8.7 26.0,9.2 26.7,8.5 27.4,8.7 28.1,9.4 28.8,8.6 29.5,8.5 30.2,8.4 30.9,9.2 31.6,9.4 32.3,8.5 33.0,9.0 33.7,9.0 34.4,8.9 35.1,8.8 35.8,9.0 36.5,8.8 37.2,9.7 37.9,8.9 38.6,9.3 39.3,9.4 40.0,9.5 40.7,9.3 41.4,9.4 42.1,9.8 42.8,9.0 43.5,9.1" fill="none" stroke="#333" stroke-width="1.1"/><circle cx="43.5" cy="9.1" r="1.4" fill="#e02020"/></svg>
<div style="position:absolute;left:1553.2px;top:539.2px;width:209.6px;height:72px;background:#eaeaea;border:1px solid #cfcfcf;"></div>
<div style="position:absolute;left:1556.4px;top:543.3000000000001px;width:126.29999999999995px;height:18.600000000000023px;background:linear-gradient(#fdfdfc,#f1efec 60%,#e2ded8);border:1px solid #9c9c9c;border-radius:3px;box-shadow:0 1px 1px rgba(0,0,0,.2);"></div>
<div style="position:absolute;left:1546.4px;top:546.6px;width:146.29999999999995px;height:12.96px;line-height:12.96px;font-size:10.8px;color:#111;font-weight:bold;text-align:center;white-space:nowrap;">Upstream Roll</div>
<div style="position:absolute;left:1687.1000000000001px;top:542.7px;width:25.899999999999864px;height:20.0px;background:#484848;border:1px solid #303030;"></div>
<div style="position:absolute;left:1680.1px;top:548.0px;width:40px;height:10.08px;line-height:10.08px;font-size:8.4px;color:#fff;font-weight:bold;text-align:center;white-space:nowrap;">On</div>
<div style="position:absolute;left:1723.2px;top:544.2px;width:400px;height:9.0px;line-height:9.0px;font-size:7.5px;color:#cdcdcd;font-weight:normal;text-align:left;white-space:nowrap;">HL</div>
<div style="position:absolute;left:1739.2px;top:544.2px;width:400px;height:9.0px;line-height:9.0px;font-size:7.5px;color:#cdcdcd;font-weight:normal;text-align:left;white-space:nowrap;">PWR</div>
<div style="position:absolute;left:1719.2px;top:553.7px;width:400px;height:9.0px;line-height:9.0px;font-size:7.5px;color:#cdcdcd;font-weight:normal;text-align:left;white-space:nowrap;">FLT</div>
<div style="position:absolute;left:1558.2px;top:569.8px;width:400px;height:12.48px;line-height:12.48px;font-size:10.4px;color:#111;font-weight:bold;text-align:left;white-space:nowrap;">A:</div>
<div style="position:absolute;left:1572.8px;top:567.2px;width:38.80000000000018px;height:16.799999999999955px;background:#dedede;border:1px solid #a9a9a9;box-shadow:inset 1px 1px 0 rgba(0,0,0,.08);"></div>
<div style="position:absolute;left:1530.1px;top:570.4px;width:80px;height:12.48px;line-height:12.48px;font-size:10.4px;color:#1a1a1a;font-weight:normal;text-align:right;white-space:nowrap;font-family:'Liberation Mono',monospace;letter-spacing:0.60px;-webkit-text-stroke:0.35px #1a1a1a;">2.3</div>
<div style="position:absolute;left:1614.6px;top:569.8px;width:400px;height:12.48px;line-height:12.48px;font-size:10.4px;color:#111;font-weight:bold;text-align:left;white-space:nowrap;">fpm</div>
<div style="position:absolute;left:1650.7px;top:569.8px;width:400px;height:12.48px;line-height:12.48px;font-size:10.4px;color:#111;font-weight:bold;text-align:left;white-space:nowrap;">L:</div>
<div style="position:absolute;left:1667.7px;top:567.2px;width:29.5px;height:16.799999999999955px;background:#dedede;border:1px solid #a9a9a9;box-shadow:inset 1px 1px 0 rgba(0,0,0,.08);"></div>
<div style="position:absolute;left:1615.7px;top:570.4px;width:80px;height:12.48px;line-height:12.48px;font-size:10.4px;color:#1a1a1a;font-weight:normal;text-align:right;white-space:nowrap;font-family:'Liberation Mono',monospace;letter-spacing:0.60px;-webkit-text-stroke:0.35px #1a1a1a;">2.4</div>
<div style="position:absolute;left:1700.5px;top:569.8px;width:400px;height:12.48px;line-height:12.48px;font-size:10.4px;color:#111;font-weight:bold;text-align:left;white-space:nowrap;">A</div>
<svg style="position:absolute;left:1713.6000000000001px;top:565.4px" width="45" height="16"><rect x="0" y="0" width="45" height="16" fill="#c3daf2"/><line x1="1" y1="4.0" x2="1" y2="16" stroke="#555" stroke-width="1"/><polyline points="1.5,11.8 2.2,11.7 2.9,9.6 3.6,9.6 4.3,11.1 5.0,10.8 5.7,10.6 6.4,9.6 7.1,10.2 7.8,10.1 8.5,9.9 9.2,8.9 9.9,9.4 10.6,9.2 11.3,9.8 12.0,10.3 12.7,10.1 13.4,9.1 14.1,8.8 14.8,8.3 15.5,7.7 16.2,7.5 16.9,8.4 17.6,8.0 18.3,8.0 19.0,9.1 19.7,8.1 20.4,8.1 21.1,7.3 21.8,6.7 22.5,7.3 23.2,6.7 23.9,7.5 24.6,8.5 25.3,7.6 26.0,6.4 26.7,7.9 27.4,7.6 28.1,7.3 28.8,7.6 29.5,7.2 30.2,7.1 30.9,6.1 31.6,7.4 32.3,7.2 33.0,5.3 33.7,6.5 34.4,6.3 35.1,5.7 35.8,5.7 36.5,5.5 37.2,6.4 37.9,5.3 38.6,6.0 39.3,4.8 40.0,5.9 40.7,5.8 41.4,4.7 42.1,4.9 42.8,5.5 43.5,5.0" fill="none" stroke="#222" stroke-width="1.1"/><circle cx="43.5" cy="5.0" r="1.4" fill="#e02020"/></svg>
<div style="position:absolute;left:1558.2px;top:593.6px;width:400px;height:12.48px;line-height:12.48px;font-size:10.4px;color:#111;font-weight:bold;text-align:left;white-space:nowrap;">S:</div>
<div style="position:absolute;left:1572.8px;top:591.1px;width:38.80000000000018px;height:16.40000000000009px;background:#fff;border:1px solid #a9a9a9;box-shadow:inset 1px 1px 0 rgba(0,0,0,.08);"></div>
<div style="position:absolute;left:1530.1px;top:594.1px;width:80px;height:12.48px;line-height:12.48px;font-size:10.4px;color:#1a1a1a;font-weight:normal;text-align:right;white-space:nowrap;font-family:'Liberation Mono',monospace;letter-spacing:0.60px;-webkit-text-stroke:0.35px #1a1a1a;">96.5</div>
<div style="position:absolute;left:1614.6px;top:593.6px;width:400px;height:12.48px;line-height:12.48px;font-size:10.4px;color:#111;font-weight:bold;text-align:left;white-space:nowrap;">%</div>
<div style="position:absolute;left:1650.7px;top:593.6px;width:400px;height:12.48px;line-height:12.48px;font-size:10.4px;color:#111;font-weight:bold;text-align:left;white-space:nowrap;">P:</div>
<div style="position:absolute;left:1667.7px;top:591.1px;width:29.5px;height:16.40000000000009px;background:#dedede;border:1px solid #a9a9a9;box-shadow:inset 1px 1px 0 rgba(0,0,0,.08);"></div>
<div style="position:absolute;left:1615.7px;top:594.1px;width:80px;height:12.48px;line-height:12.48px;font-size:10.4px;color:#1a1a1a;font-weight:normal;text-align:right;white-space:nowrap;font-family:'Liberation Mono',monospace;letter-spacing:0.60px;-webkit-text-stroke:0.35px #1a1a1a;">0.4</div>
<div style="position:absolute;left:1700.5px;top:593.6px;width:400px;height:12.48px;line-height:12.48px;font-size:10.4px;color:#111;font-weight:bold;text-align:left;white-space:nowrap;">%</div>
<svg style="position:absolute;left:1713.6000000000001px;top:590.3000000000001px" width="45" height="16"><rect x="0" y="0" width="45" height="16" fill="#c3daf2"/><line x1="1" y1="4.0" x2="1" y2="16" stroke="#555" stroke-width="1"/><polyline points="1.5,8.5 2.2,7.5 2.9,8.3 3.6,8.1 4.3,8.6 5.0,8.0 5.7,8.6 6.4,7.8 7.1,8.7 7.8,8.1 8.5,7.9 9.2,8.1 9.9,8.4 10.6,7.8 11.3,8.2 12.0,7.8 12.7,7.9 13.4,8.0 14.1,8.1 14.8,8.2 15.5,8.8 16.2,8.4 16.9,8.9 17.6,9.0 18.3,9.0 19.0,9.1 19.7,8.7 20.4,8.8 21.1,9.1 21.8,8.7 22.5,8.3 23.2,8.7 23.9,8.8 24.6,8.4 25.3,8.3 26.0,8.5 26.7,9.1 27.4,9.2 28.1,9.1 28.8,8.8 29.5,8.4 30.2,8.4 30.9,9.2 31.6,9.0 32.3,9.0 33.0,8.7 33.7,8.7 34.4,8.7 35.1,8.7 35.8,9.3 36.5,9.0 37.2,9.3 37.9,9.1 38.6,9.3 39.3,9.5 40.0,9.6 40.7,8.9 41.4,9.8 42.1,9.7 42.8,9.7 43.5,9.3" fill="none" stroke="#333" stroke-width="1.1"/><circle cx="43.5" cy="9.3" r="1.4" fill="#e02020"/></svg>
<div style="position:absolute;left:1553.2px;top:611.2px;width:209.6px;height:72px;background:#eaeaea;border:1px solid #cfcfcf;"></div>
<div style="position:absolute;left:1556.4px;top:615.3000000000001px;width:126.29999999999995px;height:18.600000000000023px;background:linear-gradient(#fdfdfc,#f1efec 60%,#e2ded8);border:1px solid #9c9c9c;border-radius:3px;box-shadow:0 1px 1px rgba(0,0,0,.2);"></div>
<div style="position:absolute;left:1546.4px;top:618.6px;width:146.29999999999995px;height:12.96px;line-height:12.96px;font-size:10.8px;color:#111;font-weight:bold;text-align:center;white-space:nowrap;">Downstream Roll</div>
<div style="position:absolute;left:1687.1000000000001px;top:614.7px;width:25.899999999999864px;height:20.0px;background:#484848;border:1px solid #303030;"></div>
<div style="position:absolute;left:1680.1px;top:620.0px;width:40px;height:10.08px;line-height:10.08px;font-size:8.4px;color:#fff;font-weight:bold;text-align:center;white-space:nowrap;">On</div>
<div style="position:absolute;left:1723.2px;top:616.2px;width:400px;height:9.0px;line-height:9.0px;font-size:7.5px;color:#cdcdcd;font-weight:normal;text-align:left;white-space:nowrap;">HL</div>
<div style="position:absolute;left:1739.2px;top:616.2px;width:400px;height:9.0px;line-height:9.0px;font-size:7.5px;color:#cdcdcd;font-weight:normal;text-align:left;white-space:nowrap;">PWR</div>
<div style="position:absolute;left:1719.2px;top:625.7px;width:400px;height:9.0px;line-height:9.0px;font-size:7.5px;color:#cdcdcd;font-weight:normal;text-align:left;white-space:nowrap;">FLT</div>
<div style="position:absolute;left:1558.2px;top:641.8px;width:400px;height:12.48px;line-height:12.48px;font-size:10.4px;color:#111;font-weight:bold;text-align:left;white-space:nowrap;">A:</div>
<div style="position:absolute;left:1572.8px;top:639.2px;width:38.80000000000018px;height:16.799999999999955px;background:#dedede;border:1px solid #a9a9a9;box-shadow:inset 1px 1px 0 rgba(0,0,0,.08);"></div>
<div style="position:absolute;left:1530.1px;top:642.4px;width:80px;height:12.48px;line-height:12.48px;font-size:10.4px;color:#1a1a1a;font-weight:normal;text-align:right;white-space:nowrap;font-family:'Liberation Mono',monospace;letter-spacing:0.60px;-webkit-text-stroke:0.35px #1a1a1a;">2.3</div>
<div style="position:absolute;left:1614.6px;top:641.8px;width:400px;height:12.48px;line-height:12.48px;font-size:10.4px;color:#111;font-weight:bold;text-align:left;white-space:nowrap;">fpm</div>
<div style="position:absolute;left:1650.7px;top:641.8px;width:400px;height:12.48px;line-height:12.48px;font-size:10.4px;color:#111;font-weight:bold;text-align:left;white-space:nowrap;">L:</div>
<div style="position:absolute;left:1667.7px;top:639.2px;width:29.5px;height:16.799999999999955px;background:#dedede;border:1px solid #a9a9a9;box-shadow:inset 1px 1px 0 rgba(0,0,0,.08);"></div>
<div style="position:absolute;left:1615.7px;top:642.4px;width:80px;height:12.48px;line-height:12.48px;font-size:10.4px;color:#1a1a1a;font-weight:normal;text-align:right;white-space:nowrap;font-family:'Liberation Mono',monospace;letter-spacing:0.60px;-webkit-text-stroke:0.35px #1a1a1a;">2.4</div>
<div style="position:absolute;left:1700.5px;top:641.8px;width:400px;height:12.48px;line-height:12.48px;font-size:10.4px;color:#111;font-weight:bold;text-align:left;white-space:nowrap;">A</div>
<svg style="position:absolute;left:1713.6000000000001px;top:637.4px" width="45" height="16"><rect x="0" y="0" width="45" height="16" fill="#c3daf2"/><line x1="1" y1="4.0" x2="1" y2="16" stroke="#555" stroke-width="1"/><polyline points="1.5,11.0 2.2,11.0 2.9,11.0 3.6,11.1 4.3,10.6 5.0,10.8 5.7,9.2 6.4,9.9 7.1,10.6 7.8,10.1 8.5,10.4 9.2,9.1 9.9,9.6 10.6,9.2 11.3,9.7 12.0,9.7 12.7,8.7 13.4,9.1 14.1,9.2 14.8,10.2 15.5,9.9 16.2,8.9 16.9,10.0 17.6,8.9 18.3,9.7 19.0,8.8 19.7,8.6 20.4,10.1 21.1,8.9 21.8,9.0 22.5,10.2 23.2,10.0 23.9,9.1 24.6,10.2 25.3,9.5 26.0,9.7 26.7,8.9 27.4,10.2 28.1,9.7 28.8,10.2 29.5,10.1 30.2,9.1 30.9,9.2 31.6,8.8 32.3,8.8 33.0,8.7 33.7,9.1 34.4,9.6 35.1,8.6 35.8,9.7 36.5,9.1 37.2,9.1 37.9,9.9 38.6,9.4 39.3,9.1 40.0,9.4 40.7,9.7 41.4,8.7 42.1,10.2 42.8,8.6 43.5,9.8" fill="none" stroke="#222" stroke-width="1.1"/><circle cx="43.5" cy="9.8" r="1.4" fill="#e02020"/></svg>
<div style="position:absolute;left:1558.2px;top:665.6px;width:400px;height:12.48px;line-height:12.48px;font-size:10.4px;color:#111;font-weight:bold;text-align:left;white-space:nowrap;">S:</div>
<div style="position:absolute;left:1572.8px;top:663.1px;width:38.80000000000018px;height:16.40000000000009px;background:#fff;border:1px solid #a9a9a9;box-shadow:inset 1px 1px 0 rgba(0,0,0,.08);"></div>
<div style="position:absolute;left:1530.1px;top:666.1px;width:80px;height:12.48px;line-height:12.48px;font-size:10.4px;color:#1a1a1a;font-weight:normal;text-align:right;white-space:nowrap;font-family:'Liberation Mono',monospace;letter-spacing:0.60px;-webkit-text-stroke:0.35px #1a1a1a;">97.0</div>
<div style="position:absolute;left:1614.6px;top:665.6px;width:400px;height:12.48px;line-height:12.48px;font-size:10.4px;color:#111;font-weight:bold;text-align:left;white-space:nowrap;">%</div>
<div style="position:absolute;left:1650.7px;top:665.6px;width:400px;height:12.48px;line-height:12.48px;font-size:10.4px;color:#111;font-weight:bold;text-align:left;white-space:nowrap;">P:</div>
<div style="position:absolute;left:1667.7px;top:663.1px;width:29.5px;height:16.40000000000009px;background:#dedede;border:1px solid #a9a9a9;box-shadow:inset 1px 1px 0 rgba(0,0,0,.08);"></div>
<div style="position:absolute;left:1615.7px;top:666.1px;width:80px;height:12.48px;line-height:12.48px;font-size:10.4px;color:#1a1a1a;font-weight:normal;text-align:right;white-space:nowrap;font-family:'Liberation Mono',monospace;letter-spacing:0.60px;-webkit-text-stroke:0.35px #1a1a1a;">0.1</div>
<div style="position:absolute;left:1700.5px;top:665.6px;width:400px;height:12.48px;line-height:12.48px;font-size:10.4px;color:#111;font-weight:bold;text-align:left;white-space:nowrap;">%</div>
<svg style="position:absolute;left:1713.6000000000001px;top:662.3000000000001px" width="45" height="16"><rect x="0" y="0" width="45" height="16" fill="#c3daf2"/><line x1="1" y1="4.0" x2="1" y2="16" stroke="#555" stroke-width="1"/><polyline points="1.5,7.5 2.2,8.5 2.9,7.7 3.6,8.3 4.3,8.5 5.0,8.4 5.7,7.9 6.4,8.0 7.1,8.4 7.8,8.7 8.5,8.4 9.2,8.3 9.9,8.2 10.6,8.2 11.3,8.6 12.0,8.3 12.7,8.4 13.4,8.5 14.1,8.6 14.8,7.9 15.5,8.2 16.2,8.7 16.9,8.6 17.6,8.9 18.3,8.1 19.0,8.3 19.7,8.6 20.4,8.9 21.1,8.3 21.8,9.0 22.5,8.6 23.2,8.5 23.9,9.1 24.6,8.3 25.3,9.3 26.0,8.6 26.7,8.7 27.4,8.5 28.1,8.9 28.8,9.3 29.5,8.6 30.2,9.0 30.9,8.9 31.6,8.8 32.3,8.6 33.0,9.3 33.7,9.0 34.4,9.1 35.1,9.2 35.8,8.7 36.5,9.5 37.2,9.6 37.9,8.9 38.6,9.6 39.3,9.5 40.0,9.1 40.7,9.0 41.4,8.9 42.1,9.3 42.8,9.3 43.5,9.4" fill="none" stroke="#333" stroke-width="1.1"/><circle cx="43.5" cy="9.4" r="1.4" fill="#e02020"/></svg>
<div style="position:absolute;left:1781.3px;top:577.8px;width:209.6px;height:71px;background:#eaeaea;border:1px solid #cfcfcf;"></div>
<div style="position:absolute;left:1784.5px;top:581.9px;width:126.29999999999995px;height:18.600000000000023px;background:linear-gradient(#fdfdfc,#f1efec 60%,#e2ded8);border:1px solid #9c9c9c;border-radius:3px;box-shadow:0 1px 1px rgba(0,0,0,.2);"></div>
<div style="position:absolute;left:1774.5px;top:585.2px;width:146.29999999999995px;height:12.96px;line-height:12.96px;font-size:10.8px;color:#111;font-weight:bold;text-align:center;white-space:nowrap;">Pull Roll</div>
<div style="position:absolute;left:1915.2px;top:581.3px;width:25.899999999999864px;height:20.0px;background:#484848;border:1px solid #303030;"></div>
<div style="position:absolute;left:1908.2px;top:586.6px;width:40px;height:10.08px;line-height:10.08px;font-size:8.4px;color:#fff;font-weight:bold;text-align:center;white-space:nowrap;">On</div>
<div style="position:absolute;left:1951.3px;top:582.8px;width:400px;height:9.0px;line-height:9.0px;font-size:7.5px;color:#cdcdcd;font-weight:normal;text-align:left;white-space:nowrap;">HL</div>
<div style="position:absolute;left:1967.3px;top:582.8px;width:400px;height:9.0px;line-height:9.0px;font-size:7.5px;color:#cdcdcd;font-weight:normal;text-align:left;white-space:nowrap;">PWR</div>
<div style="position:absolute;left:1947.3px;top:592.3px;width:400px;height:9.0px;line-height:9.0px;font-size:7.5px;color:#cdcdcd;font-weight:normal;text-align:left;white-space:nowrap;">FLT</div>
<div style="position:absolute;left:1786.3px;top:608.4px;width:400px;height:12.48px;line-height:12.48px;font-size:10.4px;color:#111;font-weight:bold;text-align:left;white-space:nowrap;">A:</div>
<div style="position:absolute;left:1800.8999999999999px;top:605.8px;width:38.80000000000018px;height:16.799999999999955px;background:#dedede;border:1px solid #a9a9a9;box-shadow:inset 1px 1px 0 rgba(0,0,0,.08);"></div>
<div style="position:absolute;left:1758.2px;top:609.0px;width:80px;height:12.48px;line-height:12.48px;font-size:10.4px;color:#1a1a1a;font-weight:normal;text-align:right;white-space:nowrap;font-family:'Liberation Mono',monospace;letter-spacing:0.60px;-webkit-text-stroke:0.35px #1a1a1a;">2.3</div>
<div style="position:absolute;left:1842.7px;top:608.4px;width:400px;height:12.48px;line-height:12.48px;font-size:10.4px;color:#111;font-weight:bold;text-align:left;white-space:nowrap;">fpm</div>
<div style="position:absolute;left:1878.8px;top:608.4px;width:400px;height:12.48px;line-height:12.48px;font-size:10.4px;color:#111;font-weight:bold;text-align:left;white-space:nowrap;">L:</div>
<div style="position:absolute;left:1895.8px;top:605.8px;width:29.5px;height:16.799999999999955px;background:#dedede;border:1px solid #a9a9a9;box-shadow:inset 1px 1px 0 rgba(0,0,0,.08);"></div>
<div style="position:absolute;left:1843.8px;top:609.0px;width:80px;height:12.48px;line-height:12.48px;font-size:10.4px;color:#1a1a1a;font-weight:normal;text-align:right;white-space:nowrap;font-family:'Liberation Mono',monospace;letter-spacing:0.60px;-webkit-text-stroke:0.35px #1a1a1a;">2.3</div>
<div style="position:absolute;left:1928.6px;top:608.4px;width:400px;height:12.48px;line-height:12.48px;font-size:10.4px;color:#111;font-weight:bold;text-align:left;white-space:nowrap;">A</div>
<svg style="position:absolute;left:1941.7px;top:603.9999999999999px" width="45" height="16"><rect x="0" y="0" width="45" height="16" fill="#c3daf2"/><line x1="1" y1="4.0" x2="1" y2="16" stroke="#555" stroke-width="1"/><polyline points="1.5,10.2 2.2,9.8 2.9,10.4 3.6,9.7 4.3,9.4 5.0,10.1 5.7,11.1 6.4,10.7 7.1,10.6 7.8,9.2 8.5,9.8 9.2,9.1 9.9,8.8 10.6,8.6 11.3,8.7 12.0,10.2 12.7,9.9 13.4,9.7 14.1,9.6 14.8,8.1 15.5,8.3 16.2,8.9 16.9,9.0 17.6,9.2 18.3,9.1 19.0,7.2 19.7,8.3 20.4,8.3 21.1,7.9 21.8,7.0 22.5,7.6 23.2,6.6 23.9,8.4 24.6,8.2 25.3,7.3 26.0,6.7 26.7,7.9 27.4,7.1 28.1,7.7 28.8,7.5 29.5,6.6 30.2,6.3 30.9,6.6 31.6,6.1 32.3,5.4 33.0,5.6 33.7,6.7 34.4,4.8 35.1,4.7 35.8,5.9 36.5,5.1 37.2,5.5 37.9,5.3 38.6,4.9 39.3,6.2 40.0,4.3 40.7,4.7 41.4,4.1 42.1,5.0 42.8,4.1 43.5,4.2" fill="none" stroke="#222" stroke-width="1.1"/><circle cx="43.5" cy="4.2" r="1.4" fill="#e02020"/></svg>
<div style="position:absolute;left:1786.3px;top:632.2px;width:400px;height:12.48px;line-height:12.48px;font-size:10.4px;color:#111;font-weight:bold;text-align:left;white-space:nowrap;">S:</div>
<div style="position:absolute;left:1800.8999999999999px;top:629.6999999999999px;width:38.80000000000018px;height:16.40000000000009px;background:#fff;border:1px solid #a9a9a9;box-shadow:inset 1px 1px 0 rgba(0,0,0,.08);"></div>
<div style="position:absolute;left:1758.2px;top:632.7px;width:80px;height:12.48px;line-height:12.48px;font-size:10.4px;color:#1a1a1a;font-weight:normal;text-align:right;white-space:nowrap;font-family:'Liberation Mono',monospace;letter-spacing:0.60px;-webkit-text-stroke:0.35px #1a1a1a;">99.0</div>
<div style="position:absolute;left:1842.7px;top:632.2px;width:400px;height:12.48px;line-height:12.48px;font-size:10.4px;color:#111;font-weight:bold;text-align:left;white-space:nowrap;">%</div>
<div style="position:absolute;left:1878.8px;top:632.2px;width:400px;height:12.48px;line-height:12.48px;font-size:10.4px;color:#111;font-weight:bold;text-align:left;white-space:nowrap;">P:</div>
<div style="position:absolute;left:1895.8px;top:629.6999999999999px;width:29.5px;height:16.40000000000009px;background:#dedede;border:1px solid #a9a9a9;box-shadow:inset 1px 1px 0 rgba(0,0,0,.08);"></div>
<div style="position:absolute;left:1843.8px;top:632.7px;width:80px;height:12.48px;line-height:12.48px;font-size:10.4px;color:#1a1a1a;font-weight:normal;text-align:right;white-space:nowrap;font-family:'Liberation Mono',monospace;letter-spacing:0.60px;-webkit-text-stroke:0.35px #1a1a1a;">0.3</div>
<div style="position:absolute;left:1928.6px;top:632.2px;width:400px;height:12.48px;line-height:12.48px;font-size:10.4px;color:#111;font-weight:bold;text-align:left;white-space:nowrap;">%</div>
<svg style="position:absolute;left:1941.7px;top:628.9px" width="45" height="16"><rect x="0" y="0" width="45" height="16" fill="#c3daf2"/><line x1="1" y1="4.0" x2="1" y2="16" stroke="#555" stroke-width="1"/><polyline points="1.5,8.5 2.2,7.6 2.9,8.1 3.6,8.1 4.3,8.6 5.0,8.0 5.7,8.1 6.4,8.3 7.1,8.1 7.8,8.7 8.5,8.7 9.2,8.5 9.9,7.8 10.6,8.9 11.3,8.4 12.0,8.5 12.7,8.4 13.4,8.4 14.1,8.9 14.8,8.2 15.5,8.1 16.2,9.0 16.9,8.2 17.6,8.3 18.3,8.5 19.0,9.0 19.7,8.5 20.4,8.1 21.1,8.4 21.8,8.4 22.5,8.2 23.2,9.2 23.9,9.0 24.6,8.4 25.3,8.5 26.0,9.4 26.7,9.1 27.4,8.8 28.1,9.0 28.8,9.5 29.5,8.6 30.2,9.1 30.9,8.4 31.6,9.0 32.3,8.7 33.0,8.9 33.7,9.0 34.4,9.0 35.1,9.6 35.8,9.0 36.5,8.6 37.2,9.6 37.9,9.7 38.6,9.6 39.3,9.0 40.0,9.1 40.7,9.6 41.4,8.9 42.1,8.9 42.8,9.4 43.5,9.1" fill="none" stroke="#333" stroke-width="1.1"/><circle cx="43.5" cy="9.1" r="1.4" fill="#e02020"/></svg>
<div style="position:absolute;left:856.6px;top:789px;width:1187px;height:72.6px;background:#14253a;"></div>
<div style="position:absolute;left:782.7px;top:793.6px;width:71.3px;height:37px;background:linear-gradient(#f5422a,#d8170a);border:1px solid #a83a2a;"></div>
<div style="position:absolute;left:778.3px;top:798.5px;width:80px;height:14.16px;line-height:14.16px;font-size:11.8px;color:#fff;font-weight:bold;text-align:center;white-space:nowrap;">Alarms</div>
<div style="position:absolute;left:778.3px;top:813.3px;width:80px;height:14.52px;line-height:14.52px;font-size:12.1px;color:#fff;font-weight:bold;text-align:center;white-space:nowrap;">4 Unacked</div>
<div style="position:absolute;left:782.7px;top:831px;width:71.3px;height:28px;background:#1c2d40;border:1px solid #4a5562;"></div>
<div style="position:absolute;left:778.3px;top:835.8px;width:80px;height:9.36px;line-height:9.36px;font-size:7.8px;color:#fff;font-weight:bold;text-align:center;white-space:nowrap;">Current Time:</div>
<div style="position:absolute;left:778.3px;top:846.7px;width:80px;height:8.64px;line-height:8.64px;font-size:7.2px;color:#fff;font-weight:bold;text-align:center;white-space:nowrap;">11/17/2015 11:31 AM</div>
<div style="position:absolute;left:857.6px;top:791.6px;width:1180px;height:20px;background:linear-gradient(#ffffff,#f2f2f2);"></div>
<div style="position:absolute;left:857.6px;top:811.6px;width:1180px;height:1.5px;background:#cdf2f2;"></div>
<div style="position:absolute;left:857.6px;top:813px;width:1180px;height:45px;background:#09a9a9;"></div>
<div style="position:absolute;left:1023px;top:792px;width:1px;height:19.6px;background:#e2e2e2;"></div>
<div style="position:absolute;left:1313px;top:792px;width:1px;height:19.6px;background:#e2e2e2;"></div>
<div style="position:absolute;left:1582px;top:792px;width:1px;height:19.6px;background:#e2e2e2;"></div>
<div style="position:absolute;left:1811px;top:792px;width:1px;height:19.6px;background:#e2e2e2;"></div>
<div style="position:absolute;left:861.5px;top:798.3px;width:400px;height:9.48px;line-height:9.48px;font-size:7.9px;color:#333;font-weight:normal;text-align:left;white-space:nowrap;">Active Time</div>
<div style="position:absolute;left:1027.0px;top:798.3px;width:400px;height:9.48px;line-height:9.48px;font-size:7.9px;color:#333;font-weight:normal;text-align:left;white-space:nowrap;">Name</div>
<div style="position:absolute;left:1318.4px;top:798.3px;width:400px;height:9.48px;line-height:9.48px;font-size:7.9px;color:#333;font-weight:normal;text-align:left;white-space:nowrap;">Display Path</div>
<div style="position:absolute;left:1586.0px;top:798.3px;width:400px;height:9.48px;line-height:9.48px;font-size:7.9px;color:#333;font-weight:normal;text-align:left;white-space:nowrap;">Current State</div>
<div style="position:absolute;left:1814.8px;top:798.3px;width:400px;height:9.48px;line-height:9.48px;font-size:7.9px;color:#333;font-weight:normal;text-align:left;white-space:nowrap;">Priority</div>
<div style="position:absolute;left:861.5px;top:814.4px;width:400px;height:9.6px;line-height:9.6px;font-size:8px;color:#f4ffff;font-weight:normal;text-align:left;white-space:nowrap;">11/17/15 7:21 AM</div>
<div style="position:absolute;left:1027.0px;top:814.4px;width:400px;height:9.6px;line-height:9.6px;font-size:8px;color:#f4ffff;font-weight:normal;text-align:left;white-space:nowrap;">Rate of Change</div>
<div style="position:absolute;left:1318.4px;top:814.4px;width:400px;height:9.6px;line-height:9.6px;font-size:8px;color:#f4ffff;font-weight:normal;text-align:left;white-space:nowrap;">Line 3 - Primary Extruder - Die 4</div>
<div style="position:absolute;left:1586.0px;top:814.4px;width:400px;height:9.6px;line-height:9.6px;font-size:8px;color:#f4ffff;font-weight:normal;text-align:left;white-space:nowrap;">Cleared, Unacknowledged</div>
<div style="position:absolute;left:1814.8px;top:814.4px;width:400px;height:9.6px;line-height:9.6px;font-size:8px;color:#f4ffff;font-weight:normal;text-align:left;white-space:nowrap;">High</div>
<div style="position:absolute;left:861.5px;top:829.0px;width:400px;height:9.6px;line-height:9.6px;font-size:8px;color:#f4ffff;font-weight:normal;text-align:left;white-space:nowrap;">11/17/15 7:25 AM</div>
<div style="position:absolute;left:1027.0px;top:829.0px;width:400px;height:9.6px;line-height:9.6px;font-size:8px;color:#f4ffff;font-weight:normal;text-align:left;white-space:nowrap;">Rate of Change</div>
<div style="position:absolute;left:1318.4px;top:829.0px;width:400px;height:9.6px;line-height:9.6px;font-size:8px;color:#f4ffff;font-weight:normal;text-align:left;white-space:nowrap;">Line 3 - Primary Extruder - Die 4</div>
<div style="position:absolute;left:1586.0px;top:829.0px;width:400px;height:9.6px;line-height:9.6px;font-size:8px;color:#f4ffff;font-weight:normal;text-align:left;white-space:nowrap;">Cleared, Unacknowledged</div>
<div style="position:absolute;left:1814.8px;top:829.0px;width:400px;height:9.6px;line-height:9.6px;font-size:8px;color:#f4ffff;font-weight:normal;text-align:left;white-space:nowrap;">High</div>
<div style="position:absolute;left:861.5px;top:843.6px;width:400px;height:9.6px;line-height:9.6px;font-size:8px;color:#f4ffff;font-weight:normal;text-align:left;white-space:nowrap;">11/17/15 11:28 AM</div>
<div style="position:absolute;left:1027.0px;top:843.6px;width:400px;height:9.6px;line-height:9.6px;font-size:8px;color:#f4ffff;font-weight:normal;text-align:left;white-space:nowrap;">Very High Drive Load</div>
<div style="position:absolute;left:1318.4px;top:843.6px;width:400px;height:9.6px;line-height:9.6px;font-size:8px;color:#f4ffff;font-weight:normal;text-align:left;white-space:nowrap;">Line 3 - Upstream Roll</div>
<div style="position:absolute;left:1586.0px;top:843.6px;width:400px;height:9.6px;line-height:9.6px;font-size:8px;color:#f4ffff;font-weight:normal;text-align:left;white-space:nowrap;">Cleared, Unacknowledged</div>
<div style="position:absolute;left:1814.8px;top:843.6px;width:400px;height:9.6px;line-height:9.6px;font-size:8px;color:#f4ffff;font-weight:normal;text-align:left;white-space:nowrap;">High</div>
</body></html>
